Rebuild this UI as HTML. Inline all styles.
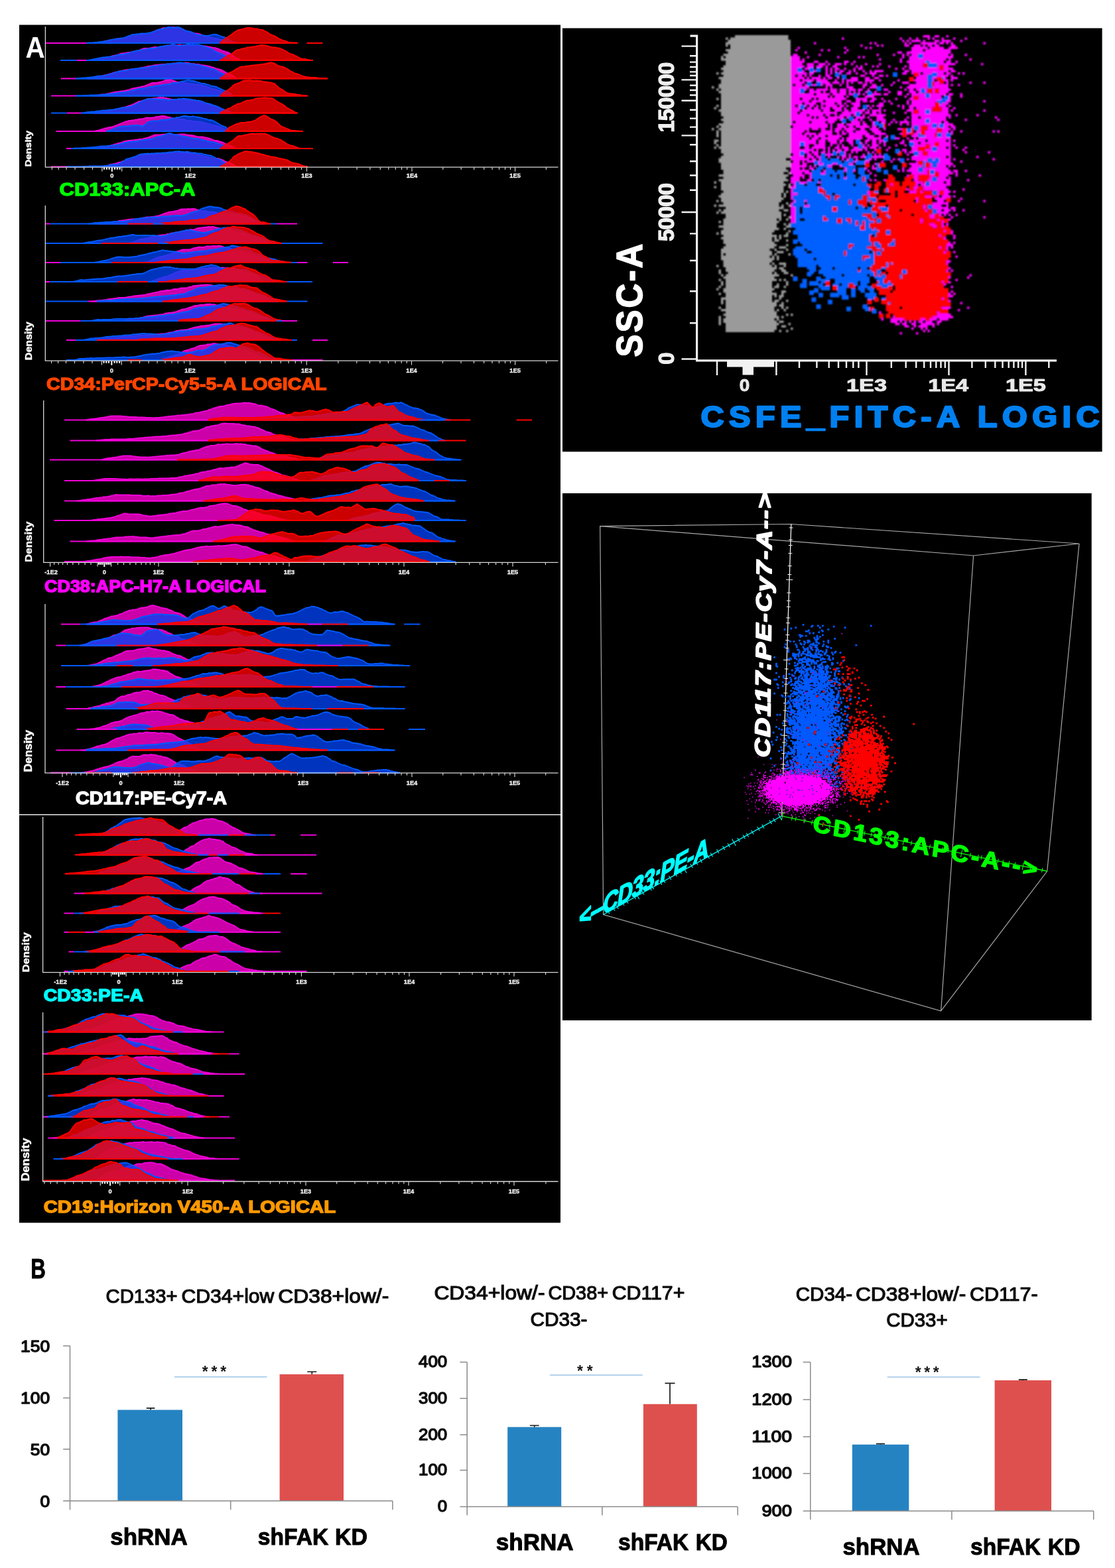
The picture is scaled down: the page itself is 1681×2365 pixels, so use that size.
<!DOCTYPE html>
<html lang="en">
<head>
<meta charset="utf-8">
<title>Figure: flow cytometry histograms and bar charts</title>
<style>
html,body{margin:0;padding:0;background:#fff;}
body{width:1681px;height:2365px;}
svg{display:block;}
text{font-family:"Liberation Sans","DejaVu Sans",sans-serif;}
.b{font-weight:bold;}
.bi{font-weight:bold;font-style:italic;}
</style>
</head>
<body>
<svg width="1681" height="2365" viewBox="0 0 1681 2365">
<defs><filter id="bl0" x="-2%" y="-2%" width="104%" height="104%"><feGaussianBlur stdDeviation="0.5"/></filter>
<filter id="bl1" x="-5%" y="-5%" width="110%" height="110%"><feGaussianBlur stdDeviation="0.9"/></filter>
<filter id="bl2" x="-5%" y="-5%" width="110%" height="110%"><feGaussianBlur stdDeviation="0.55"/></filter></defs>
<rect x="29" y="37.5" width="816" height="1806.8" fill="#000"/>
<rect x="848" y="42.5" width="813.6" height="638.8" fill="#000"/>
<rect x="848" y="744" width="797.7" height="795" fill="#000"/>
<line x1="29" y1="1228.8" x2="845" y2="1228.8" stroke="#e8e8e8" stroke-width="1.6"/>
<g id="histograms" filter="url(#bl0)">
<g id="hist1" transform="scale(.5)" stroke-width="3.7" stroke-linejoin="round">
<path d="M283 130l5-1h5l5-1l5-1l5-1l5-1l5-1l5-1l5-1l5-1l5-1h5l5-2l5-1h5h5l5-1h5l5-1l5-1l5-1l5-2l5-1l5-1l5-2l5-1l5-2l5-1h5l5-1h5h5l5-1l5-2l5-2l5-1l5-3l5-2l5-1l5-2l5-2l5-2l5 1l5-1l5-1h5h5l5-1l5 1h5l5 1l5 2l5 2l5 1l5 3l5 2l5 2l5 1l5 1l5 1l5 2h5l5 1l5 1l5 2l5 2l5 1l5 2l5 2l5 1l5 1l5 1l5 1l5 1l5 1l5 1l5 1l5 1l5 2l5 1l5 1l5 2l5 1l5 1l5 1z" fill="#ff00d2" fill-opacity="0.8" stroke="#f000d8"/>
<path d="M261 130l5-1h5h5h5l5-1h5l5-1h5l5-1h5l5-2h5l5-2l5-1l5-1l5-1l5-1l5-1h5l5-1l5-1h5l5-2l5-2l5-2l5-1l5-3l5-1h5l5-1h5l5-1l5-1h5h5h5l5-1l5-1l5-1l5-2l5-2l5-2l5-2l5-1l5-1h5l5-3h5l5-3h5l5 1h5l5 1l5-1l5-1l5 1l5 2l5 3l5 3l5 2l5 1l5 1l5 1l5 2l5 3l5 2l5 2h5l5 1h5l5 2h5h5l5-1l5-1l5-2h5h5l5 1l5 2l5 2l5 2l5 1l5 2l5 3l5 3l5 3l5 3l5 1l5 1l5 2z" fill="#0044f4" fill-opacity="0.78" stroke="#0058ff"/>
<path d="M662 130l5-3l5-5l5-4l5-4l5-2l5-4l5-3l5-4l5-4l5-3l5-3l5-1l5-1l5-1l5-2l5-1l5-1h5l5 1h5l5 2h5h5l5 2l5 1h5l5 3l5 2l5 3l5 4l5 2l5 3l5 1l5 3l5 3l5 3l5 2l5 2l5 2l5 1l5 2l5 2h5l5 1h5h5l5 1z" fill="#ff0008" fill-opacity="0.8" stroke="#ff0000"/>
<path d="M136 130H261" stroke="#f000d8" stroke-width="4.2" fill="none"/>
<path d="M261 130H662" stroke="#0058ff" stroke-width="4.2" fill="none"/>
<path d="M662 130H895M925 130H973" stroke="#ff0000" stroke-width="4.2" fill="none"/>
<path d="M283 182l5-1h5l5-1l5-1l5-1l5-1l5-2l5-1l5-1l5-2l5-2l5-1l5-1l5-1l5-2l5-2l5-1h5l5-1l5-1l5-1h5l5-1l5-2h5l5-1l5-2l5-2l5-2l5-2h5h5h5l5-1l5-1l5-1l5-1l5 1l5-1h5l5-1l5-2h5l5-2l5 1l5-2l5 1l5-1l5-1l5 2l5-1l5-1l5 2l5-1h5l5 1h5h5h5h5h5l5-1l5-1l5 2l5 1l5 1h5l5 1l5 1l5 1l5 1l5 1h5l5 2l5 1l5 2l5 3l5 2l5 1l5 2l5 1l5 3l5 3l5 5l5 3l5 4l5 1l5 3l5 2z" fill="#ff00d2" fill-opacity="0.8" stroke="#f000d8"/>
<path d="M261 182h5l5-1l5-1l5-1l5-1l5-1l5-1l5-1l5-1l5-1h5l5-1h5l5-1h5l5-1l5-2l5-1l5-1l5-1l5-1h5l5-1l5-1l5-1l5-2l5-2l5-1l5-1l5-2l5-1h5l5-1l5-1h5l5-2l5-1h5l5-1h5h5l5-2l5-1l5-2l5-1h5l5-1l5-1l5-1h5l5-2l5-2l5 2l5 2l5 1l5 1l5-1l5-1h5l5-2l5-1h5l5 1l5-1l5 1h5h5h5l5 2l5 1l5 3h5l5 3l5 1l5 2l5 2l5 4l5 3l5 3l5 1l5 2l5 2l5 3l5 4l5 2l5 3l5 2l5 2l5 2z" fill="#0044f4" fill-opacity="0.78" stroke="#0058ff"/>
<path d="M662 182l5-1l5-3l5-4l5-3l5-3l5-1l5-3l5-4l5-4l5-4l5-2h5l5-2l5-1l5-1l5-2l5-1h5l5-1l5-1h5l5-2h5l5-2l5-1h5l5 1h5l5 2l5 1l5 2l5 1h5h5l5 2h5l5 2l5 2l5 3l5 2l5 4l5 3l5 2l5 1l5 2l5 3l5 2l5 3l5 3l5 1h5l5 1l5 1l5 1l5 1h5z" fill="#ff0008" fill-opacity="0.8" stroke="#ff0000"/>
<path d="M231 182H261" stroke="#f000d8" stroke-width="4.2" fill="none"/>
<path d="M182 182H231M261 182H662" stroke="#0058ff" stroke-width="4.2" fill="none"/>
<path d="M662 182H944" stroke="#ff0000" stroke-width="4.2" fill="none"/>
<path d="M265 237l5-1l5-1h5l5-1h5l5-2l5-1l5-1l5-1l5-2l5-1l5-1l5-2l5-1l5-2l5-1l5-1l5-2l5-1l5-1l5-1l5-1l5-1l5-1h5l5-1l5-1h5h5l5-1l5-1l5-2h5l5-1l5-1l5-2h5l5-1l5-1l5-1l5-1h5l5-1h5l5-1h5h5l5-1h5h5l5-1l5-1h5h5h5h5l5-1h5l5-1l5 1h5l5 2l5 1l5-1l5 2h5h5l5 2l5 1h5l5 1l5 1l5 1l5 1l5 2l5 1l5 2l5 2l5 1l5 1l5 2l5 3l5 3l5 3l5 3l5 1l5 2l5 4l5 3l5 3z" fill="#ff00d2" fill-opacity="0.8" stroke="#f000d8"/>
<path d="M228 237h5l5-1h5l5-1h5h5l5-1h5l5-1h5l5-1l5-1l5-1l5-1h5h5h5l5-2l5-1l5-1l5-2l5-1l5-2l5-2l5-1l5-1l5-1l5-1h5h5l5-2l5-2h5l5-2h5l5-1h5l5-1l5-1h5h5l5-1h5l5-2h5l5-2l5-1h5h5l5-2h5l5-1l5-1l5-1l5-1h5h5l5-1l5-1l5 1l5-2l5-1h5h5l5 1l5 1l5 1h5h5l5 1h5l5 2h5l5 1l5 1l5 2l5 1l5 1l5 2l5 1l5 2l5 2h5l5 2l5 3l5 3l5 3l5 2l5 2l5 3l5 4l5 4l5 2V237z" fill="#0044f4" fill-opacity="0.78" stroke="#0058ff"/>
<path d="M662 237l5-3l5-2l5-4l5-4l5-2l5-3l5-1l5-3l5-3l5-4l5-2l5-3l5-2h5h5l5-2l5 1l5-2h5l5-1h5l5-1h5l5-1l5-1h5l5-1l5-1l5-2h5l5-2l5 2l5 1l5 3l5 3l5 2l5 2h5l5 2l5 3l5 2l5 4l5 3l5 2l5 3l5 2l5 1l5 2l5 2l5 2l5 2l5 1l5 1h5l5 1h5h5h5l5 1l5 1h5h5h5l5 1h5z" fill="#ff0008" fill-opacity="0.8" stroke="#ff0000"/>
<path d="M184 237H228" stroke="#f000d8" stroke-width="4.2" fill="none"/>
<path d="M228 237H662" stroke="#0058ff" stroke-width="4.2" fill="none"/>
<path d="M662 237H987" stroke="#ff0000" stroke-width="4.2" fill="none"/>
<path d="M281 289h5l5-1l5-1l5-1l5-1h5h5l5-2h5l5-2l5-1l5-1l5-1l5-1h5l5-1l5-1h5l5-1l5-2h5l5-2l5-2l5-1l5-1l5-1l5-1l5-1l5-2h5l5-2l5-2l5-2l5-2l5-2l5-1h5h5l5-1l5-1l5-1l5-2l5-2l5-1h5l5-1h5l5 2l5 1l5 3l5 1h5h5l5 2h5l5 1l5 1h5l5 1l5 1h5l5 2l5-1l5 1l5 1l5 1l5 1l5 1l5 2l5 2l5 2l5 2l5 1l5 1l5 2l5 1l5 1l5 3l5 3l5 3l5 3l5 2l5 1z" fill="#ff00d2" fill-opacity="0.8" stroke="#f000d8"/>
<path d="M228 289h5h5h5h5l5-1h5h5h5l5-1h5h5h5h5h5l5-1h5l5-1h5l5-1h5l5-1h5l5-1l5-1h5l5-1l5-1h5h5l5-1l5-1l5-1l5-2l5-2h5l5-1l5-1l5-2l5-1h5h5l5-2h5l5-2l5-1h5l5-1l5-2h5h5l5-1l5-1l5-1l5-1h5l5-1h5l5-3l5-1h5h5l5-1l5-2l5-2h5l5-1l5-1l5-2l5 2l5 1h5l5 1l5 2l5 2l5 1l5 2h5h5l5 3h5l5 2l5 3h5l5 1l5 1l5 3l5 2l5 2l5 3l5 2l5 1l5 3l5 3l5 4l5 4z" fill="#0044f4" fill-opacity="0.78" stroke="#0058ff"/>
<path d="M662 289l5-2l5-5l5-4l5-4l5-2l5-4l5-4l5-5l5-4l5-2l5-2l5-1l5-3l5-3l5-1h5h5l5-1l5 1l5 1h5l5-1l5 1h5h5l5 2l5 1h5l5 1l5 1h5l5 2l5 1l5 5l5 4l5 5l5 2l5 3l5 4l5 3l5 3l5 1l5 1h5l5 1h5l5 2h5l5 1l5 1h5l5 1h5z" fill="#ff0008" fill-opacity="0.8" stroke="#ff0000"/>
<path d="M154 289H228" stroke="#f000d8" stroke-width="4.2" fill="none"/>
<path d="M228 289H662" stroke="#0058ff" stroke-width="4.2" fill="none"/>
<path d="M662 289H927" stroke="#ff0000" stroke-width="4.2" fill="none"/>
<path d="M283 341l5-1h5l5-1h5l5-1l5-1l5-1h5h5l5-1l5-2l5-1l5-2l5-1l5-1l5-2l5-1l5-1l5-1l5-2l5-2l5-1l5-2l5-2l5-3l5-2l5-3h5l5-2l5-1l5-2l5-2l5-1h5h5l5-2l5 1l5-1l5-1l5-1l5 1l5-1l5 2h5l5 2l5 1l5 1h5h5l5 1h5h5l5 1l5-1h5l5 1l5 1h5h5h5h5l5 2l5 2l5 1l5 2l5 2l5 1l5 1l5 1l5 1l5 1l5 2l5 2l5 2l5 2l5 3l5 3l5 2l5 1l5 1l5 2l5 3V341z" fill="#ff00d2" fill-opacity="0.8" stroke="#f000d8"/>
<path d="M245 341h5l5-1l5-1l5-1h5l5-1h5h5l5-1l5-1h5l5-1l5-1h5h5l5-1h5l5-1h5l5-1l5-1l5-1l5-1l5-1l5-1l5-1h5l5-1l5-1l5-1l5-2l5-2l5-3l5-2l5-3l5-2l5-3l5-2l5-2l5-1l5-1l5 1h5h5h5h5l5 1h5h5l5 1l5-1l5 2h5l5-1h5l5-1l5 1l5-2l5-1l5 1l5-2l5 1h5l5 1h5l5 1l5 1l5 1h5l5 2l5-1l5 2l5 1l5 2l5 3l5 1l5 1l5 1l5 2l5 2l5 1l5 2l5 2l5 3l5 2l5 2l5 2l5 1l5 2l5 2l5 3l5 1z" fill="#0044f4" fill-opacity="0.78" stroke="#0058ff"/>
<path d="M662 341l5-2l5-3l5-3l5-2l5-3l5-1l5-2l5-4l5-3l5-2l5-3h5l5-2l5-3l5-2l5-2l5-1h5l5-1l5-1l5-2l5-2h5l5-1h5h5l5-1h5l5 1h5h5l5 1l5 3l5 4l5 3l5 3l5 2l5 3l5 3l5 5l5 3l5 3l5 2l5 3l5 3l5 3l5 1z" fill="#ff0008" fill-opacity="0.8" stroke="#ff0000"/>
<path d="M201 341H245" stroke="#f000d8" stroke-width="4.2" fill="none"/>
<path d="M154 341H201M245 341H662" stroke="#0058ff" stroke-width="4.2" fill="none"/>
<path d="M662 341H895" stroke="#ff0000" stroke-width="4.2" fill="none"/>
<path d="M283 396l5-1l5-1l5-1l5-2l5-1l5-2l5-1l5-1l5-2h5l5-1l5-2l5-2l5-2l5-2l5-2l5-2l5-2l5-2l5-1l5-2h5l5-1h5l5-2h5l5-2h5h5l5-1l5-2l5-1h5l5 1l5-1h5l5-2l5-1h5l5-1l5-1h5l5 1l5 1l5 2h5l5 2l5 1l5 2l5-1l5 1l5 1h5h5l5 1l5 2l5 1h5l5 1l5 1h5l5 1h5l5 1h5l5 2l5 1l5 1l5 2l5 1l5 2l5 1l5 1l5 1l5 2l5 1l5 2l5 2l5 3l5 2l5 2l5 2z" fill="#ff00d2" fill-opacity="0.8" stroke="#f000d8"/>
<path d="M320 396l5-1l5-1l5-2l5-2l5-2l5-2l5-2l5-1l5-1l5-1h5h5h5l5-1l5-1h5l5-1h5l5-1l5 2l5 1l5 1l5-4l5-3l5-5l5-2l5-1l5-1h5h5h5l5-1l5-2h5l5-1l5 1l5-1l5-1l5-2l5-1h5l5-2l5-1h5l5-2l5-1l5-1h5l5 1l5 1h5l5-1h5l5 2h5l5 1l5 1l5 1l5 2h5l5 2l5 2h5l5 1l5 2l5 3l5 3l5 3l5 3l5 3l5 1l5 2l5 5l5 5l5 3z" fill="#0044f4" fill-opacity="0.78" stroke="#0058ff"/>
<path d="M678 396l5-3l5-6l5-4l5-2l5-2l5-3l5-2l5-1l5-2l5-1h5h5l5-1l5-1h5l5-1l5-2l5-2l5-2l5-4l5-3l5-3l5-2l5-1l5 2l5 3l5 4l5 2l5 2l5 3l5 3l5 5l5 5l5 4l5 2l5 2l5 2l5 2l5 2l5 3h5h5l5 1h5l5 1h5h5z" fill="#ff0008" fill-opacity="0.8" stroke="#ff0000"/>
<path d="M169 396H320" stroke="#f000d8" stroke-width="4.2" fill="none"/>
<path d="M320 396H678" stroke="#0058ff" stroke-width="4.2" fill="none"/>
<path d="M678 396H911" stroke="#ff0000" stroke-width="4.2" fill="none"/>
<path d="M283 448l5-1h5l5-1l5-1l5-1h5l5-1l5-1l5-1l5-2l5-1l5-2l5-1l5-2l5-1l5-1l5-2l5-2l5-1l5-1l5-1h5l5-1h5l5-1h5l5-2h5h5l5-2l5-1l5-1l5-2l5-2l5-2l5-2l5-1h5h5h5l5-1h5l5-1h5l5-1l5 1l5 1h5h5h5h5l5-1h5h5h5l5 2h5l5 1h5l5 1l5 1l5 2l5 1h5h5h5l5 2h5l5 2l5 1l5 2l5 2l5 2h5l5 1l5 2l5 1l5 2l5 3l5 2l5 2l5 2l5 2l5 3l5 3l5 1z" fill="#ff00d2" fill-opacity="0.8" stroke="#f000d8"/>
<path d="M215 448h5l5-1h5h5h5h5l5-1h5h5l5-1h5h5l5-1h5l5-1h5l5-1l5-1h5h5h5l5-1h5l5-1h5l5-1l5-1h5l5-2l5-1l5-2l5-1l5-1l5-1l5-1h5l5-1h5l5-1h5l5-1l5-2h5l5-1h5l5-1l5-1h5l5-1l5-3l5-1l5-2l5-1l5-1l5-2l5-1l5-2l5-3l5-1h5l5 2l5 2l5 1h5l5 1l5 1l5 2l5 1h5l5 1l5 2l5 1l5 1l5 1h5h5l5 1l5 2l5 1l5 1l5 1l5 2l5 1l5 1h5l5 1l5 2l5 1l5 2l5 2l5 2l5 2l5 1l5 2l5 3l5 2z" fill="#0044f4" fill-opacity="0.78" stroke="#0058ff"/>
<path d="M662 448l5-2l5-3l5-4l5-4l5-2l5-3l5-3l5-3l5-4l5-5l5-4l5-1h5l5-1l5-1l5-1l5-1l5-2h5l5-1l5 1h5l5-1l5 1l5-2l5 2l5-1l5 1l5 2l5 2l5 3l5 2l5 3l5 1l5 1l5 2l5 2l5 4l5 2l5 4l5 3l5 2l5 2l5 1l5 1l5 3l5 1l5 2l5 1z" fill="#ff0008" fill-opacity="0.8" stroke="#ff0000"/>
<path d="M200 448H215" stroke="#f000d8" stroke-width="4.2" fill="none"/>
<path d="M215 448H662" stroke="#0058ff" stroke-width="4.2" fill="none"/>
<path d="M662 448H944" stroke="#ff0000" stroke-width="4.2" fill="none"/>
<path d="M310 503l5-1l5-1l5-2l5-2l5-1l5-1l5-1l5-1l5-2l5-1l5-1l5-3h5l5-2l5-1h5l5-2l5-3l5-2l5-2l5-3l5-2l5-2l5 1l5-1h5h5l5-1h5h5h5h5l5-1l5-1h5l5-1h5h5h5l5-1h5l5-1h5l5 1h5l5-2l5 1h5h5l5-1l5 2h5l5 1h5l5 1l5 2l5 1l5 1l5 1l5 1l5 1l5 1l5 1l5 2h5l5 2l5 1h5h5l5 1l5 1l5 2l5 3l5 2l5 2l5 2l5 1l5 2l5 4l5 3l5 2z" fill="#ff00d2" fill-opacity="0.8" stroke="#f000d8"/>
<path d="M201 503h5h5h5h5h5h5h5h5h5l5-1h5h5h5l5-1h5h5h5h5h5h5h5h5l5-1h5l5-1l5-1l5-1l5-1h5h5l5-1l5-2l5-3l5-3l5-3l5-4l5-1l5-2l5-1l5-2l5-1l5-2l5-3l5-2l5-1h5l5-1h5l5-1l5 1l5-1h5h5l5-1h5h5h5l5-1h5h5l5-1l5-1h5h5l5-2h5h5l5-1l5 2h5l5 1l5-1h5l5 1l5 2h5h5h5l5 2h5h5l5 1l5 2h5l5 2l5 1h5l5 3l5 2l5 3l5 2l5 2l5 2l5 4l5 3l5 4l5 3l5 2l5 3l5 1z" fill="#0044f4" fill-opacity="0.78" stroke="#0058ff"/>
<path d="M662 503l5-2l5-2l5-4l5-2l5-3l5-3l5-5l5-6l5-5l5-2l5-4l5-2l5-2l5-2l5-2l5-1l5 1l5 1h5l5 1l5 1l5 1l5 1l5 1l5 2l5 1l5 1l5 2l5 1l5 1l5 2l5 1h5l5 1l5 1l5 2h5l5 2h5l5 2l5 1l5 3l5 3l5 2l5 1l5 1l5 1l5 1l5 3l5 1l5 2l5 1l5 1z" fill="#ff0008" fill-opacity="0.8" stroke="#ff0000"/>
<path d="M154 503H201" stroke="#f000d8" stroke-width="4.2" fill="none"/>
<path d="M201 503H662" stroke="#0058ff" stroke-width="4.2" fill="none"/>
<path d="M662 503H927" stroke="#ff0000" stroke-width="4.2" fill="none"/>
</g>
<g id="axis1">
<path d="M68.4 40V252.2H841.5" fill="none" stroke="#d8d8d8" stroke-width="1.3"/>
<path d="M198.1 252.2v3.7M139.5 252.2v3.7M211 252.2v3.7M126.6 252.2v3.7M224.5 252.2v3.7M113.1 252.2v3.7M237.5 252.2v3.7M100.1 252.2v3.7M249.4 252.2v3.7M88.2 252.2v3.7M259.3 252.2v3.7M78.3 252.2v3.7M268.6 252.2v3.7M278 252.2v3.7M339.7 252.2v3.7M370.6 252.2v3.7M392.6 252.2v3.7M409.6 252.2v3.7M423.5 252.2v3.7M435.3 252.2v3.7M445.5 252.2v3.7M454.5 252.2v3.7M510.2 252.2v3.7M538.1 252.2v3.7M557.9 252.2v3.7M573.3 252.2v3.7M585.8 252.2v3.7M596.4 252.2v3.7M605.6 252.2v3.7M613.7 252.2v3.7M667.8 252.2v3.7M695.2 252.2v3.7M714.7 252.2v3.7M729.8 252.2v3.7M742.1 252.2v3.7M752.5 252.2v3.7M761.5 252.2v3.7M769.5 252.2v3.7M823.4 252.2v3.7M286.8 252.2v6.2M183.7 252.2v6.2M153.9 252.2v6.2M462.5 252.2v6.2M621 252.2v6.2M776.6 252.2v6.2" fill="none" stroke="#d8d8d8" stroke-width="1.15"/>
<path d="M157 252.5v3.2M160.8 252.5v3.2M164.6 252.5v3.2M173 252.5v3.2M176.8 252.5v3.2M180.6 252.5v3.2M168.8 252.5v6.3" fill="none" stroke="#f4f4f4" stroke-width="2.1"/>
<text x="168.8" y="267.6" font-size="9.3" fill="#ececec" class="b" text-anchor="middle" stroke="#ececec" stroke-width="0.35">0</text>
<text x="286.8" y="267.6" font-size="9.3" fill="#ececec" class="b" text-anchor="middle" stroke="#ececec" stroke-width="0.35">1E2</text>
<text x="462.5" y="267.6" font-size="9.3" fill="#ececec" class="b" text-anchor="middle" stroke="#ececec" stroke-width="0.35">1E3</text>
<text x="621" y="267.6" font-size="9.3" fill="#ececec" class="b" text-anchor="middle" stroke="#ececec" stroke-width="0.35">1E4</text>
<text x="776.6" y="267.6" font-size="9.3" fill="#ececec" class="b" text-anchor="middle" stroke="#ececec" stroke-width="0.35">1E5</text>
<text x="0" y="0" font-size="13.4" fill="#ffffff" class="b" textLength="54.6" lengthAdjust="spacingAndGlyphs" transform="translate(47.4 251.6) rotate(-90)" stroke="#fff" stroke-width="0.45">Density</text>
<text x="89.5" y="294.5" font-size="27.0" fill="#00ff00" class="b" textLength="205" lengthAdjust="spacingAndGlyphs" stroke="#00ff00" stroke-width="1.3" stroke-linejoin="round">CD133:APC-A</text>
</g>
<g id="hist2" transform="scale(.5)" stroke-width="3.7" stroke-linejoin="round">
<path d="M298 675l5-1h5l5-2h5l5-1h5h5l5-1l5-1l5-1h5l5-2h5l5-1h5l5-1l5-1l5-1h5l5-1h5h5l5-1h5l5-1l5-1l5-1l5-1l5-1h5h5l5-1h5l5-1l5-1l5-1l5-2l5-2l5-2l5-2l5-1l5-2l5-1h5l5-1l5-1l5-1l5-2l5-2l5-1h5h5h5l5-1l5 1l5-1h5h5l5 2l5 2l5 2l5 1h5l5-1l5 1l5 2h5h5l5 1h5l5 2l5 1h5h5h5l5 1h5l5 2l5-1l5 1l5 1l5 1l5 1h5l5 1l5 1h5h5l5 2l5 1l5 3l5 3l5 3l5 2l5 2l5 3l5 2l5 1l5 1l5 1z" fill="#ff00d2" fill-opacity="0.8" stroke="#f000d8"/>
<path d="M267 675h5l5-1l5-1l5-1h5h5l5-1h5h5l5-1h5h5h5l5-1h5l5-1h5h5h5h5h5l5-1h5l5-1l5-1l5-1l5-2l5-1l5-1h5l5-1l5-1h5l5-1h5l5-1h5h5l5-1h5h5h5h5l5-2h5h5h5h5l5-1l5-1h5h5l5-1h5l5 1h5l5-1l5-1l5-2l5-1l5-3l5-2l5-1l5-2h5l5-2l5-3l5-3l5-2l5-1l5-2l5-1l5-1h5l5 1l5 1l5 1l5-1l5 2l5 1l5 3l5 2l5 1l5 2l5 2h5l5 1l5 3l5 1l5 1l5 1h5l5 2l5 1l5 1l5 2l5 3l5 2l5 3l5 3l5 3l5 3l5 2l5 1l5 2l5 2z" fill="#0044f4" fill-opacity="0.78" stroke="#0058ff"/>
<path d="M473 675h5l5-1l5-1h5l5-1h5h5h5l5-1l5-1l5-1h5h5l5-1h5h5h5l5-1l5-1l5-1l5-1h5h5h5l5-1l5-1h5h5l5-1l5-2l5-3l5-3l5-2l5-1l5-1l5-2l5-2l5-3l5-1l5-3h5l5-3l5-2l5-3l5-3l5-2l5-2l5-1l5 1l5 1l5 2l5 3l5 1l5 4l5 3l5 4l5 2l5 4l5 4l5 6l5 7l5 4l5 2h5l5 1l5 1l5 2l5 1z" fill="#ff0008" fill-opacity="0.8" stroke="#ff0000"/>
<path d="M138 675H151M834 675H896" stroke="#f000d8" stroke-width="4.2" fill="none"/>
<path d="M151 675H385M462 675H493M816 675H834" stroke="#0058ff" stroke-width="4.2" fill="none"/>
<path d="M385 675H462M493 675H816" stroke="#ff0000" stroke-width="4.2" fill="none"/>
<path d="M389 734l5-2l5-1l5-2l5-2l5-2l5-2l5-1l5-1h5l5-2h5l5-2l5-1l5-1l5-2h5l5-1l5-2h5l5-1h5l5-1l5-2h5l5-2l5-1h5l5-2h5l5-1l5-2h5l5-1l5-2h5l5-1l5-2l5 1h5l5-2l5-2l5-1l5-1h5l5-1h5l5-1l5-1l5 1l5-1h5l5 2l5 1l5 1l5 1l5 1l5 1h5h5l5 1l5 1l5 1l5 3l5 2h5l5 1l5 2l5 1h5l5 1l5 2l5 1l5 2l5 1l5 3l5 1l5 3l5 2l5 2l5 2l5 1l5 1l5 1l5 2l5 2l5 1l5 1l5 2z" fill="#ff00d2" fill-opacity="0.8" stroke="#f000d8"/>
<path d="M249 734l5-1l5-1l5-1l5-1h5l5-1l5-1l5-1l5-1l5-1h5l5-1l5-1l5-2h5l5-2l5-1h5l5-1l5-1l5-1l5-1h5l5-1l5-1h5l5-1l5-1l5-1l5-1h5l5 2h5h5h5h5h5h5h5h5l5 1l5-1h5l5 1h5l5 1l5 1h5l5-2h5l5-2l5-2l5-2l5-1l5-1l5-2h5l5-1l5-1l5-2h5l5-2l5-1h5h5l5 1l5 2l5 1l5 1l5 1l5 1l5 1h5h5l5-2l5-1l5-1l5-1l5-1l5-3l5-1l5-2l5-1h5l5-2h5h5l5 2h5l5 1l5 1h5l5 1l5 1l5 1l5 1l5 3l5 2l5 2l5 3l5 1l5 3l5 1l5 1l5 2l5 1l5 2l5 1l5 1l5 3l5 2l5 2l5 2l5 2h5l5 3l5 2z" fill="#0044f4" fill-opacity="0.78" stroke="#0058ff"/>
<path d="M489 734l5-1l5-1l5-1h5h5l5-1l5-1l5-1h5l5-1l5-1h5l5-1l5-1l5 1l5-1h5l5-1h5l5-2h5l5-1l5-1l5-1l5-1l5-1l5-2l5-3l5-3l5-2l5-2l5-2h5l5-3l5-2l5-3l5-3l5-1l5-3l5-1l5 1l5-3l5-1l5 1l5 1l5 1l5-1l5 1h5l5 1l5 2l5 1l5 3l5 2l5 3l5 3l5 3l5 2l5 2l5 2l5 3l5 4l5 4l5 3l5 3l5 1h5l5 1l5 2l5 1l5 1l5 1z" fill="#ff0008" fill-opacity="0.8" stroke="#ff0000"/>
<path d="M138 734H305M477 734H508M850 734H973" stroke="#0058ff" stroke-width="4.2" fill="none"/>
<path d="M305 734H477M508 734H850" stroke="#ff0000" stroke-width="4.2" fill="none"/>
<path d="M437 792v-1h5l5-2l5-2l5-2l5-3l5-1l5-3l5-2l5-1l5-1l5-1l5-1l5-2l5-1l5-2l5-2l5-2l5-2l5-2l5-1l5-2l5-2l5-1h5h5h5h5l5-2l5-2l5-1l5-1l5-1l5-1l5 1h5l5-1l5-2h5h5h5l5-1h5l5 1l5-2l5 1h5l5 2l5 2l5 2l5 1h5l5 1l5 2l5 2l5 1l5 2l5 1h5l5 2l5 1l5 1l5 1l5 1l5 2l5 2l5 2l5 2l5 1l5 3l5 1l5 1l5 1l5 2l5 3l5 3l5 3l5 2z" fill="#ff00d2" fill-opacity="0.8" stroke="#f000d8"/>
<path d="M286 792v-1h5l5-1l5-1l5-1l5-1l5-1l5-1l5-1l5-2l5-2l5-1l5-2l5-1l5-1h5h5l5 1h5h5h5h5l5-1h5l5-1h5l5-2l5-1l5-1l5-1l5-1l5-1l5-2l5-1l5-1l5-2h5l5-1l5-2l5-1l5-1l5-2l5 2h5l5 1l5 1h5l5 1h5h5l5 2l5 1l5 1l5 1h5l5-1h5l5-1h5l5-1l5-1l5-1h5l5-1h5l5-1h5h5l5-2l5-1h5l5-1h5l5-1l5-1l5-2h5l5-1l5-1l5-1l5-1h5l5-3l5-1l5 1l5 1h5l5 2h5l5 1l5 2l5 2l5 1l5 2l5 4l5 2l5 3l5 2l5 2l5 1l5 2l5 2l5 2l5 3l5 2l5 1l5 1l5 1l5 1l5 1l5 2l5 2l5 1h5l5 2l5 2z" fill="#0044f4" fill-opacity="0.78" stroke="#0058ff"/>
<path d="M471 792v-1h5l5-1l5-1h5l5-1h5l5-1l5-1h5l5-1h5l5-1h5l5-1h5h5l5-1h5l5-1l5-1l5-1l5-1l5-2h5l5-1l5-1l5-1h5h5l5-1l5-1l5-1l5-2l5-1l5-2h5l5-1l5-1l5-1h5l5-1l5-2l5-1l5-1l5-2l5-1l5-2l5-2l5-2l5-1l5-1h5l5-1h5l5 1l5 2l5 1l5 2h5l5 2l5 2l5 4l5 4l5 6l5 4l5 1l5 3l5 3l5 3l5 2l5 1h5l5 1h5l5 1l5 1h5l5 1l5 1h5h5V792z" fill="#ff0008" fill-opacity="0.8" stroke="#ff0000"/>
<path d="M138 792H182M896 792H927M1004 792H1050" stroke="#f000d8" stroke-width="4.2" fill="none"/>
<path d="M182 792H336M877 792H896" stroke="#0058ff" stroke-width="4.2" fill="none"/>
<path d="M336 792H877" stroke="#ff0000" stroke-width="4.2" fill="none"/>
<path d="M450 850l5-1l5-2l5-1l5-2l5-2l5-2l5-1l5-2l5-1l5-1l5-2l5-2l5-2l5-2l5-3l5-2l5-2l5-1l5-2l5-2h5l5 1h5l5-1h5l5-1h5h5h5l5-2l5-1h5l5-1l5-1l5 1l5-2h5l5-1l5 1h5h5h5h5l5-1l5 1l5 1l5-1l5 1h5l5 1l5-1l5 2l5 2l5 1l5 1l5 2l5 3l5 1l5 2l5 2l5 1l5 1l5 1l5 2l5 3l5 5l5 4l5 4l5 3V850z" fill="#ff00d2" fill-opacity="0.8" stroke="#f000d8"/>
<path d="M220 850l5-1l5-1l5-2l5-1l5-1l5 1h5l5-1h5l5-1h5l5-1h5h5l5-1h5h5h5l5-1l5-1l5-1h5l5-1l5-1l5-1l5-1l5-1h5h5h5l5-1l5-1h5l5-1l5-1l5-1h5l5-1l5-1h5h5l5-1l5-1l5-3l5-2l5-3l5-2l5-1l5-1l5-1l5-1l5-2h5l5-2h5l5-1l5 1h5h5l5 2h5l5 2l5-1l5 2h5h5h5h5l5 1l5-1l5 1l5-1l5 1l5-1l5-2l5-1l5-2l5-1l5-1l5-2h5l5-1l5-2h5l5 2h5l5 2l5 2l5 3l5 2h5h5l5 1h5l5-1l5 2l5 1l5-1l5 1h5l5 1l5-1l5 1h5l5 1l5 2l5 3l5 3l5 1l5 2l5 2l5 2l5 2h5l5 2l5 2l5 3l5 2l5 2l5 1l5 2l5 3l5 1z" fill="#0044f4" fill-opacity="0.78" stroke="#0058ff"/>
<path d="M495 850h5l5-1l5-2h5h5l5-1h5l5-1l5-1l5-1h5l5-1l5-1l5-1h5h5l5-1h5h5l5-1l5-1l5-2l5-1l5-1l5-1l5-1l5-1l5-1h5l5-1l5-2l5-2l5-3l5-3l5-2l5-3l5-2l5-1l5-1h5l5-3l5-2l5-1l5-2h5l5-2l5 3l5 2l5 3l5 1l5 1l5 2l5 1l5 2l5 1l5 4l5 3l5 3l5 2l5 2l5 1l5 3l5 3l5 4l5 3l5 2h5l5 1h5l5 1l5 1l5 1l5 1h5z" fill="#ff0008" fill-opacity="0.8" stroke="#ff0000"/>
<path d="M138 850H151" stroke="#f000d8" stroke-width="4.2" fill="none"/>
<path d="M151 850H354M446 850H477M865 850H942" stroke="#0058ff" stroke-width="4.2" fill="none"/>
<path d="M354 850H446M477 850H865" stroke="#ff0000" stroke-width="4.2" fill="none"/>
<path d="M276 909h5l5-1l5-1h5l5-1h5l5-1h5l5-1l5-1l5-1h5l5-1l5-1h5l5-2h5h5h5h5l5-1l5-1l5-1h5l5-2h5l5-1h5l5-1h5l5-1h5l5-2l5-1l5-1l5-1l5-1l5-1l5-1l5-1l5-2l5-1h5l5-1l5-1l5-1l5 1l5-1l5-2l5-1h5h5l5-2l5-1h5h5h5l5-1l5-3l5 1l5-3l5-1h5l5-1h5l5-1h5h5l5-1h5l5 1h5l5 1l5 2l5 1l5-1l5 2l5 1l5 1l5-1l5 1l5 1l5-1l5 2l5-1l5 1l5 1h5l5 1l5 1h5l5-1l5 2l5 2l5 2l5 1l5 2l5 2l5 3l5 2l5 1l5 3l5 1l5 2h5l5 2l5 3l5 2l5 3l5 2l5 2l5 1z" fill="#ff00d2" fill-opacity="0.8" stroke="#f000d8"/>
<path d="M289 909h5l5-1l5-1h5h5h5l5-1h5h5h5l5-1l5-1h5h5l5-1h5l5-1h5h5h5h5h5l5-1h5h5h5l5-1h5l5-1h5h5l5-1l5-1l5-1h5h5l5-1h5l5-1h5l5-1h5h5l5-1l5-1h5h5l5-1l5-1l5-1h5l5-1h5l5-2l5-2l5-3l5-1l5-2l5-2l5-3l5-2l5-2h5h5l5-1h5l5-1l5-1l5-2h5l5-1h5l5-1l5-2l5 1h5h5l5 1l5 1l5 3h5h5h5l5 1l5 1l5 1l5 2l5 2l5 1h5l5 1l5 1l5 2l5 2l5 2l5 2l5 2l5 2l5 1l5 1l5 1l5 2l5 3l5 2l5 2l5 3l5 1l5 1l5 2l5 3z" fill="#0044f4" fill-opacity="0.78" stroke="#0058ff"/>
<path d="M495 909l5-1h5l5-1l5-1l5-1h5l5-1h5l5-1l5-1l5-1h5l5-1h5l5-1l5-1l5-1l5-1l5-1l5-1l5-2l5-1l5-1l5-1l5-1l5-1l5-2l5-3l5-1l5-1l5-2h5l5-3l5-1l5-3l5-2l5-2l5-2l5-2l5 1h5l5-1l5-1h5l5-1l5-1l5 1h5h5h5l5 2l5 3l5 1l5 1h5l5 1l5 4l5 4l5 4l5 2l5 2l5 3l5 3l5 3l5 4l5 3l5 1l5 1l5 1l5 1l5 2h5l5 1l5 1z" fill="#ff0008" fill-opacity="0.8" stroke="#ff0000"/>
<path d="M265 909H292" stroke="#f000d8" stroke-width="4.2" fill="none"/>
<path d="M138 909H265M292 909H489M865 909H927" stroke="#0058ff" stroke-width="4.2" fill="none"/>
<path d="M489 909H865" stroke="#ff0000" stroke-width="4.2" fill="none"/>
<path d="M374 968l5-1l5-1l5-2l5-1l5-1h5l5-1l5-1h5l5-2h5l5-2l5-1l5-1l5-1h5l5-1h5l5-1h5l5-1l5-1h5l5-2l5-2h5l5-1h5l5-1l5-1l5-1l5-2l5-2l5-2l5-2h5l5-1l5-2l5-2l5-1l5-2l5-2l5-1h5l5-1l5-1l5-1l5 1l5-2h5h5l5-1l5 2l5-1l5 1l5 2h5l5 2l5 1l5 1l5 1h5h5l5 1l5 1l5 2l5 2l5 1l5 1l5 2l5 1h5l5 1l5 1l5 2l5 1l5 3l5 2l5 3l5 1l5 2l5 1l5 2l5 2l5 1l5 2l5 3l5 3V968z" fill="#ff00d2" fill-opacity="0.8" stroke="#f000d8"/>
<path d="M274 968l5-1l5-1l5-1l5-1h5l5 1l5-1h5h5h5h5h5l5-1h5l5-1h5h5h5h5h5h5h5l5-1h5h5h5l5-1h5h5l5-1l5-1h5l5-1l5-1h5h5h5l5-1l5-1h5l5-1l5-1l5 1l5-1l5-1l5-1l5-1h5h5l5-1l5-1l5-1l5-1l5-1l5-2h5l5-1l5-1l5-1l5-2l5-2l5-3l5-2h5l5-3l5 1h5l5-1l5-1h5h5l5-1l5-2l5 1l5-1l5-1l5-2l5-1l5-2l5-1l5 1l5 1l5 1l5 1l5 1l5 2l5 1l5 1l5 2l5 1l5 2l5 1l5 3l5 2l5 1l5 2h5l5 2l5 1l5 3l5 2l5 3l5 3l5 1l5 2l5 1l5 1l5 3l5 2l5 2l5 2l5 1z" fill="#0044f4" fill-opacity="0.78" stroke="#0058ff"/>
<path d="M532 968l5-1l5-1l5-1l5-1h5h5l5-1h5h5l5-1h5h5h5l5-1l5-2l5-2l5-3l5-2l5-2l5-1l5-3l5-3l5-4l5-3l5-3l5-1l5-1l5-2l5-1l5-2l5-2l5-4h5l5-3l5-1h5l5 1l5-1h5h5l5-1l5 2l5 1l5 3l5 4l5 2l5 3h5l5 2l5 3l5 3l5 4l5 4l5 2l5 2l5 3l5 3l5 3l5 3l5 1l5 2h5l5 1l5 2z" fill="#ff0008" fill-opacity="0.8" stroke="#ff0000"/>
<path d="M138 968H243M850 968H896" stroke="#f000d8" stroke-width="4.2" fill="none"/>
<path d="M243 968H539M834 968H850" stroke="#0058ff" stroke-width="4.2" fill="none"/>
<path d="M539 968H834" stroke="#ff0000" stroke-width="4.2" fill="none"/>
<path d="M286 1026l5-1l5-1l5-1h5h5l5-1l5-1h5l5-1h5l5-1h5h5l5-1l5-1l5-1h5l5-1h5h5l5-1h5h5h5l5-1l5-1h5h5h5h5l5-1h5l5-1h5h5l5-1l5-1h5h5l5-1h5h5l5-1l5-2l5-1h5l5-1l5-2l5-2h5l5-1l5-1h5l5-1h5l5-1l5-2l5-1l5-2l5-1l5-1l5-1l5-1l5-2h5h5l5-1h5l5-1l5-2h5l5-2h5h5h5h5l5 1h5h5l5 2l5 1l5 2l5 1l5-1l5 1l5 1h5l5 2l5 1l5 2l5 3l5 1l5 1l5 2h5l5 1l5 2l5 1l5 2l5 3l5 3l5 2l5 4l5 2l5 2l5 1l5 2l5 3V1026z" fill="#ff00d2" fill-opacity="0.8" stroke="#f000d8"/>
<path d="M251 1026l5-1l5-1l5-1l5-2h5h5l5-1h5h5l5-1h5l5-1l5-1l5-1h5l5-1h5l5-1h5h5l5-1h5h5l5-1l5-1h5h5h5l5-1l5-2l5 1l5-1h5l5-1h5l5-1h5l5 1h5h5h5l5 1h5h5l5 1l5 1l5-1h5l5-1l5-1l5-1l5-1h5l5-2l5-1l5-1h5l5-2l5-1l5 1l5-1h5l5-1h5l5-1l5-1l5-1l5-1h5h5h5l5-1h5l5-2h5l5-1l5-3l5-1h5l5-1l5-2l5-1l5-1l5-1l5-2l5 1l5-2l5-1h5l5 2l5 2l5 2h5l5 2l5 1l5 1l5 2h5l5 2l5 2l5 2l5 2l5 3l5 2l5 3l5 2h5l5 1l5 2l5 2l5 3l5 2l5 2l5 2l5 2l5 1l5 2l5 2z" fill="#0044f4" fill-opacity="0.78" stroke="#0058ff"/>
<path d="M409 1026h5l5-1l5-2h5h5h5h5h5l5-1h5l5-1h5h5h5h5h5h5h5l5-1l5 1h5l5-1h5h5l5-1h5l5-1h5h5l5-1l5-1h5l5-1h5h5l5-1h5h5l5-1l5-1l5-2l5-2l5-1l5-2l5-1l5-2l5-1l5-1l5-2l5-2l5-4l5-2l5-2l5-2l5-2l5-1l5-1h5l5-1h5l5-3l5-1l5-1l5-1l5 1h5l5 2l5 2l5 1l5 1l5 2l5 1h5l5 4l5 4l5 3l5 3l5 4l5 2l5 2l5 2l5 4l5 3l5 2l5 2l5 1h5l5 1l5 1h5l5 1l5 1l5 1h5z" fill="#ff0008" fill-opacity="0.8" stroke="#ff0000"/>
<path d="M200 1026H228M942 1026H988" stroke="#f000d8" stroke-width="4.2" fill="none"/>
<path d="M228 1026H292M880 1026H896" stroke="#0058ff" stroke-width="4.2" fill="none"/>
<path d="M292 1026H880" stroke="#ff0000" stroke-width="4.2" fill="none"/>
<path d="M481 1086h5l5-2l5-2l5-2l5-2l5-1l5-2l5-1l5-2l5-1l5-2l5-3l5-2l5-3l5-3l5-1l5-1l5-2l5-2l5-1l5-1l5-3l5-2l5-2l5-1h5l5-1h5l5-3l5 1l5-1l5-1l5-1l5 1l5 1l5 1h5l5 1h5l5 1l5 1l5 2l5 1h5l5 3l5 2l5 2l5 1l5 2h5h5l5 2l5 2l5 1l5 3l5 2l5 2l5 3l5 2l5 2l5 2l5 2l5 1l5 1l5 2l5 3l5 1z" fill="#ff00d2" fill-opacity="0.8" stroke="#f000d8"/>
<path d="M220 1086h5l5-1l5-2l5-1h5h5h5l5-1h5h5l5-1l5 1h5l5-1h5h5h5h5h5l5-1h5h5h5h5h5l5-1h5h5h5l5-1h5l5 1h5h5l5-1h5h5l5-1l5-1l5-1l5-1l5-1l5-1l5-1l5-1h5l5-1l5-1l5 1l5-1l5-1h5l5-2l5-1l5-1l5-1l5-1h5l5-1h5l5 1l5 1h5h5l5 2h5l5 1l5 1h5l5-2h5l5-1l5-1l5-2l5-1l5-1h5h5l5-1l5-2l5-2l5-4l5-3l5-2l5-2l5-2l5 1l5-2l5 1l5-2h5l5-2l5-1h5h5l5 1l5 2l5 1l5 2l5 1l5 2l5 2l5 1l5 1l5 2l5 2l5 1l5 3l5 3l5 2l5 2l5 1l5 1l5 2l5 3l5 2l5 3l5 3l5 2l5 2l5 1l5 3l5 1z" fill="#0044f4" fill-opacity="0.78" stroke="#0058ff"/>
<path d="M476 1086h5l5-1l5-1h5h5l5-1h5l5-1l5-1l5-1h5l5-1h5l5-1l5-1l5-2l5-2l5-3h5h5l5 2l5 2l5 1l5 1l5 1l5-1l5-1l5-1l5-1l5-1l5-1l5-2l5-3l5-4l5-3l5-3l5-3l5-2l5 1l5-2h5l5-1h5h5l5-1l5 2l5 1l5-3l5-2l5-4l5-4l5-1l5-1l5-1l5 1l5 2h5l5 1l5 1l5 3l5 3l5 5l5 4l5 4l5 4l5 3l5 3l5 3l5 4l5 3l5 2h5h5l5 1l5 1l5 1h5l5 1h5l5 1h5z" fill="#ff0008" fill-opacity="0.8" stroke="#ff0000"/>
<path d="M880 1086H973" stroke="#f000d8" stroke-width="4.2" fill="none"/>
<path d="M200 1086H385M428 1086H493" stroke="#0058ff" stroke-width="4.2" fill="none"/>
<path d="M385 1086H428M493 1086H880" stroke="#ff0000" stroke-width="4.2" fill="none"/>
</g>
<g id="axis2">
<path d="M68.3 310V544.2H841.5" fill="none" stroke="#d8d8d8" stroke-width="1.3"/>
<path d="M197.6 544.2v3.7M139 544.2v3.7M210.6 544.2v3.7M126 544.2v3.7M224.1 544.2v3.7M112.5 544.2v3.7M237.1 544.2v3.7M99.5 544.2v3.7M249 544.2v3.7M87.6 544.2v3.7M259 544.2v3.7M77.6 544.2v3.7M268.3 544.2v3.7M277.6 544.2v3.7M339.4 544.2v3.7M370.4 544.2v3.7M392.3 544.2v3.7M409.4 544.2v3.7M423.3 544.2v3.7M435.1 544.2v3.7M445.3 544.2v3.7M454.3 544.2v3.7M509.9 544.2v3.7M537.8 544.2v3.7M557.5 544.2v3.7M572.9 544.2v3.7M585.4 544.2v3.7M596 544.2v3.7M605.2 544.2v3.7M613.3 544.2v3.7M667.5 544.2v3.7M695 544.2v3.7M714.5 544.2v3.7M729.6 544.2v3.7M742 544.2v3.7M752.4 544.2v3.7M761.5 544.2v3.7M769.5 544.2v3.7M823.6 544.2v3.7M286.5 544.2v6.2M183.2 544.2v6.2M153.4 544.2v6.2M462.3 544.2v6.2M620.5 544.2v6.2M776.6 544.2v6.2" fill="none" stroke="#d8d8d8" stroke-width="1.15"/>
<path d="M156.5 544.5v3.2M160.3 544.5v3.2M164 544.5v3.2M172.6 544.5v3.2M176.3 544.5v3.2M180.1 544.5v3.2M168.3 544.5v6.3" fill="none" stroke="#f4f4f4" stroke-width="2.1"/>
<text x="168.3" y="561.5" font-size="9.3" fill="#ececec" class="b" text-anchor="middle" stroke="#ececec" stroke-width="0.35">0</text>
<text x="286.5" y="561.5" font-size="9.3" fill="#ececec" class="b" text-anchor="middle" stroke="#ececec" stroke-width="0.35">1E2</text>
<text x="462.3" y="561.5" font-size="9.3" fill="#ececec" class="b" text-anchor="middle" stroke="#ececec" stroke-width="0.35">1E3</text>
<text x="620.5" y="561.5" font-size="9.3" fill="#ececec" class="b" text-anchor="middle" stroke="#ececec" stroke-width="0.35">1E4</text>
<text x="776.6" y="561.5" font-size="9.3" fill="#ececec" class="b" text-anchor="middle" stroke="#ececec" stroke-width="0.35">1E5</text>
<text x="0" y="0" font-size="14.2" fill="#ffffff" class="b" textLength="58" lengthAdjust="spacingAndGlyphs" transform="translate(47.7 543.2) rotate(-90)" stroke="#fff" stroke-width="0.45">Density</text>
<text x="70" y="587.8" font-size="25.8" fill="#ff4400" class="b" textLength="422.6" lengthAdjust="spacingAndGlyphs" stroke="#ff4400" stroke-width="1.3" stroke-linejoin="round">CD34:PerCP-Cy5-5-A LOGICAL</text>
</g>
<g id="hist3" transform="scale(.5)" stroke-width="3.7" stroke-linejoin="round">
<path d="M260 1267l5-1l5-1l5-1h5l5-1h5l5-1l5-1l5-1h5l5-1l5-1l5-1l5-1l5-1h5h5h5h5h5h5l5 1h5l5 1h5l5 1h5h5h5h5l5 1h5h5h5h5l5 1h5h5h5l5 1h5l5-1h5h5l5-1h5l5-1l5-1h5l5-1h5l5-1h5l5-1l5-1h5h5l5-1h5l5-1h5l5-1l5-1h5l5-2l5-2h5h5l5-2l5-1l5-1l5-1l5-1l5-3l5-1l5-2l5-2l5-1l5-2l5-1l5-1h5l5-1l5-2l5-1l5-1l5-1l5-2h5l5-1h5h5h5l5-1l5-1h5l5 1l5-1l5 1l5 1l5 1l5 1l5 2l5 2h5h5l5 2l5 1l5 1l5 2l5 3l5 2l5 1l5 2l5 3l5 2l5 3l5 1l5 1l5 3l5 2h5l5 2l5 2l5 2l5 2l5 3l5 2l5 1l5 1z" fill="#ff00d2" fill-opacity="0.8" stroke="#f000d8"/>
<path d="M792 1267l5-1l5-1l5-1h5h5l5-1h5h5h5l5-1h5h5h5l5-1h5l5-1h5l5-1h5l5-1h5h5l5-1h5h5h5h5l5-1h5h5l5-1l5-1l5-1l5-1h5l5-1l5-1h5l5-1l5-1l5-1h5h5l5-1l5-1h5l5-2l5-1l5-3l5-2l5-3l5-4l5-2l5-2l5-2l5-2l5-2l5 1h5h5l5 2l5 2h5h5l5 2l5 1h5h5h5l5-1l5-2l5-1l5-2l5-3l5-1l5-1h5h5l5-1l5-2l5 1l5 1l5-2l5 1l5 2l5 3l5 2l5 3l5 2l5 2l5 2h5l5 1l5 1l5 2l5 2l5 3l5 4l5 3l5 1l5 2l5 1l5 1l5 1l5 2l5 2l5 2l5 3l5 1l5 1l5 1l5 1h5V1267z" fill="#0044f4" fill-opacity="0.78" stroke="#0058ff"/>
<path d="M627 1267l5-2l5-1l5-1h5l5-1l5-1h5l5-1h5l5-1l5 1h5l5-1l5 1l5-1l5 1h5h5h5h5h5h5h5h5h5h5h5h5h5l5-1h5h5h5h5l5-1h5l5-1l5-1h5h5l5-1l5-1h5h5l5-1h5l5-1l5-1l5-1h5l5-2l5-4h5l5 1h5h5l5-1l5-1l5-2l5-1l5-2l5 1h5l5 1l5 2h5l5-2l5-1l5-2l5-1l5-2l5 2l5 1l5 3l5 3l5 1l5-1h5h5h5l5-1h5h5h5l5-2l5-3l5-3l5-3l5-2l5-2l5-2l5-2l5-3l5-2l5-3l5-1l5 5l5 5l5 5l5-2l5-6l5-3l5-2l5 1l5 3l5 3l5 2l5 2h5l5-1l5-2h5l5 7l5 5l5 6l5 2l5 2l5 3l5 3l5 2l5 2l5 1l5 1l5 1l5 2l5 2l5 1h5l5 1l5 1l5 1z" fill="#ff0008" fill-opacity="0.8" stroke="#ff0000"/>
<path d="M194 1267H627" stroke="#f000d8" stroke-width="4.2" fill="none"/>
<path d="M1264 1267H1341" stroke="#0058ff" stroke-width="4.2" fill="none"/>
<path d="M627 1267H1264M1341 1267H1419M1557 1267H1604" stroke="#ff0000" stroke-width="4.2" fill="none"/>
<path d="M290 1329l5-1h5l5-1h5l5-1h5h5h5l5-1h5h5h5h5h5h5h5h5h5l5-1h5h5h5l5-1h5l5-1h5l5-1h5l5-1h5l5-1h5h5l5-1h5l5-1h5h5h5l5-1h5h5l5-1l5-1h5l5-1h5h5l5-1l5-1h5l5-1l5-2l5-1l5-1l5-2l5-1l5-2l5-1h5l5-1h5l5-3l5-2l5-1l5-4l5-1h5l5-3h5l5-1l5-1h5l5-2l5-2l5-1l5-1h5l5 1h5h5h5h5l5 1h5h5l5 1l5 2l5 1h5l5 2h5l5 1l5 1h5l5 1l5 2l5 1l5 3l5 2l5 2l5 3l5 2l5 1l5 1l5 3l5 2l5 2l5 1h5l5 2l5 1l5 2l5 2l5 2h5l5 2l5 2h5l5 1l5 1h5l5 1z" fill="#ff00d2" fill-opacity="0.8" stroke="#f000d8"/>
<path d="M884 1329l5-1l5-1l5-1l5-1l5-1l5 1l5-1h5h5l5-1l5-1h5h5l5-1h5l5-1h5h5l5-1l5-1h5h5l5-1h5h5l5-1h5h5l5-1h5l5-1l5-1l5-1h5l5-1h5l5-1l5-1h5l5-1l5-2l5-2l5-3l5-2l5-2l5-2l5-2l5 1l5-1l5-1l5-1l5-2l5-1l5-3h5l5-1l5-1l5-1l5-1l5-1l5-1l5-1l5-1l5 1l5 2l5 3l5 1h5h5l5 1h5h5l5 1l5 2l5 2l5 3l5 2l5 2l5 1l5 3l5 2l5 2l5 1l5 3l5 3l5 4l5 4l5 2l5 2l5 2l5 2l5 1z" fill="#0044f4" fill-opacity="0.78" stroke="#0058ff"/>
<path d="M627 1329l5-2h5h5l5-1h5l5-1h5l5-1l5 1l5-1l5-1h5h5l5-1h5h5h5h5h5h5l5-1h5h5l5-1h5l5-1h5l5-1h5h5h5h5l5-1l5 1h5l5-1h5l5-1l5-1l5-1l5-1h5l5-1h5l5 1l5 1l5 1l5 1h5l5 1l5 3l5 1l5 1l5 1l5 2h5h5h5l5-1h5h5l5-1h5h5h5h5h5l5-1h5l5-1h5h5l5-1h5h5h5l5-1h5h5h5l5-1h5h5h5l5-1h5h5h5l5-1h5l5-1l5-1l5-1l5-1l5-1l5-3l5-6l5-6l5-4l5-2l5-3l5-1l5-2l5-2h5l5-1l5-2h5l5 5l5 5l5 5l5 3l5 2l5 4l5 4l5 3l5 2l5 2l5 1l5 1l5 2l5 1l5 2l5 1h5l5 1l5 1l5 1l5 1l5 1l5 1l5 1h5z" fill="#ff0008" fill-opacity="0.8" stroke="#ff0000"/>
<path d="M211 1329H627" stroke="#f000d8" stroke-width="4.2" fill="none"/>
<path d="M1294 1329H1323" stroke="#0058ff" stroke-width="4.2" fill="none"/>
<path d="M627 1329H1294M1323 1329H1405" stroke="#ff0000" stroke-width="4.2" fill="none"/>
<path d="M307 1387l5-2l5-1l5-1l5-1h5l5-1l5-1h5l5-1l5-1l5-1l5-1l5-1h5h5h5h5h5l5 2h5l5 1h5l5 1h5h5h5h5l5 1l5-1h5l5-1h5l5-1h5l5-1h5l5-1h5l5-1h5h5l5-1h5h5l5-1h5l5-2l5-2l5-1l5-1l5-1l5-2l5-1l5-1l5-1l5-1l5-1h5l5-2l5-3l5-2l5-2l5-2h5l5-2l5-1h5h5l5-2l5-2l5 1h5l5-1h5l5-1h5l5 1h5h5l5-1l5-1l5 1h5h5l5 1h5l5 1l5 2h5l5 1l5 1h5h5l5 2l5 2l5 4l5 2l5 2l5 2l5 2l5 2l5 2l5 1l5 2l5 3l5 1h5l5 1l5 2l5 1l5 1l5 1l5 2h5l5 2h5l5 1l5 2l5 1l5 1z" fill="#ff00d2" fill-opacity="0.8" stroke="#f000d8"/>
<path d="M945 1387l5-1l5-1l5-2l5-2l5-2l5-1l5-1h5l5-1l5-1l5-1h5l5-1h5l5-1l5-1l5-2l5-1l5-1h5h5l5-1h5l5-1l5-2l5-2l5-1l5-1l5-2h5l5-1l5-2l5-1l5-1l5-1l5-1l5-1l5 1h5l5-1l5-1l5-2l5 1h5l5-1l5-2h5h5l5-1l5 1l5-2h5h5l5-2h5h5l5-1h5l5-2l5-2h5h5l5 2l5 1l5 1l5 2h5l5 3l5 2l5 3l5 6l5 4l5 2l5 3l5 4l5 5l5 2l5 3l5 2l5 2l5 1h5l5 1l5 1h5l5 1l5 1h5h5z" fill="#0044f4" fill-opacity="0.78" stroke="#0058ff"/>
<path d="M534 1387h5h5h5h5h5h5l5-1h5l5 1l5-1h5h5h5h5h5h5l5-1h5h5h5h5l5-1l5-1l5-1l5-1l5-1l5-1l5-1l5-2l5-1h5h5h5h5h5h5h5h5l5 1l5-1h5h5h5h5l5-1h5h5h5h5h5l5-1h5h5h5h5l5-1h5h5h5h5l5 1l5-1h5h5h5h5h5h5h5l5 2h5l5 1l5 1l5 1l5 1l5 1l5 1h5h5h5l5 1h5l5 1h5h5h5l5-1l5-4l5-3l5-3l5-1h5l5-1h5l5-2l5-1h5h5l5-1l5-2l5-2l5-2l5-2l5-2l5-1l5-1l5-1l5-2l5-2l5-1l5-2h5h5h5h5l5 1l5-1l5 1l5 2l5 3l5-1l5-4l5-5l5-4h5l5 3h5l5 2h5h5l5 3l5 2l5 4l5 3l5 3l5 4l5 3l5 2l5 2l5 1l5 2l5 2l5 1l5 1l5 1l5 1l5 3l5 2l5 1l5 2h5l5 1h5l5 1h5z" fill="#ff0008" fill-opacity="0.8" stroke="#ff0000"/>
<path d="M150 1387H534" stroke="#f000d8" stroke-width="4.2" fill="none"/>
<path d="M1311 1387H1387" stroke="#0058ff" stroke-width="4.2" fill="none"/>
<path d="M534 1387H1311" stroke="#ff0000" stroke-width="4.2" fill="none"/>
<path d="M280 1450l5-1l5-1l5-1h5l5-1l5-1l5-1h5h5h5h5h5h5h5l5 1h5h5l5 1l5-1l5 1h5l5-1h5h5l5 1l5-1h5h5h5l5 1l5-1h5h5h5l5-1h5h5h5h5l5-1h5h5h5h5h5h5l5-1h5h5h5l5-1l5-2h5l5-1l5-2l5-1h5l5-1l5-1l5-1l5-1l5-2h5l5-2l5-2l5-1h5l5-1l5-2h5l5-1l5-2l5-1l5-1l5-2l5-1l5-1l5 1h5l5-2h5h5l5-1l5-1l5 1l5-2l5-1l5-3l5-2l5-2l5-2l5-2l5 2l5 1l5 2h5l5 1h5h5h5l5 3l5 1l5 3l5 2l5 2l5 2l5 3l5 3l5 2l5 2l5 1l5 2l5 2l5 3l5 1l5 1l5 1l5 2l5 1l5 2l5 2l5 2l5 1l5 2l5 1l5 1z" fill="#ff00d2" fill-opacity="0.8" stroke="#f000d8"/>
<path d="M934 1450l5-1l5-2l5-1l5-2l5-2l5-2l5-2l5-2l5-1l5-1h5l5-1h5l5-1l5-1l5-1l5-1h5l5-2l5-1h5l5-1l5-1h5h5l5-2h5l5-1l5-4l5-2l5-3l5-2l5-3l5-1l5-1l5-2l5-2l5-2l5-2l5-1l5-1l5 1h5l5 2l5-1l5 3h5h5h5l5 1h5l5 1l5-1h5l5 1h5h5h5l5 1l5 2l5 2l5 2l5 2l5 2l5 1l5 1l5 2l5 3l5 2l5 2l5 1l5 2l5 2l5 2l5 2l5 2l5 1l5 1l5 1l5 2l5 2l5 3l5 2h5l5 1h5h5h5l5 1h5h5h5l5 1h5z" fill="#0044f4" fill-opacity="0.78" stroke="#0058ff"/>
<path d="M598 1450l5-1l5-1l5-2l5-1l5-2l5-1l5-1l5-1l5-1h5h5h5h5h5l5-1h5h5l5-1l5 1h5h5h5h5l5-1l5-1h5l5-1h5l5-1h5l5-1h5l5-1l5-2l5-2l5-2l5-2l5-1l5 1l5-1l5 1h5h5l5 1l5 1l5 2l5 2l5 1l5 1l5 2l5 1l5 1l5 1l5 1l5 1l5 1l5-2l5-2l5-3l5-4l5-3l5-1l5 1l5-1l5-1h5h5l5-1h5l5 2l5 1l5 1l5 2l5 1l5-1l5-3l5-2l5-4l5-3l5-1l5-2l5-2l5-1l5-2l5 2l5 1l5 1h5l5 2l5 2l5 2l5 3l5 3l5 1l5-1l5-2l5-3l5-1l5-1l5-1l5-1l5-2l5-4l5-3l5-4h5l5-1l5-1l5-1h5h5l5-2l5 3l5 1l5 1l5 3l5 1l5 2l5 2l5 5l5 3l5 5l5 3l5 1l5 3l5 3l5 3l5 2l5 3l5 1l5 2l5 3l5 1V1450z" fill="#ff0008" fill-opacity="0.8" stroke="#ff0000"/>
<path d="M194 1450H598" stroke="#f000d8" stroke-width="4.2" fill="none"/>
<path d="M1264 1450H1309M1355 1450H1405" stroke="#0058ff" stroke-width="4.2" fill="none"/>
<path d="M598 1450H1264M1309 1450H1355" stroke="#ff0000" stroke-width="4.2" fill="none"/>
<path d="M231 1511h5l5-1l5-1l5-1h5l5-1l5-1h5l5-1l5-1l5-1l5-1h5l5-1h5l5-2h5h5l5-1l5-1l5-2h5l5-2l5-1l5 1h5h5h5h5h5h5h5l5 1h5h5h5h5h5h5l5 2h5h5l5-1l5 1l5 1l5-1l5 1l5-1l5-1h5h5l5-1h5h5h5l5-1l5-1h5l5-1h5l5-2l5-1l5-1h5l5-2l5-2l5-1l5-1l5-2l5-1l5-2h5l5-1l5-1l5-2l5-2l5-1l5-3h5h5l5-2l5-1h5h5l5-2h5l5-1l5 1l5-1l5 1l5 1h5l5 1l5 1h5l5 1l5-1l5-1l5-1h5h5h5l5 1h5l5 3h5l5 2l5 2l5 1l5 1l5 2l5 3l5 2l5 2l5 1l5 3l5 2l5 1l5 2l5 1l5 2l5 2h5l5 2l5 1l5 2l5 1l5 1l5 1l5 1l5 1l5 2l5 2l5 1l5 1h5z" fill="#ff00d2" fill-opacity="0.8" stroke="#f000d8"/>
<path d="M916 1511l5-1l5-1l5-1l5-2l5-1l5-1h5l5-1l5-1h5l5-1l5-2h5l5-2l5-1l5-1h5h5l5-1l5-1h5h5l5-2l5-1l5-2h5l5-1l5-2l5-3h5l5-2l5-1l5-1l5-1l5-1l5-1l5-2l5-1l5-2l5-2h5h5l5-2l5-1h5h5l5-3h5h5h5l5-1l5-1l5 1l5 2l5 2h5l5 2l5 1h5l5-1h5h5h5l5 2l5 1h5l5 2l5 1l5 2l5 3l5 1l5 2l5 1l5 3l5 3l5 3l5 3l5 1l5 2l5 3l5 3l5 1l5 1l5 2l5 1l5 1h5h5l5 1l5 1h5z" fill="#0044f4" fill-opacity="0.78" stroke="#0058ff"/>
<path d="M613 1511h5l5-1l5-1l5-1h5l5-1l5-1l5-1l5-1h5h5l5-1l5-1l5-1l5-2h5l5-2h5l5-1l5 1l5 1l5 2l5 2l5 1l5 1h5h5h5l5 1h5h5l5 1h5h5h5h5l5 1h5h5h5h5h5h5h5h5h5h5l5-1h5l5 1h5h5h5h5l5-1l5-1l5-1l5-1l5-1l5 1h5l5 2h5l5 1l5 1h5h5h5h5l5-1l5-1l5-1h5l5-1l5-1h5l5-1l5-1h5l5-1h5l5-1l5-1l5-1l5-1l5-2l5-1h5l5-2l5-2l5-2l5-3l5-2l5-2l5-4l5-3l5-3l5-1l5-2l5-1l5-1l5-1l5-1l5-1h5l5 2l5 4l5 4l5 2l5 3l5 4l5 5l5 3l5 3l5 2l5 1l5 2l5 2l5 2l5 1l5 1l5 1l5 1h5l5 1l5 1h5h5l5 1l5 1l5 1l5 2h5z" fill="#ff0008" fill-opacity="0.8" stroke="#ff0000"/>
<path d="M194 1511H613" stroke="#f000d8" stroke-width="4.2" fill="none"/>
<path d="M1279 1511H1373" stroke="#0058ff" stroke-width="4.2" fill="none"/>
<path d="M613 1511H1279" stroke="#ff0000" stroke-width="4.2" fill="none"/>
<path d="M278 1570v-1l5-1h5l5-1l5-1h5l5-1h5l5-1l5-1h5l5-1l5-1l5-1l5-2l5-2l5-1l5-2l5-2l5-2h5l5 1l5 1h5h5h5h5h5h5l5 1l5 1l5 2h5l5 1l5 1l5 1l5-1l5-1h5l5-1l5-1h5l5-1h5l5-1h5l5-2l5-1h5l5-1h5l5-2l5-1l5-1l5-1l5-1h5h5l5-1l5-2l5-1l5-1l5-1l5-2l5-1l5-1l5-1l5 1l5-1l5-1l5-2l5-2h5l5-1h5l5-2l5-1l5-1l5-1l5-1h5h5l5 1l5 2l5 2l5 2h5l5 1l5 1l5 2l5 2l5 3l5 2l5 1l5 3l5 1h5l5 2h5l5 2l5 2l5 1l5 2l5 2l5 1l5 1h5l5 1l5 1l5 2l5 1l5 2l5 1l5 2l5 1l5 1l5 1l5 1h5l5 1h5z" fill="#ff00d2" fill-opacity="0.8" stroke="#f000d8"/>
<path d="M1043 1570h5l5-2l5-2l5-1l5-2l5-1l5-1h5l5-1l5-1l5-2l5-1l5-1l5-2l5-2l5-1l5-2h5l5-1l5-2l5-2l5-1l5-1h5h5l5-3l5-5l5-4l5-4l5-3l5-2l5 1l5 1l5 3l5 3l5 3l5 1l5 3l5 1l5 3l5 2l5 1l5 1h5l5 1h5l5 1h5l5 1l5 1l5 3l5 3l5 3l5 2l5 1l5 3l5 3l5 2h5h5h5h5l5 1h5l5 1h5h5h5l5 1h5h5h5z" fill="#0044f4" fill-opacity="0.78" stroke="#0058ff"/>
<path d="M657 1570h5h5h5h5l5-1h5h5h5l5-1h5h5l5-3l5-3l5-4l5-2l5-4l5-4l5-3l5-5l5-1h5l5-2l5-1l5 1h5h5l5 2l5 2h5h5l5-1l5-1h5h5l5 1l5-1l5 2l5 1l5 1l5 1l5-1l5-1l5-1h5l5-2h5l5 2l5 1l5 3l5 3l5 1l5-2l5-2l5-1l5-1l5 1l5 4l5 5l5 4l5 1l5-2l5-2l5-2l5-2l5-3l5-2l5-1l5-2l5-1l5-2l5-3l5-2l5-3l5-2h5l5 1l5 1h5l5-1l5 2l5-3l5-3l5-3l5-3l5 4l5 3l5 3l5 4l5 2h5l5-1h5l5-1h5l5 1l5 1l5 2h5l5 1l5 2l5 1l5 1l5 2l5 1l5 2l5 1h5l5 1h5l5 1l5 1h5h5l5 1l5 2l5 2l5 3l5 1l5 9z" fill="#ff0008" fill-opacity="0.8" stroke="#ff0000"/>
<path d="M163 1570H657" stroke="#f000d8" stroke-width="4.2" fill="none"/>
<path d="M1249 1570H1405" stroke="#0058ff" stroke-width="4.2" fill="none"/>
<path d="M657 1570H1249" stroke="#ff0000" stroke-width="4.2" fill="none"/>
<path d="M260 1633h5l5-1l5-1h5h5l5-1l5-1l5-1h5l5-1l5-1h5l5-1h5l5-1l5-1l5-1l5-1h5h5h5h5l5-1l5-1h5h5h5l5-1l5 1h5l5 1l5 1h5h5h5h5l5 1h5l5 1h5l5-1l5-1h5l5-1l5-1h5l5-1h5l5-1l5-1h5l5-1h5l5-1h5h5l5-1l5-2h5l5-2l5-2l5-2l5-2l5-1l5-1h5h5h5l5-2l5-2l5-1h5l5-2l5-1l5-1l5-2l5-1l5-1l5 1h5l5-2h5l5-1l5-1l5-1l5-1h5l5-2l5 2l5 1h5h5l5 1l5 1l5 2l5 1h5l5 2l5 3l5 2l5 3l5 1l5 2l5 1l5 2l5 1l5 1l5 2l5 2l5 1h5l5 1l5 1l5 2l5 1l5 2l5 1l5 2l5 1l5 1l5 1l5 2l5 2l5 2l5 1l5 1z" fill="#ff00d2" fill-opacity="0.8" stroke="#f000d8"/>
<path d="M972 1633h5l5-2l5-2l5-2l5-2l5-3l5-1l5-2l5-3l5-2h5l5-1l5-1h5l5-1h5l5-2h5l5-2l5-1l5-1l5-2l5-1l5-1l5-1l5-2l5-1h5l5-1l5-2l5-2l5 1l5-1l5-1h5l5-1l5-1l5-1l5-1h5l5-2l5 1l5-2l5-1l5-2h5l5-1l5-1l5-1l5 2l5 1l5 1h5l5 3h5h5l5 1h5l5 1l5 4l5 3l5 4l5 3l5 3l5 2l5 1l5 3l5 4l5 4l5 3l5 1l5 2l5 2l5 1l5 2l5 1l5 1l5 1l5 1h5z" fill="#0044f4" fill-opacity="0.78" stroke="#0058ff"/>
<path d="M642 1633h5l5-1l5-1l5-1l5-1l5-2l5-1l5-1l5-2l5-1l5-1l5-1l5-1h5h5h5l5-1h5h5h5h5l5 1l5-1h5l5 2l5 1l5 1l5 1h5l5-2l5-2l5-2l5-2l5-1l5-2l5-1l5-1l5-2l5-1l5-1l5-1l5-1l5 2l5 1l5 2l5 1l5-1l5 1l5 1l5 2l5 3l5 2h5h5h5l5-1l5 1l5-1l5-1h5l5-2l5-2l5-2l5-1l5-2h5l5-1l5-1h5l5-1h5h5l5-1h5l5 1l5 1l5 3l5 1l5 2h5l5-1l5-2l5-3l5-3l5-3l5-2l5-3l5-2l5-2l5-3l5-1l5-4l5-1l5 1l5 2l5 2l5 2h5l5 2l5-1l5 1l5 2h5h5l5-2l5-1l5-2l5-1l5-1l5 1l5 1h5l5 2l5 2l5 1l5 1l5 2l5 5l5 6l5 5l5 4l5 1l5 2l5 2l5 3l5 2l5 2l5 1l5 1h5l5 1h5l5 1l5 1h5l5 1h5z" fill="#ff0008" fill-opacity="0.8" stroke="#ff0000"/>
<path d="M211 1633H642" stroke="#f000d8" stroke-width="4.2" fill="none"/>
<path d="M1326 1633H1373" stroke="#0058ff" stroke-width="4.2" fill="none"/>
<path d="M642 1633H1326" stroke="#ff0000" stroke-width="4.2" fill="none"/>
<path d="M250 1694h5l5-1l5-1h5l5-1l5-1l5-1l5-1l5-1h5l5-1l5-2l5-1l5-1l5-1h5l5-1h5h5h5h5h5l5-1l5 1h5h5h5h5l5 1h5h5h5h5h5l5 1h5h5l5 1h5l5 1l5-1l5-1h5l5-1l5-1l5-2l5-1l5-1l5-1l5-1h5l5-1l5-1l5-1l5-1l5-2l5-1l5-2l5-1l5-2l5-1l5-1l5-1l5-1h5l5-2l5-1l5-2l5-1l5-1l5-1l5-1h5l5-1h5l5 1l5-1h5h5l5-1h5l5-1l5 1h5l5-1h5l5-1h5l5-1l5-1h5l5-1l5 1l5 2l5 1l5 2l5 1h5l5 1l5 2l5 3l5 2l5 2l5 2l5 2l5 1l5 2h5l5 2l5 3l5 1l5 2h5l5 2l5 1l5 1l5 2l5 2l5 2l5 1l5 1l5 1l5 2l5 2l5 2l5 1z" fill="#ff00d2" fill-opacity="0.8" stroke="#f000d8"/>
<path d="M923 1694l5-1l5-2l5-1l5-2l5-3l5-2l5-2l5-2l5-1l5-2l5-1l5-1l5-2l5-1l5-1l5-2l5-2l5-2l5-2l5-2l5-2l5-2h5l5-1l5-1l5-1l5-1h5l5-1l5-2l5-2l5-1l5-1h5h5l5-1l5 1h5h5l5 1l5 1h5l5 1l5 1h5l5 1l5 1h5l5 2h5l5 1l5 1h5l5 2h5l5 2h5l5 1l5-1l5 1l5 1l5 1l5 2l5 1h5l5 1h5l5-1h5l5-1h5l5 1l5-1l5 2l5 3l5 3l5 3l5 2l5 1l5 3l5 2l5 3l5 2h5l5 2l5 1h5l5 2l5 1h5z" fill="#0044f4" fill-opacity="0.78" stroke="#0058ff"/>
<path d="M583 1694h5l5-1h5l5-1h5l5-1h5l5-1h5l5-1l5-1h5h5l5-1h5l5-1h5h5l5-1h5l5-1h5l5 1h5l5 1l5 1l5 1l5 1h5h5l5-1l5-1l5-1l5-1h5l5-1l5-1l5-2l5-1l5-1l5-1l5-1l5-1l5-1h5l5-1l5-2l5-3l5-2l5 1l5 1l5 3l5 2l5 3l5 3l5 1l5 3l5 2l5 2l5-2l5-4h5h5l5-2l5-1l5-1h5l5-1h5h5h5l5 1l5 1h5h5h5h5l5-2l5-2l5-3l5-2l5-3l5-1l5-2l5-2l5-1l5-2l5-3l5-3l5-2l5-2l5-1l5-1l5 1h5l5-1l5-1l5 1l5 1l5 2l5 1l5 1l5 2l5 1h5l5-1l5-1l5-2l5-1l5-1l5 1l5-3l5-2l5-3h5l5-1l5 2l5 3l5 1l5 3l5 1l5 2l5 3l5 4l5 2l5 2l5 2l5 3l5 2l5 2l5 3l5 2l5 2l5 1l5 2l5 3l5 2l5 1l5 1l5 1l5 2l5 1h5z" fill="#ff0008" fill-opacity="0.8" stroke="#ff0000"/>
<path d="M194 1694H583" stroke="#f000d8" stroke-width="4.2" fill="none"/>
<path d="M1296 1694H1373" stroke="#0058ff" stroke-width="4.2" fill="none"/>
<path d="M583 1694H1296" stroke="#ff0000" stroke-width="4.2" fill="none"/>
</g>
<g id="axis3">
<path d="M65.7 604V848.3H841.5" fill="none" stroke="#d8d8d8" stroke-width="1.3"/>
<path d="M177.6 848.3v3.7M137 848.3v3.7M186.5 848.3v3.7M128.1 848.3v3.7M195.9 848.3v3.7M118.7 848.3v3.7M204.8 848.3v3.7M109.8 848.3v3.7M213.1 848.3v3.7M101.5 848.3v3.7M220 848.3v3.7M94.6 848.3v3.7M226.4 848.3v3.7M88.2 848.3v3.7M232.9 848.3v3.7M81.7 848.3v3.7M298.3 848.3v3.7M333 848.3v3.7M357.6 848.3v3.7M376.7 848.3v3.7M392.3 848.3v3.7M405.5 848.3v3.7M416.9 848.3v3.7M427 848.3v3.7M488.1 848.3v3.7M518.5 848.3v3.7M540.2 848.3v3.7M556.9 848.3v3.7M570.6 848.3v3.7M582.2 848.3v3.7M592.2 848.3v3.7M601.1 848.3v3.7M658.4 848.3v3.7M687.2 848.3v3.7M707.7 848.3v3.7M723.6 848.3v3.7M736.6 848.3v3.7M747.6 848.3v3.7M757.1 848.3v3.7M765.5 848.3v3.7M822.4 848.3v3.7M239 848.3v6.2M75.6 848.3v6.2M167.6 848.3v6.2M147 848.3v6.2M436 848.3v6.2M609 848.3v6.2M773 848.3v6.2" fill="none" stroke="#d8d8d8" stroke-width="1.15"/>
<path d="M149.1 848.6v3.2M151.7 848.6v3.2M154.4 848.6v3.2M160.2 848.6v3.2M162.9 848.6v3.2M165.5 848.6v3.2M157.3 848.6v6.3" fill="none" stroke="#f4f4f4" stroke-width="2.1"/>
<text x="157.3" y="865.9" font-size="9.3" fill="#ececec" class="b" text-anchor="middle" stroke="#ececec" stroke-width="0.35">0</text>
<text x="239" y="865.9" font-size="9.3" fill="#ececec" class="b" text-anchor="middle" stroke="#ececec" stroke-width="0.35">1E2</text>
<text x="436" y="865.9" font-size="9.3" fill="#ececec" class="b" text-anchor="middle" stroke="#ececec" stroke-width="0.35">1E3</text>
<text x="609" y="865.9" font-size="9.3" fill="#ececec" class="b" text-anchor="middle" stroke="#ececec" stroke-width="0.35">1E4</text>
<text x="773" y="865.9" font-size="9.3" fill="#ececec" class="b" text-anchor="middle" stroke="#ececec" stroke-width="0.35">1E5</text>
<text x="77" y="865.9" font-size="9.3" fill="#ececec" class="b" text-anchor="middle" stroke="#ececec" stroke-width="0.35">-1E2</text>
<text x="0" y="0" font-size="15.1" fill="#ffffff" class="b" textLength="61.4" lengthAdjust="spacingAndGlyphs" transform="translate(48 848) rotate(-90)" stroke="#fff" stroke-width="0.45">Density</text>
<text x="67" y="892.8" font-size="26.6" fill="#ff00ff" class="b" textLength="334" lengthAdjust="spacingAndGlyphs" stroke="#ff00ff" stroke-width="1.6" stroke-linejoin="round">CD38:APC-H7-A LOGICAL</text>
</g>
<g id="hist4" transform="scale(.5)" stroke-width="3.7" stroke-linejoin="round">
<path d="M260 1883l5-1l5-2l5-1l5-1l5-1h5l5-2l5-2l5-2l5-2l5-3l5-1l5-2l5-1l5-3h5l5-1l5-1l5-1l5-3l5-1l5-2l5-3l5-2l5-2l5-2h5l5-2l5 1l5-1l5-2l5-2l5-1l5-1h5l5-1l5-1l5-3l5-1l5-1l5 1l5 1l5 2l5 1l5 2l5 1l5 1l5 1l5 1l5 3l5 1l5 2l5 4l5 1l5 1l5 1l5 2l5 3l5 3l5 4l5 3l5 2l5 1l5 1l5 2l5 2l5 2l5 2l5 2l5 1h5l5 1l5 1l5 1z" fill="#ff00d2" fill-opacity="0.8" stroke="#f000d8"/>
<path d="M265 1883l5-1l5-1h5l5-1l5-1h5l5-1l5-1l5-1l5-1l5-1l5-1l5-1l5-1l5-1h5l5 1h5h5l5 1h5l5 1h5l5-1h5h5l5-1l5-2l5-1l5-2l5-1l5-3l5-2h5l5-2h5l5-2h5l5-2l5-1h5h5h5h5h5l5 1h5h5l5 1h5h5h5l5 1l5 1l5 1l5 3l5 2l5 2l5 1l5-1l5-3l5-4l5-5l5-3l5-2l5-3l5-2l5-1l5-1l5-1l5-4l5-2l5-3l5-2l5-1h5l5 3l5 3l5 2l5-2l5-3l5-3l5 1l5 2l5 3l5 2l5 3l5 2l5 2l5-1l5 1l5 2l5 1h5h5l5 2l5-1l5 1l5-2l5-2l5-3l5-3l5-5l5-2h5l5 2l5 2l5 2l5 2l5 2l5 1l5 7l5 8l5 1l5-1h5l5-1l5-1h5l5-2h5l5-1h5l5-2l5-1l5-2l5-2l5-3l5-2l5-3l5-2l5-2h5l5-2l5-2l5 1h5l5 2l5 1l5 3l5 1l5 3l5 2l5 3l5 2l5 2h5l5-2l5-1l5 1l5-1l5-1l5-1h5l5 2l5 2l5 1l5 3l5 2l5 3l5 2l5 2l5 2l5 3l5 4l5 4l5 2l5-1h5l5 1h5h5h5h5l5 1h5h5l5 1l5 1h5l5 1l5 1l5 1l5 1h5z" fill="#0044f4" fill-opacity="0.78" stroke="#0058ff"/>
<path d="M475 1883l5-1h5h5l5-1h5l5-1h5h5l5-1l5-1h5l5-1h5h5h5l5-1h5h5l5-2l5-1l5-2l5-3l5-3l5-2l5-2l5-1l5-1l5-2l5-1l5-2l5-1l5-2l5-2l5-2l5-2l5-2l5-1h5l5-2l5-3l5-2l5-2l5-1l5-2l5-2l5-2l5 2l5 2l5 5l5 3l5 5l5 4l5 1l5 2l5 4l5 5l5 4l5 4l5 4l5-1l5 1h5l5 1h5h5l5 1h5l5 1l5 1l5 1l5 1l5 1l5 2h5l5-1h5h5h5l5 1h5h5h5l5 1h5l5 1h5h5h5l5 1h5z" fill="#ff0008" fill-opacity="0.8" stroke="#ff0000"/>
<path d="M184 1883H243M927 1883H971" stroke="#f000d8" stroke-width="4.2" fill="none"/>
<path d="M243 1883H475M1050 1883H1188M1218 1883H1267" stroke="#0058ff" stroke-width="4.2" fill="none"/>
<path d="M475 1883H927M971 1883H1050" stroke="#ff0000" stroke-width="4.2" fill="none"/>
<path d="M241 1947l5-1l5-1l5-1l5-1h5l5-2l5-1l5-2l5-2l5-2l5-2l5-1l5-1l5-2l5-1l5-1l5-1l5-3l5-2l5-3l5-1l5-1l5-2l5-2l5-3l5-3l5-4l5-1l5-1l5-1l5-2l5-1l5 1l5-2h5l5-1h5h5h5h5h5l5 1l5 2l5 1l5 1h5l5 2l5-1l5 1l5 1l5 2l5 2l5 4l5 1l5 2l5 3l5 2l5 1l5 2l5 3l5 3l5 2l5 1l5 2l5 1l5 2l5 3l5 2l5 3l5 2l5 1h5l5 1l5 1z" fill="#ff00d2" fill-opacity="0.8" stroke="#f000d8"/>
<path d="M241 1947l5-1l5-1l5-1l5-1l5-3l5-3l5-2l5-1l5-1l5-1l5-1l5-1l5-1l5-2l5-1l5-1h5l5-2l5-2l5-2l5-1l5-3l5-2l5-1l5-2h5l5 1h5l5 1h5l5 1l5 1l5 2h5l5 1h5l5 1l5-4l5-4l5-5l5-2l5-1l5-1h5l5-1h5l5 1l5 2l5 4l5 3l5 3l5 2l5 1l5 1l5-1h5l5 1l5-1h5l5-1l5-1l5 1l5-1l5-2h5l5-1l5-2h5l5-1l5 1l5 2l5 2l5 2l5 2l5 1h5h5h5l5 1h5h5l5 1h5l5-1h5l5-2l5-2l5-1l5-3l5-1l5-1l5-1l5-3l5 3l5 1l5 3l5 4l5 2l5 3l5 2l5-2h5l5-1l5-1l5-1h5h5l5-1l5-2l5-1l5-2l5-3l5-2l5-2l5-2l5-2l5-1l5-2l5-3l5-1l5-1l5-1l5-1l5 1l5 2h5l5 3l5 1l5 1l5-1h5l5-1l5 1h5l5 1l5 3l5 2l5 4l5 2l5 3h5l5 1h5l5 1l5-1l5 1l5-4l5-5l5-5l5 1h5l5 2h5l5 2l5 1h5l5 2l5 2l5 3l5 3l5 3l5 3l5 2h5l5 2l5 1l5 1h5l5 2l5 1l5 1l5 1h5l5 2l5 2l5 1l5 2l5 2l5 1h5l5 1h5l5 1h5h5l5 1h5z" fill="#0044f4" fill-opacity="0.78" stroke="#0058ff"/>
<path d="M472 1947l5-1l5-1h5l5-1l5-1h5l5-1l5-1l5-1l5-1l5-1l5-1l5-1l5-1h5l5-2l5-1h5l5-2l5-1l5-3l5-2l5-2l5-3l5-2l5-2l5-2l5-2l5-2l5-3l5-2l5-3l5-3l5-1h5l5-2h5l5-1l5-1l5-2h5l5 1h5l5 2l5 1h5l5 1l5 2l5 1h5l5 1l5 2l5 2h5l5 1l5 2l5 1h5l5 1l5 3l5 3l5 3l5 4l5 2l5 2l5 2l5 2l5 2l5 3l5 4l5 2l5 1l5 1h5h5l5 1l5 1l5-1l5 1l5-1h5l5 1h5h5l5 1l5-1h5h5l5 1h5h5h5h5l5 1h5h5h5z" fill="#ff0008" fill-opacity="0.8" stroke="#ff0000"/>
<path d="M169 1947H199M956 1947H1033" stroke="#f000d8" stroke-width="4.2" fill="none"/>
<path d="M199 1947H352M1112 1947H1173" stroke="#0058ff" stroke-width="4.2" fill="none"/>
<path d="M352 1947H956M1033 1947H1112" stroke="#ff0000" stroke-width="4.2" fill="none"/>
<path d="M265 2008l5-1l5-1l5-1l5-1l5-1l5-2l5-3l5-2l5-3l5-2l5-2l5-3l5-1l5-1l5-2l5-2l5-3l5-1l5-3l5-1l5-3l5-3l5-2h5l5-1h5h5l5-1l5-2l5-1l5-1h5l5-1l5-1l5-1l5-2l5 1l5 1l5 2l5 1h5l5 2l5 1l5 1l5 1l5-1l5 2l5 1l5 1l5 3l5 2l5 2l5 2l5 2l5 1l5 1l5 3l5 2l5 3l5 2l5 2h5l5 2l5 2l5 2l5 2l5 3l5 2l5 1l5 1l5 1l5 1h5z" fill="#ff00d2" fill-opacity="0.8" stroke="#f000d8"/>
<path d="M270 2008h5l5-1h5l5-1l5-1h5l5-1l5-1l5-1l5-1h5l5-1h5l5-1h5l5-1h5h5l5-1h5l5-1l5-1h5l5-1h5h5l5-2l5-1l5-1l5-1l5-2l5-1h5l5-1h5h5l5 1h5h5h5h5l5-1l5 1h5h5h5l5-1h5h5l5-1l5 1l5 1l5 2h5l5 1l5 2l5 1l5 1h5l5-3l5-2l5-3l5-3l5-1l5-1l5-1l5-1l5-3l5-1l5-3l5-1l5-1h5h5l5 1h5l5 1l5 1l5 1l5-1l5 1l5 1h5l5 1l5 1l5-1l5 1h5l5-1l5-1l5-1l5-3l5-1l5-2l5-1l5-2l5-2l5-1l5 2l5 1h5h5l5 1l5 2l5 1l5 1l5 2l5 1l5-2l5-1l5-3l5-4l5-3l5-1l5-2h5h5l5 2h5l5 1h5h5l5 2h5l5 3l5 1l5 2h5l5-3l5-3l5-2l5 1l5 1l5 1h5l5 1h5l5 1l5 2l5 1h5l5 1l5 1l5 4l5 4l5 3l5 2l5 2l5 2h5h5l5-1l5-1l5-1l5-1l5-1l5 1l5 1l5 1l5 1l5 1l5 1l5 2l5 2l5 2l5 4l5 3l5 2l5 1h5h5l5-1h5h5l5-1h5h5l5 2h5l5 1h5l5 1l5 1h5h5h5l5 1h5h5l5 1h5h5h5z" fill="#0044f4" fill-opacity="0.78" stroke="#0058ff"/>
<path d="M477 2008h5l5-1l5-1h5l5-1h5h5l5-1l5-1h5l5-1h5h5h5l5-1l5-1h5l5-2h5l5-1l5-1l5-1l5-1l5-2l5-2l5-3l5-3l5-4l5-2l5-3l5-2l5-3l5 1l5-1l5-2l5-1h5l5-2h5l5-1l5-1l5-1l5-2l5-1l5-1l5-1l5 1l5-2l5-1h5l5 1l5 1l5 3h5l5 1l5 2l5 1l5 2l5 1l5 1l5 3l5 1l5 3h5l5 2h5l5 2h5l5 2l5 2l5 1l5 1l5 2l5 2l5 1l5 1l5 1l5 2l5 1l5 2l5 2l5 2l5 1l5 1l5 1h5l5 1l5 1h5h5h5h5h5l5 1h5h5h5h5h5h5l5 1h5h5h5h5h5h5h5h5z" fill="#ff0008" fill-opacity="0.8" stroke="#ff0000"/>
<path d="M184 2008H352M401 2008H460M1020 2008H1235" stroke="#0058ff" stroke-width="4.2" fill="none"/>
<path d="M352 2008H401M460 2008H1020" stroke="#ff0000" stroke-width="4.2" fill="none"/>
<path d="M270 2072h5l5-1l5-1l5-1l5-1l5-2l5-1l5-3l5-2l5-3l5-2l5-2l5-3l5-2l5-2l5-2l5-1h5l5-1l5-3l5-1l5-2l5-2l5-1l5-1l5-3l5-1l5-1l5-2l5 1h5l5-1l5-1l5-1h5l5-1l5-1l5-2h5h5l5 1h5l5 2h5l5 1l5 1l5 1l5 4l5 3l5 3l5 3l5 2l5 2l5 1l5 2l5 2l5 3l5 2l5 3l5 1l5 1l5 2l5 2l5 2l5 1l5 2l5 2l5 1l5 1l5 1l5 1h5z" fill="#ff00d2" fill-opacity="0.8" stroke="#f000d8"/>
<path d="M300 2072h5l5-1l5-1h5l5-1l5-2l5-1l5-2l5-1l5-1l5-2l5-2l5-1h5h5l5-2h5l5-1l5-2h5l5-1l5-2l5-1h5h5l5 1l5 1h5l5 1h5h5h5l5 1l5 1h5l5-1l5-1l5 1l5-1h5l5 1l5-1h5h5l5-1l5-1h5l5 1l5-1l5-1h5l5-1h5l5-1l5-2l5-2h5l5-3l5-1l5-1l5-2l5-2l5-1l5 1l5-1l5-2l5 1l5-1l5-1h5h5l5 2h5l5 2l5 2l5 2h5l5 1l5-1h5l5-1l5 1h5l5 1l5-1l5-1h5l5 1l5-1l5-1l5 1l5 1l5 1h5l5 1l5 2l5 1l5 1l5-1h5l5-1h5l5-1l5-1l5-2l5-1l5-2l5-2l5-1l5-1h5l5-1l5-1l5-1l5-1l5-1l5-1l5-2h5l5-1l5-2l5 1h5l5 1l5 4l5 2l5 2l5 2l5 1l5-2l5 1h5l5-2h5h5l5 3l5 2l5 2l5 2h5l5 2l5 4l5 2l5 2l5 2h5l5-1h5h5h5h5h5h5l5 1l5 3l5 2l5 3l5 3l5 2l5 1l5 1l5 2l5 1l5 1l5 1h5h5l5 1h5h5h5h5h5h5l5 1h5h5h5h5h5h5h5h5h5z" fill="#0044f4" fill-opacity="0.78" stroke="#0058ff"/>
<path d="M467 2072h5l5-1l5-1h5l5-1l5-1l5-1h5l5-2l5-1l5-1l5-1l5-1l5-1l5-1l5-2l5-1h5l5-1h5l5-1l5-1l5-2l5-1l5-2h5l5-1l5-1h5l5-1l5-1h5l5-1l5-1l5-1l5-1l5-2l5 1h5l5-2h5l5-1l5-2l5-1l5-1l5-2l5-1h5l5-2h5l5-2l5-3l5-2l5-2l5-1l5-1l5 3l5 3l5 3l5 2l5 2l5 1l5 4l5 3l5 4l5 5l5 3l5 3l5 1l5 1l5 2l5 3l5 2l5 2l5 2l5 1l5 1l5 3h5h5h5h5h5h5l5 1h5h5h5l5 1h5h5h5h5h5h5z" fill="#ff0008" fill-opacity="0.8" stroke="#ff0000"/>
<path d="M169 2072H199M942 2072H1016" stroke="#f000d8" stroke-width="4.2" fill="none"/>
<path d="M199 2072H366M1126 2072H1220" stroke="#0058ff" stroke-width="4.2" fill="none"/>
<path d="M366 2072H942M1016 2072H1126" stroke="#ff0000" stroke-width="4.2" fill="none"/>
<path d="M257 2138h5l5-2l5-1h5l5-2l5-1l5-1l5-1l5-1l5-3l5-1l5-2l5-2h5l5-2l5-1l5-2l5-2l5-4l5-5l5-2l5-3l5 1l5-1l5-3l5-1l5-1l5-1l5-3l5-1l5-1h5h5l5-3l5-2h5h5l5-1l5 3h5l5 3l5 3h5l5 3l5 2l5 1h5l5 2l5 2l5 3l5 2l5 2l5 3l5 1l5 1l5 2l5 3l5 3l5 2l5 2l5 2l5 1l5 3l5 3l5 2l5 1z" fill="#ff00d2" fill-opacity="0.8" stroke="#f000d8"/>
<path d="M265 2138h5l5-1l5-1h5l5-1l5-1h5l5-1l5-1h5l5-1l5-1h5l5-1l5-2l5-2l5-3l5-3h5h5h5l5-1h5h5h5h5h5l5 1l5 1l5 2l5 3l5 1h5h5l5-1h5h5h5h5l5-1h5h5l5-1h5l5-1h5h5h5l5-1h5l5-2l5-3l5-3l5-3l5-1l5-2l5-2l5-3h5l5-2l5-1l5-1h5l5-1h5l5-1h5h5l5 1l5 1h5l5 2l5 1l5 1l5 2l5 2h5l5 2l5 1l5-1l5-1h5l5-1l5 1l5-2l5-1h5l5-1l5 1h5h5h5l5 1l5-1l5 1l5 1h5h5l5 1l5-1l5-1l5 1h5l5-1l5-1h5h5l5 1h5l5-1h5l5 1h5l5-1l5 1h5l5 2l5-1h5h5l5-3l5-2l5-3l5-3l5-3l5-2l5-2h5l5-1l5-1l5-2l5 1l5 2l5 1l5 2l5 5l5 2l5 3h5l5-2h5h5l5-1l5-1l5 2l5 2l5 2l5 4l5 1l5 3l5 3l5 2l5-1l5 1l5 2l5 1l5 1l5 1l5 1l5 1l5 1h5l5 1h5l5 1l5 1l5 1l5 2l5 3l5 1l5 2l5 1h5h5h5h5h5h5l5 1h5h5h5h5h5h5l5 1h5h5h5h5h5z" fill="#0044f4" fill-opacity="0.78" stroke="#0058ff"/>
<path d="M398 2138h5l5-1l5-1l5-1l5-1l5-1l5-1l5-1l5-2l5-2l5-1l5-1l5-2l5-1l5-1h5h5h5h5h5h5h5h5h5h5l5 1l5-1l5 1l5-4l5-7l5-5l5-2l5-1l5-1l5-2l5-3h5l5-2l5-2l5-1l5 2l5 4l5 3l5 2l5-2h5l5-2l5-1l5-1l5 1l5 2l5 2l5 2l5-2h5l5-3l5-1l5-3l5-2l5-2l5-3l5-2l5-2l5-1l5 1l5 3l5 4l5 2l5 1h5h5h5l5 1h5h5l5-1l5-2h5h5h5l5 3l5 4l5 5l5 4l5 3l5 4l5 7l5 5l5 5l5 3l5 1h5l5 1l5-1l5 1h5l5-1l5 1h5h5h5l5 1h5h5h5h5h5h5h5z" fill="#ff0008" fill-opacity="0.8" stroke="#ff0000"/>
<path d="M199 2138H273" stroke="#f000d8" stroke-width="4.2" fill="none"/>
<path d="M273 2138H416M942 2138H986M1097 2138H1220" stroke="#0058ff" stroke-width="4.2" fill="none"/>
<path d="M416 2138H942M986 2138H1097" stroke="#ff0000" stroke-width="4.2" fill="none"/>
<path d="M270 2200l5-1h5l5-1l5-1l5-1l5-1l5-2l5-2l5-1l5-2l5-2l5-2l5-3l5-1l5-2h5l5-1l5-1l5-2l5-2l5-3l5-3l5-2l5-2l5-1l5-2l5-1l5-1l5-2l5-2l5-2h5l5-1l5-2l5-1l5 1l5-2l5-1l5 1h5l5-1l5 1l5 1l5 1l5 2l5 2l5 1l5 2l5 1h5l5 2l5 4l5 2l5 4l5 2l5 1l5 2l5 2h5l5 2l5 2l5 1l5 1l5 3l5 3l5 3l5 4l5 3l5 1h5l5 2h5z" fill="#ff00d2" fill-opacity="0.8" stroke="#f000d8"/>
<path d="M329 2200l5-1l5-1l5-2l5-1h5l5-1l5-1l5-1l5-1l5-1l5-2l5-1l5-1l5-1h5h5l5 1h5h5l5 1h5h5l5 1l5 2l5 3l5 1l5 2h5h5l5-1h5h5l5-1h5h5h5h5l5-1h5l5-1h5l5-1h5h5h5h5l5-1l5-1h5l5-2l5-1l5-1l5-2l5-2l5-2l5-2l5-1l5-2l5-3l5-2l5-2l5-1l5-2l5-1l5-2h5l5-1l5-2l5-3l5-2l5-3l5-2h5l5 4l5 3l5 4l5 2l5-1l5 1l5 1l5 1h5l5 1l5 4l5 4l5 3h5l5 1l5 1h5h5l5 1l5 1l5 1l5 1l5-1l5-1l5-3l5-4l5-2l5-2l5-1l5-3l5-2l5 1l5 2l5 3h5h5h5h5l5-5l5-1h5l5 2l5 1h5l5 1l5-2l5-1l5-1l5-2l5-1h5l5-1l5-1l5-3l5-2l5-2l5-1l5-1l5 1l5 1l5 3l5 3l5 1l5 2h5l5 2h5l5 1l5 1h5l5 1l5 2l5 4l5 5l5 3l5 2l5 2l5 2l5 3l5 4l5 2l5 2l5 2l5 3z" fill="#0044f4" fill-opacity="0.78" stroke="#0058ff"/>
<path d="M433 2200l5-1h5l5-1l5-1h5l5-1h5l5-1l5-1h5l5-1l5-1h5l5-1h5l5-1h5l5-1l5-1l5-1l5-1l5-1h5l5-1l5-1h5h5l5-1l5 1l5-1h5l5-1l5-1l5 1l5-1h5l5-7l5-9l5-10l5-5l5 1l5-2l5-1l5 1l5-2l5-1l5 3l5 3l5 3l5 3l5 6l5 6l5 2l5 1h5l5 1l5 2l5 1l5 1l5 1h5l5 2l5 1l5-1l5-2l5-2l5-1l5-3l5-3l5-1l5-1l5-1l5 1l5 2l5 2l5 1l5 1l5 1l5 2l5 1l5 3l5 2l5 2l5 2l5 2l5 1l5 1l5 2l5 2l5 2l5 2l5 1l5 1z" fill="#ff0008" fill-opacity="0.8" stroke="#ff0000"/>
<path d="M231 2200H352M895 2200H1001" stroke="#f000d8" stroke-width="4.2" fill="none"/>
<path d="M352 2200H445M1050 2200H1080M1232 2200H1282" stroke="#0058ff" stroke-width="4.2" fill="none"/>
<path d="M445 2200H895M1001 2200H1050M1080 2200H1158" stroke="#ff0000" stroke-width="4.2" fill="none"/>
<path d="M245 2263h5l5-1l5-1l5-1l5-1l5-1l5-2l5-2l5-2l5-1l5-1l5-2l5-1l5-1l5-2l5-2l5-3l5-3l5-3l5-2l5-3l5-1l5-1l5-2l5-2l5-1l5-3l5-1l5-2h5l5-1l5-1l5 1l5-2l5-1h5l5 1l5-2l5-1h5l5 1h5h5h5h5l5 2h5l5-1h5l5 1l5 1l5-1l5 1h5l5 2l5 3l5 3l5 4l5 2l5 2l5 3l5 2l5 3l5 2l5 3l5 2l5 3l5 4l5 4l5 4l5 3V2263z" fill="#ff00d2" fill-opacity="0.8" stroke="#f000d8"/>
<path d="M250 2263h5l5-1l5-1l5-1l5 1l5-1h5h5h5l5-1h5h5h5l5-1h5h5h5h5h5l5-1l5-1h5l5-1l5-1l5-1l5-1h5l5-1h5l5-2h5l5-1h5l5 1l5-1h5h5l5-1h5h5h5l5-1h5h5h5l5-2h5l5-1l5-1h5l5-1h5l5-1h5h5l5-1h5l5-1h5l5-1l5-1l5-2l5-2l5-1l5-2l5-1l5-1h5l5-2h5l5-1l5 1h5l5-1l5 1h5l5 1l5 1h5l5 1h5h5l5 1l5-1h5l5-2h5l5-2l5-1l5-1h5h5l5-1l5-1l5 1l5-1h5l5-1h5l5-3l5-1l5-2l5-3l5 1l5 1l5 1l5 3l5 1l5 2h5l5-1l5 1l5-2l5 1l5-1l5-1l5-2l5 1l5-2l5 1l5-1l5 2h5h5h5h5l5 2l5 3l5 7l5-2h5l5-1l5-2l5-1l5-1l5-1h5l5-1l5-1l5 1l5 2l5 4l5 3l5 4l5 3l5 3l5 1h5l5-1h5l5-2h5h5l5-1l5-1h5l5-1l5 1l5 2l5 1l5 1l5 3l5 1l5 1h5l5 1l5 1l5 1l5 2l5 1l5 2h5l5 1l5 1l5 1l5 1l5 2l5 2l5 1l5 1l5 1h5h5h5l5 1l5 1h5h5z" fill="#0044f4" fill-opacity="0.78" stroke="#0058ff"/>
<path d="M386 2263h5h5h5h5h5h5l5-1h5h5h5h5h5h5l5-1h5h5h5h5h5h5h5h5h5h5h5l5-1l5-1l5-1l5-1l5-2l5-2l5-1l5-2h5l5-1l5-1h5h5l5-1h5l5-2h5h5l5-1h5h5l5-2l5-2l5-2l5-2l5-1l5-2l5-1l5-1l5-2l5-2l5-2l5-2l5-3l5-1l5-3l5-3l5-1l5-2h5l5 1l5 4l5 4l5 4l5 3l5 2l5 3l5 5l5 4l5 3l5 2l5 1l5-1l5 1h5h5l5 1h5l5 1h5h5l5 1h5h5l5 1l5-1l5 1l5 1h5l5 1l5 1h5l5 1l5 1h5l5 1h5h5l5 1l5 1h5h5h5l5 1l5 1h5h5h5l5 1h5l5 1h5h5l5 1h5z" fill="#ff0008" fill-opacity="0.8" stroke="#ff0000"/>
<path d="M169 2263H260" stroke="#f000d8" stroke-width="4.2" fill="none"/>
<path d="M260 2263H384M988 2263H1188" stroke="#0058ff" stroke-width="4.2" fill="none"/>
<path d="M384 2263H988" stroke="#ff0000" stroke-width="4.2" fill="none"/>
<path d="M245 2331h5l5-2h5l5-1l5-1l5-1l5-1l5-2l5-2l5-1l5-2l5-1l5-2l5-1l5-1l5-1l5-2l5-2l5-2l5-2l5-3l5-2l5-1l5-1l5-1l5-3l5-2l5-2l5-4l5-2l5-2l5 1h5h5h5l5-2l5-2l5-1h5l5 1l5-1l5-1l5 1h5l5 1l5 1l5 2h5l5 2l5 1l5 1l5 1l5 3l5 2l5 4l5 2l5 4l5 2l5 2l5 1l5 2l5 2l5 4l5 1l5 2l5 2l5 2l5 2l5 3l5 2l5 2V2331z" fill="#ff00d2" fill-opacity="0.8" stroke="#f000d8"/>
<path d="M279 2331l5-1l5-2l5-1l5-2l5-1l5-1l5-1l5-1l5-2l5-1l5-2l5-2h5h5h5h5l5 1h5l5 1h5h5h5l5 1l5-1l5-1l5-1l5-2l5-3l5-2l5-1l5-2l5-1l5-2h5l5 1l5 2h5l5 1l5 1l5 1l5 1l5 1l5 2l5 1l5 2l5 2l5 1l5-3l5-3l5-5l5-4l5-2l5-3l5-1h5h5h5h5l5 1h5h5h5l5-1h5l5-1l5 1h5l5-1l5-2l5-1l5-3l5-2l5-3l5-2l5-1l5 1l5 2h5l5 1l5-1l5 2h5l5 2l5-1l5 1h5l5 1l5 1l5-2h5h5l5-1h5l5-1l5 1h5h5h5l5-2l5 1l5-1h5l5 3l5 3l5 4l5 1h5l5 1h5h5l5-1l5 1l5-1l5-3l5-4l5-4l5-2l5-4l5-3l5-3l5 2l5 2l5 3l5 2l5 3l5 2h5h5l5-1l5 1l5-1h5l5-1h5l5-1l5-1l5-1l5-1l5-1l5 2l5 1l5 4l5 2l5 5l5 2l5 1l5 2l5 3l5 2l5 2l5 2h5l5 2l5 2l5 2l5 2l5 2l5 2l5 1l5 1l5 3l5 2l5 1h5h5h5l5-1l5-1h5l5-1l5-1l5-1h5h5l5-1h5h5l5 1l5 1l5 2l5 1l5 1l5 1l5 1l5 1z" fill="#0044f4" fill-opacity="0.78" stroke="#0058ff"/>
<path d="M401 2331h5h5l5-1l5-1l5-1h5h5l5-1l5-1l5-1h5h5l5-1h5h5l5-1l5-1l5-1l5-1l5-1l5-1l5-1h5h5l5-1h5l5 1h5l5-1l5 1h5h5h5l5-1l5-1l5-2l5-2l5-2l5-1l5-2l5-2h5h5h5l5-1h5l5-1l5-1l5-1l5-3l5-2l5-2l5-2l5-2l5-4l5-3l5-5l5-2l5 1l5-1l5 2l5-1l5 2h5l5 2l5 4l5 4l5 5l5 2l5-1l5-2l5-2l5-3l5-2h5l5-1l5 2l5 3l5 5l5 4l5 1l5 2l5 3l5 4l5 6l5 5l5 3l5 2l5 1h5h5l5 1h5l5 1l5 2l5 1h5l5 1h5z" fill="#ff0008" fill-opacity="0.8" stroke="#ff0000"/>
<path d="M152 2331H214" stroke="#f000d8" stroke-width="4.2" fill="none"/>
<path d="M214 2331H260M339 2331H398M897 2331H1018M1065 2331H1094M1144 2331H1205" stroke="#0058ff" stroke-width="4.2" fill="none"/>
<path d="M260 2331H339M398 2331H897M1018 2331H1065M1094 2331H1144" stroke="#ff0000" stroke-width="4.2" fill="none"/>
</g>
<g id="axis4">
<path d="M68 911V1165.8H841.5" fill="none" stroke="#d8d8d8" stroke-width="1.3"/>
<path d="M203.8 1165.8v3.7M160.2 1165.8v3.7M213.5 1165.8v3.7M150.5 1165.8v3.7M223.5 1165.8v3.7M140.5 1165.8v3.7M233.2 1165.8v3.7M130.8 1165.8v3.7M242.1 1165.8v3.7M121.9 1165.8v3.7M249.5 1165.8v3.7M114.5 1165.8v3.7M256.4 1165.8v3.7M107.6 1165.8v3.7M263.4 1165.8v3.7M100.6 1165.8v3.7M326.3 1165.8v3.7M359.2 1165.8v3.7M382.6 1165.8v3.7M400.7 1165.8v3.7M415.5 1165.8v3.7M428 1165.8v3.7M438.9 1165.8v3.7M448.4 1165.8v3.7M506.4 1165.8v3.7M535.2 1165.8v3.7M555.7 1165.8v3.7M571.6 1165.8v3.7M584.6 1165.8v3.7M595.6 1165.8v3.7M605.1 1165.8v3.7M613.5 1165.8v3.7M667.7 1165.8v3.7M695 1165.8v3.7M714.3 1165.8v3.7M729.3 1165.8v3.7M741.6 1165.8v3.7M752 1165.8v3.7M761 1165.8v3.7M768.9 1165.8v3.7M822.7 1165.8v3.7M270 1165.8v6.2M94 1165.8v6.2M193.1 1165.8v6.2M170.9 1165.8v6.2M457 1165.8v6.2M621 1165.8v6.2M776 1165.8v6.2" fill="none" stroke="#d8d8d8" stroke-width="1.15"/>
<path d="M173.2 1166.1v3.2M176 1166.1v3.2M178.8 1166.1v3.2M185.2 1166.1v3.2M188 1166.1v3.2M190.8 1166.1v3.2M182 1166.1v6.3" fill="none" stroke="#f4f4f4" stroke-width="2.1"/>
<text x="182" y="1183.7" font-size="9.3" fill="#ececec" class="b" text-anchor="middle" stroke="#ececec" stroke-width="0.35">0</text>
<text x="270" y="1183.7" font-size="9.3" fill="#ececec" class="b" text-anchor="middle" stroke="#ececec" stroke-width="0.35">1E2</text>
<text x="457" y="1183.7" font-size="9.3" fill="#ececec" class="b" text-anchor="middle" stroke="#ececec" stroke-width="0.35">1E3</text>
<text x="621" y="1183.7" font-size="9.3" fill="#ececec" class="b" text-anchor="middle" stroke="#ececec" stroke-width="0.35">1E4</text>
<text x="776" y="1183.7" font-size="9.3" fill="#ececec" class="b" text-anchor="middle" stroke="#ececec" stroke-width="0.35">1E5</text>
<text x="94" y="1183.7" font-size="9.3" fill="#ececec" class="b" text-anchor="middle" stroke="#ececec" stroke-width="0.35">-1E2</text>
<text x="0" y="0" font-size="15.6" fill="#ffffff" class="b" textLength="63.5" lengthAdjust="spacingAndGlyphs" transform="translate(48.2 1164.5) rotate(-90)" stroke="#fff" stroke-width="0.45">Density</text>
<text x="114" y="1213" font-size="28.0" fill="#ffffff" class="b" textLength="228" lengthAdjust="spacingAndGlyphs" stroke="#ffffff" stroke-width="1.5" stroke-linejoin="round">CD117:PE-Cy7-A</text>
</g>
<g id="hist5" transform="scale(.5)" stroke-width="3.7" stroke-linejoin="round">
<path d="M521 2519l5-2l5-3l5-3l5-4l5-4l5-4l5-3l5-1l5-2l5-4l5-3l5-3l5-1l5-2l5-2l5-2l5-1l5-1l5-2l5-1h5h5l5-1h5l5 1l5 1l5 2l5 2l5 1l5 1l5 2l5 3l5 2l5 5l5 2l5 4l5 1l5 3l5 2l5 3l5 3l5 3l5 2l5 1l5 1l5 1l5 1l5 1l5 1h5z" fill="#ff00d2" fill-opacity="0.8" stroke="#f000d8"/>
<path d="M299 2519l5-2l5-2l5-3l5-2l5-3l5-3l5-5l5-2l5-3l5-2l5-3l5-4l5-3l5-4l5-4l5-2l5-1l5-1l5-1h5l5-1h5h5l5-1h5l5 2h5l5 2l5 1l5 1l5 1h5l5 1h5l5 2l5 2l5 2h5l5 2h5l5 3l5 3l5 4l5 4l5 3l5 3l5 1l5 2l5 2l5 2l5 2l5 2l5 1l5 2l5 1l5 1z" fill="#0044f4" fill-opacity="0.78" stroke="#0058ff"/>
<path d="M227 2519h5l5-1l5-1h5h5h5l5-1h5h5l5-1h5h5h5h5l5-1h5l5-1l5-1l5-3l5-2l5-3l5-3l5-2l5-1l5-1l5-2l5-2l5-2l5-2l5-3l5-1l5-2l5-1l5-2l5-1l5-2l5-2h5l5-1h5l5-2l5-1l5-1l5-1l5-2l5 1l5 2l5 1h5l5 1l5 1l5-1l5 2l5 4l5 5l5 5l5 2l5 3l5 2l5 4l5 2l5 3l5 1l5 3l5 3l5 3l5 2l5 1h5l5 1l5 1h5z" fill="#ff0008" fill-opacity="0.8" stroke="#ff0000"/>
<path d="M814 2519H830M906 2519H954" stroke="#f000d8" stroke-width="4.2" fill="none"/>
<path d="M597 2519H689M738 2519H814" stroke="#0058ff" stroke-width="4.2" fill="none"/>
<path d="M239 2519H597M689 2519H738" stroke="#ff0000" stroke-width="4.2" fill="none"/>
<path d="M532 2579l5-2l5-3l5-2l5-3l5-3l5-4l5-2l5-4l5-3l5-1l5-2l5-5l5-3l5-3l5-3l5-2l5-2h5l5-2l5-1l5 2l5 1h5l5 1l5 1h5l5 3l5 1l5 5l5 3l5 2l5 3l5 3l5 2l5 1l5 2l5 3l5 3l5 2l5 2l5 2l5 3h5l5 1h5l5 1l5 2l5 1h5z" fill="#ff00d2" fill-opacity="0.8" stroke="#f000d8"/>
<path d="M293 2579l5-1l5-2l5-1l5-2l5-2l5-3l5-2l5-3l5-3l5-4l5-3l5-3l5-2l5-2l5-2h5l5-2l5-3l5-2l5-3l5-1l5-1l5-1h5l5 1l5-2h5l5 1l5-1l5 1h5l5 1l5 2l5 1h5l5 3l5 2l5 1h5l5 2l5 1l5 3l5 2l5 3l5 3l5 2l5 2l5 1l5 2l5 2l5 2l5 2l5 1l5 1l5 2l5 1l5 2l5 1h5l5 2l5 1z" fill="#0044f4" fill-opacity="0.78" stroke="#0058ff"/>
<path d="M227 2579l5-1h5l5-1l5-1h5h5l5-1h5l5-1l5-1h5l5-1h5l5-1h5h5l5-1l5-1l5-3l5-2l5-3l5-2l5-2l5-2l5-2l5-2l5-3l5-3l5-2l5-1l5-2l5-1l5-1l5-1l5 1h5h5l5-2l5-1l5-2l5-1l5-1l5-1l5 1l5 1l5 4l5 1h5l5 2l5 2l5 1l5 1l5 4l5 8l5 6l5 3l5 1l5 2l5 2l5 1l5 1h5l5 1l5 1l5 1l5 1l5 1h5l5 1l5 1l5 1h5z" fill="#ff0008" fill-opacity="0.8" stroke="#ff0000"/>
<path d="M738 2579H954" stroke="#f000d8" stroke-width="4.2" fill="none"/>
<path d="M597 2579H629M656 2579H689" stroke="#0058ff" stroke-width="4.2" fill="none"/>
<path d="M239 2579H597M629 2579H656M689 2579H738" stroke="#ff0000" stroke-width="4.2" fill="none"/>
<path d="M521 2636l5-3l5-2l5-1l5-2l5-2l5-2l5-2l5-2l5-2l5-1l5-4l5-3l5-4l5-4l5-1l5-1l5-3l5-3l5-2l5-1l5-2l5-2h5h5l5-1l5 1l5-1l5 1l5 3l5 4l5 4l5 2l5 2l5 1l5 1l5 3l5 2l5 3l5 3l5 3l5 1l5 1l5 2l5 2l5 3l5 2l5 2h5l5 1l5 1l5 1l5 1h5l5 1z" fill="#ff00d2" fill-opacity="0.8" stroke="#f000d8"/>
<path d="M293 2636l5-3l5-3h5l5-1l5-2l5-2l5-2l5-2l5-2l5-2l5-2l5-1l5-1l5-1l5-2l5-3l5-3l5-2l5-3l5-3l5-3l5-2l5-1l5-2h5l5-1l5-1l5 1h5l5-1l5 1l5 2l5 1l5 3l5 2l5 2l5 1l5 1l5 1l5 1l5 3l5 2l5 3l5 1l5 3l5 1l5 2l5 1l5 1l5 2l5 2l5 2l5 2l5 2h5l5 1l5 1l5 1l5 2h5l5 2l5 1z" fill="#0044f4" fill-opacity="0.78" stroke="#0058ff"/>
<path d="M197 2636l5-1h5l5-1h5h5l5-1h5l5-1h5l5-1h5l5-1l5-1h5l5-1h5h5l5-1l5-1l5-1l5-1l5-1l5-2h5l5-2l5-1l5-1l5-1l5-1l5-1l5-2l5-3l5-2l5-2l5-1l5-2l5-1l5-3l5-3l5-3l5-3l5-1l5-1l5-1l5-1h5l5-1l5-1l5 1l5 2l5 2l5 2l5 3l5 2h5l5 1l5 4l5 4l5 3l5 4l5 2l5 2l5 3l5 3l5 3l5 3l5 4l5 2l5 1h5l5 2z" fill="#ff0008" fill-opacity="0.8" stroke="#ff0000"/>
<path d="M770 2636H795M876 2636H925" stroke="#f000d8" stroke-width="4.2" fill="none"/>
<path d="M640 2636H721M795 2636H846" stroke="#0058ff" stroke-width="4.2" fill="none"/>
<path d="M207 2636H640M721 2636H770" stroke="#ff0000" stroke-width="4.2" fill="none"/>
<path d="M559 2695l5-2l5-2l5-3l5-3l5-4l5-3l5-3l5-2l5-2l5-3l5-5l5-3l5-3l5-1l5-2l5-1l5-2l5-1l5-1l5-3l5-1l5 2l5 1h5l5 2l5 1l5 3l5 4l5 4l5 4l5 2l5 1l5 3l5 4l5 3l5 3l5 3l5 2l5 2l5 2l5 1l5 2h5l5 1h5h5z" fill="#ff00d2" fill-opacity="0.8" stroke="#f000d8"/>
<path d="M293 2695l5-2l5-1l5-2l5-1l5-1l5-2l5-1l5-2l5-2l5-1l5-2l5-1l5-1l5-1l5-2l5-2l5-2l5-4l5-2l5-2l5-3l5-2l5-2h5h5l5-2l5-1l5-2l5-1l5-2h5h5h5l5 1l5 1l5-1l5 2h5l5 1l5 1l5 3l5 1l5 3l5 2l5 2l5 1l5 3l5 3l5 3l5 4l5 4l5 2l5 1l5 2l5 3l5 1l5 1l5 2l5 2l5 1z" fill="#0044f4" fill-opacity="0.78" stroke="#0058ff"/>
<path d="M245 2695h5l5-1h5h5l5-1h5l5-1l5-1h5h5l5-1l5-1l5-1h5h5h5l5-2l5-1l5-3l5-2l5-2l5-2l5-2l5-1l5-1l5-3l5-3l5-2l5-3l5-3l5-2l5-3l5-1l5-1l5-1l5-1l5-2l5-2l5-1h5l5 1h5l5 1l5 1l5 1l5 2l5 3l5 5l5 4l5 4l5 2l5 2l5 4l5 2l5 4l5 2l5 3h5l5 1l5 2l5 2l5 1l5 1l5 1h5l5 1l5 1z" fill="#ff0008" fill-opacity="0.8" stroke="#ff0000"/>
<path d="M223 2695H255M784 2695H971" stroke="#f000d8" stroke-width="4.2" fill="none"/>
<path d="M751 2695H784" stroke="#0058ff" stroke-width="4.2" fill="none"/>
<path d="M255 2695H751" stroke="#ff0000" stroke-width="4.2" fill="none"/>
<path d="M532 2755v-1l5-4l5-4l5-1l5-1l5-3l5-3l5-3l5-2l5-2l5-1l5-3l5-3l5-4l5-3l5-3l5-2l5-1l5-2l5-2l5-1h5l5-1l5 1l5 1l5 2l5 1h5l5 2l5 2l5 2l5 3l5 3l5 5l5 3l5 1l5 2l5 3l5 4l5 3l5 2l5 3l5 1l5 1l5 1h5l5 1l5 1h5h5l5 1l5 1z" fill="#ff00d2" fill-opacity="0.8" stroke="#f000d8"/>
<path d="M288 2755l5-3l5-3l5-1l5-1l5-1l5-2l5-2l5-2l5-1l5-2l5-2l5-1h5h5l5-1l5 1l5-1l5-1l5-1l5-3l5-2l5-3l5-3l5-2l5-2h5l5-3l5-1l5-2l5-1l5-2h5l5-1h5h5l5 2l5 1h5l5 4l5 4l5 4l5 3l5 1l5 3l5 4l5 3l5 3l5 2l5 1l5 1l5 1l5 1l5 1l5 2l5 2l5 1l5 1l5 1h5l5 2l5 1z" fill="#0044f4" fill-opacity="0.78" stroke="#0058ff"/>
<path d="M240 2755l5-1h5l5-1h5l5-1l5-1l5-1l5-1l5-1l5-1l5-1l5-1l5-1l5-1h5l5-1l5-1h5h5l5-1l5-1h5l5-2l5-1l5-2l5-2l5-3l5-2l5-2l5-2l5-2l5-3l5-2l5-1l5-4l5-2l5-2l5-1h5l5-2l5-1l5 1l5 3l5 2l5 1l5 1l5 1l5 5l5 4l5 5l5 4l5 3l5 1l5 3l5 2l5 3l5 3l5 1l5 1l5 1l5 2l5 1l5 1l5 1l5 1l5 1z" fill="#ff0008" fill-opacity="0.8" stroke="#ff0000"/>
<path d="M193 2755H223M721 2755H795" stroke="#f000d8" stroke-width="4.2" fill="none"/>
<path d="M223 2755H253M629 2755H721" stroke="#0058ff" stroke-width="4.2" fill="none"/>
<path d="M253 2755H629M795 2755H846" stroke="#ff0000" stroke-width="4.2" fill="none"/>
<path d="M516 2812l5-3l5-2l5-2l5-2l5-3l5-2l5-3l5-2l5-2l5-1l5-3l5-3l5-3l5-4l5-3l5-1l5-2l5-1l5-2l5-1l5-2l5-2l5-1l5 2l5 2h5l5 2l5 1l5 2l5 2l5 3l5 3l5 2l5 3l5 2l5 2l5 2l5 2l5 4l5 3l5 3l5 2l5 1l5 1l5 1l5 2l5 1h5l5 1l5 1h5z" fill="#ff00d2" fill-opacity="0.8" stroke="#f000d8"/>
<path d="M272 2812h5l5-1l5-1l5-1l5-1l5-2l5-2l5-2l5-2l5-3l5-1l5-2l5-1l5-1l5-1l5-1h5h5l5-1l5-1l5-1l5-1l5-2l5-3l5-2l5-1l5-2l5-2h5l5-1l5-2l5-3l5-3h5l5-1l5-1h5l5-1h5l5 1l5 2l5 3l5 2l5 1l5 1l5 3h5l5 2l5 1l5 1l5 3l5 5l5 5l5 3l5 2l5 1l5 1l5 2l5 2l5 3l5 1l5 2l5 1l5 1l5 1z" fill="#0044f4" fill-opacity="0.78" stroke="#0058ff"/>
<path d="M286 2812l5-1l5-1h5l5-1h5l5-1l5-1l5-1h5l5-1l5-1l5-1l5-1h5l5-1h5h5h5l5-1l5-1l5-1h5l5-4l5-6l5-6l5-3l5-2l5-3l5-4l5-4l5-2l5-1l5 3l5 3l5 4l5 3l5 3l5 2l5 3l5 5l5 3l5 2l5 6l5 4h5h5l5 1h5l5 1l5 1h5l5 1h5l5 1h5l5 1l5 1l5 1z" fill="#ff0008" fill-opacity="0.8" stroke="#ff0000"/>
<path d="M193 2812H207M255 2812H285M662 2812H846" stroke="#f000d8" stroke-width="4.2" fill="none"/>
<path d="M285 2812H299M564 2812H662" stroke="#0058ff" stroke-width="4.2" fill="none"/>
<path d="M207 2812H255M299 2812H564" stroke="#ff0000" stroke-width="4.2" fill="none"/>
<path d="M526 2871l5-2l5-3l5-2l5-2l5-3l5-3l5-4l5-2l5-1l5-3l5-2l5-3l5-2l5-4l5-2h5l5-1l5-2l5-2l5-3l5-1l5-1h5l5-1h5l5 1l5 2l5 1h5l5 2l5 3l5 4l5 4l5 3l5 3l5 1l5 2l5 3l5 2l5 3l5 2l5 1l5 2l5 1l5 1l5 2l5 1l5 1l5 1l5 2h5h5l5 1z" fill="#ff00d2" fill-opacity="0.8" stroke="#f000d8"/>
<path d="M256 2871h5l5-1h5l5-1l5-1l5-1l5-2h5l5-2l5-1l5-2l5-1l5-1l5-1l5-2l5-1l5-1l5-1l5-3l5-2l5-3l5-2l5-2l5-3l5-1l5-2l5-2l5-2l5-3l5-2l5-2l5-2l5-1l5-2l5 2h5l5 1h5l5-1l5 1l5 1h5l5 1l5 2l5 3l5 1l5 3l5 2l5 2l5 1l5 1l5 3l5 3l5 5l5 4l5 3l5 4l5 1l5 1l5 2l5 2l5 1l5 1l5 2l5 1z" fill="#0044f4" fill-opacity="0.78" stroke="#0058ff"/>
<path d="M254 2871l5-1l5-1h5l5-1l5-1l5-1l5-1l5-2l5-1l5-2l5-2l5-1l5-1l5-2l5-1h5l5-1l5-2l5-1l5-2l5-2l5-2l5-3l5-1l5-1l5-1l5-2l5-1l5-4l5-2l5-2h5h5l5-1l5-2l5-1l5-2l5-1l5 1l5 1l5 1l5 1h5l5 1l5 1l5-1l5 1l5 3l5 2l5 3l5 3l5 2l5 2l5 2l5 5l5 4l5 6l5 4l5 2l5 2h5l5 2l5 1l5 1l5 1l5 1z" fill="#ff0008" fill-opacity="0.8" stroke="#ff0000"/>
<path d="M207 2871H223M738 2871H846" stroke="#f000d8" stroke-width="4.2" fill="none"/>
<path d="M223 2871H269M662 2871H738" stroke="#0058ff" stroke-width="4.2" fill="none"/>
<path d="M269 2871H662" stroke="#ff0000" stroke-width="4.2" fill="none"/>
<path d="M521 2930l5-3l5-2l5-1l5-2l5-2l5-3l5-2l5-2l5-2h5l5-2l5-4l5-3l5-3l5-2l5-2l5-3l5-2h5l5-1l5-3l5-2l5-1l5-1l5-3l5 1l5 1l5 3l5 1l5 1h5l5 2l5 4l5 3l5 3l5 4l5 3l5 2l5 2l5 3l5 3l5 3l5 2l5 2l5 1l5 1l5 1h5l5 2h5l5 1l5 1h5h5V2930z" fill="#ff00d2" fill-opacity="0.8" stroke="#f000d8"/>
<path d="M272 2930l5-2l5-1l5-1l5-2l5-2l5-2l5-2l5-3l5-2l5-1l5-2l5-2l5-1l5-2l5-3l5-2l5-1l5-1l5-1l5-1l5-2l5-3l5-1l5-1h5l5-1l5-2l5-2l5-3h5l5-2l5-2l5 2l5 2l5 2l5 2l5 2l5 2h5l5 1l5 2l5 2l5 4l5 3l5 1l5 2l5 2l5 3l5 2l5 4l5 2l5 2l5 1l5 2l5 2l5 2l5 2h5l5 1l5 1z" fill="#0044f4" fill-opacity="0.78" stroke="#0058ff"/>
<path d="M213 2930l5-1l5-1h5h5l5-1h5h5l5-1l5-1h5h5h5h5l5-1l5-2l5-3l5-2l5-4l5-2l5-3l5-1l5-1l5-2l5-2l5-3l5-2l5-2l5-2h5l5-3l5-3l5-4l5-3h5l5-1l5 3l5 1h5l5-1l5 1l5 2l5 1l5-1h5l5 1h5h5l5 2l5 2l5 3l5 1l5 1l5 3l5 1l5 3l5 3l5 2l5 3l5 2l5 4l5 3l5 3l5 1l5 1l5 1l5 1l5 1l5 1l5 1h5V2930z" fill="#ff0008" fill-opacity="0.8" stroke="#ff0000"/>
<path d="M193 2930H207M721 2930H925" stroke="#f000d8" stroke-width="4.2" fill="none"/>
<path d="M207 2930H223M689 2930H721" stroke="#0058ff" stroke-width="4.2" fill="none"/>
<path d="M223 2930H689" stroke="#ff0000" stroke-width="4.2" fill="none"/>
</g>
<g id="axis5">
<path d="M64.6 1232V1466.6H841.5" fill="none" stroke="#d8d8d8" stroke-width="1.3"/>
<path d="M200.9 1466.6v3.7M157.1 1466.6v3.7M210.7 1466.6v3.7M147.3 1466.6v3.7M220.8 1466.6v3.7M137.2 1466.6v3.7M230.5 1466.6v3.7M127.5 1466.6v3.7M239.4 1466.6v3.7M118.6 1466.6v3.7M246.9 1466.6v3.7M111.1 1466.6v3.7M253.9 1466.6v3.7M104.1 1466.6v3.7M260.9 1466.6v3.7M97.1 1466.6v3.7M323.8 1466.6v3.7M356.7 1466.6v3.7M380.1 1466.6v3.7M398.2 1466.6v3.7M413 1466.6v3.7M425.5 1466.6v3.7M436.4 1466.6v3.7M445.9 1466.6v3.7M503.4 1466.6v3.7M532 1466.6v3.7M552.3 1466.6v3.7M568.1 1466.6v3.7M580.9 1466.6v3.7M591.8 1466.6v3.7M601.3 1466.6v3.7M609.6 1466.6v3.7M664.6 1466.6v3.7M692.4 1466.6v3.7M712.1 1466.6v3.7M727.4 1466.6v3.7M739.9 1466.6v3.7M750.5 1466.6v3.7M759.7 1466.6v3.7M767.8 1466.6v3.7M822.6 1466.6v3.7M267.5 1466.6v6.2M90.5 1466.6v6.2M190.2 1466.6v6.2M167.8 1466.6v6.2M454.5 1466.6v6.2M617 1466.6v6.2M775 1466.6v6.2" fill="none" stroke="#d8d8d8" stroke-width="1.15"/>
<path d="M170.2 1466.9v3.2M173 1466.9v3.2M175.8 1466.9v3.2M182.2 1466.9v3.2M185 1466.9v3.2M187.8 1466.9v3.2M179 1466.9v6.3" fill="none" stroke="#f4f4f4" stroke-width="2.1"/>
<text x="179" y="1483.6" font-size="9.3" fill="#ececec" class="b" text-anchor="middle" stroke="#ececec" stroke-width="0.35">0</text>
<text x="267.5" y="1483.6" font-size="9.3" fill="#ececec" class="b" text-anchor="middle" stroke="#ececec" stroke-width="0.35">1E2</text>
<text x="454.5" y="1483.6" font-size="9.3" fill="#ececec" class="b" text-anchor="middle" stroke="#ececec" stroke-width="0.35">1E3</text>
<text x="617" y="1483.6" font-size="9.3" fill="#ececec" class="b" text-anchor="middle" stroke="#ececec" stroke-width="0.35">1E4</text>
<text x="775" y="1483.6" font-size="9.3" fill="#ececec" class="b" text-anchor="middle" stroke="#ececec" stroke-width="0.35">1E5</text>
<text x="91" y="1483.6" font-size="9.3" fill="#ececec" class="b" text-anchor="middle" stroke="#ececec" stroke-width="0.35">-1E2</text>
<text x="0" y="0" font-size="14.7" fill="#ffffff" class="b" textLength="60" lengthAdjust="spacingAndGlyphs" transform="translate(44.1 1466.3) rotate(-90)" stroke="#fff" stroke-width="0.45">Density</text>
<text x="65.7" y="1510" font-size="25.6" fill="#00ffff" class="b" textLength="150.3" lengthAdjust="spacingAndGlyphs" stroke="#00ffff" stroke-width="1.4" stroke-linejoin="round">CD33:PE-A</text>
</g>
<g id="hist6" transform="scale(.5)" stroke-width="3.7" stroke-linejoin="round">
<path d="M228 3113h5l5-2h5l5-2l5-1l5-1l5-1l5-1l5-1l5-1l5-1l5-1l5-2l5-2l5-2l5-2l5-3l5-2l5-3l5-3h5l5-2l5-1l5-2l5-2l5-2l5-1l5-3l5-2l5-1l5 1l5-2l5-1l5-1l5-2l5-1l5-1h5h5h5l5 1l5 1h5l5 2l5 1h5l5 1l5 2l5 2l5 4l5 2l5 3l5 2l5 1l5 2h5l5 1l5 2l5 1l5 3l5 2l5 2l5 1h5l5 1l5 1l5 2l5 2l5 1l5 1l5 2h5l5 1h5l5 2l5 1l5 1l5 1l5 1h5h5l5 1z" fill="#ff00d2" fill-opacity="0.8" stroke="#f000d8"/>
<path d="M153 3113l5-1h5l5-1l5-1l5-2l5-1l5-2l5-1l5-2l5-1l5-2l5-2h5l5-2l5-2l5-3l5-3l5-3l5-4l5-2l5-3l5-1l5-2l5-2l5-2l5-1h5l5-3l5-2l5-2l5-1l5-1l5 1l5 1l5 1l5-1l5 1l5-1l5 2h5l5 1h5h5h5l5 1l5 3h5l5 1l5 2l5-1l5 3l5 4l5 3l5 4l5 3l5 2l5 2l5 2l5 2l5 3l5 2l5 3l5 1l5 1l5 1l5 2l5 1l5 1l5 1l5 1l5 1l5 1h5z" fill="#0044f4" fill-opacity="0.78" stroke="#0058ff"/>
<path d="M132 3113h5l5-1l5-1h5h5l5-1l5-2l5-1l5-1h5l5-1h5l5-2l5-2l5-2l5-2l5-2l5-2l5-1l5-1l5-2l5-2l5-2l5-1l5-2l5-3h5l5-1l5-1l5-2l5-3l5-3l5-3h5l5-2l5-3l5-2l5-2l5 2h5l5-1l5 1l5 1l5 2l5 3l5 2h5l5 2l5 1h5h5l5 1l5 1l5 1l5 3l5 3l5 5l5 4l5 3l5 1l5 3l5 2l5 4l5 3l5 2l5 2h5h5l5 1l5 1h5l5 1h5h5l5 1l5 1h5h5z" fill="#ff0008" fill-opacity="0.8" stroke="#ff0000"/>
<path d="M551 3113H675" stroke="#f000d8" stroke-width="4.2" fill="none"/>
<path d="M131 3113H144M521 3113H551" stroke="#0058ff" stroke-width="4.2" fill="none"/>
<path d="M144 3113H521" stroke="#ff0000" stroke-width="4.2" fill="none"/>
<path d="M228 3179l5-1l5-1l5-2l5-1l5-1l5-2l5-3l5-1l5-1l5-2h5l5-1l5-3l5-1l5-2l5-2l5-2l5-1l5-1l5-2l5-1l5-1l5-1l5-1l5-2l5-1l5-2l5-1l5-2l5-2l5-1l5-2l5 1h5l5 1h5l5-1l5 1h5l5-1h5h5l5-1l5-2l5-3h5l5-1h5h5l5-1h5l5-1l5 2l5 3l5 2l5 5l5 2l5 2l5 3l5 1l5 1l5 3l5 3l5 1l5 2l5 2h5l5 2l5 2l5 2l5 2l5 1l5 2l5 1l5 2l5 1l5 1l5 1l5 1l5 2h5l5 1l5 1l5 1h5h5z" fill="#ff00d2" fill-opacity="0.8" stroke="#f000d8"/>
<path d="M129 3179h5l5-1l5-1l5-1l5-1l5-1l5-2l5-1l5-2l5-1l5-1l5-1l5-1l5-1l5-1l5-2l5-2l5-2h5l5-3l5-1l5-2l5-2h5l5-1l5-2l5-1l5-2l5-1l5-1l5-2h5l5-2h5h5l5-2l5-1l5-2h5l5-2l5-1l5-1l5-2l5-2h5l5-1l5-1l5 2l5 5l5 5l5 3l5 4l5 1l5 2l5 1l5 1l5 1h5l5 1l5 2l5 1l5 1l5 2l5 2l5 1l5 1l5 1l5 1l5 2l5 2l5 2l5 2l5 2l5 1l5 1l5 1l5 1l5 1l5 2l5 2h5z" fill="#0044f4" fill-opacity="0.78" stroke="#0058ff"/>
<path d="M129 3179h5l5-1l5-1l5-1l5-1l5-2l5-2l5-2l5-1l5-2l5-2l5-1h5l5 1h5l5 1l5 1l5-1l5-2l5-3l5-3l5-2l5-1l5-1l5-1l5-2l5-2l5-1h5l5-1l5-2l5-2l5-3l5-2l5-3h5l5-1h5l5-2l5-3h5l5-2l5-1l5-1l5 3l5 3l5 4l5 3l5 3l5 3l5 5l5 2l5 4l5 3l5 2l5 3l5 1l5-3l5-3l5-2l5 1l5 3l5 1l5 2l5 2l5 2l5 2l5 1l5 1l5 1l5 2l5 1l5 1l5 2h5h5h5l5 1h5l5 1h5h5z" fill="#ff0008" fill-opacity="0.8" stroke="#ff0000"/>
<path d="M131 3179H144M537 3179H640M689 3179H721" stroke="#f000d8" stroke-width="4.2" fill="none"/>
<path d="M144 3179H537M640 3179H689" stroke="#ff0000" stroke-width="4.2" fill="none"/>
<path d="M228 3240h5l5-1l5-2l5-2l5-2l5-1l5-3l5-1l5-2l5-1l5-1l5-1l5-2l5-2l5-1l5-2l5-2l5-1l5-2l5-3l5-1l5-2l5-1l5-1h5l5-1l5-2l5-1l5-1l5-2l5-1h5l5-2h5l5-1l5-2l5-1h5h5h5l5-1l5-1h5l5 2l5-1h5h5h5l5 1l5 1l5-2l5 1h5l5 2l5 3l5 3l5 2l5 3l5 1l5 1l5 2l5 1l5 1l5 2l5 3l5 3l5 2l5 1l5 3l5 1l5 1l5 1l5 1l5 2l5 2l5 2l5 2l5 1h5l5 1l5 1l5 1h5l5 1h5h5l5 1h5z" fill="#ff00d2" fill-opacity="0.8" stroke="#f000d8"/>
<path d="M163 3240l5-1l5-1l5-1l5-1l5-2l5-2l5-2l5-3l5-2l5-1l5-3l5-1l5-2h5l5-2l5-3l5-2l5-4l5-2l5-3l5-1l5-3l5-1l5-1h5h5l5-2h5l5-1h5h5l5-1h5l5 1l5-1l5-1l5-3l5-1l5-1l5-1h5l5 1l5 2l5 2l5 1l5 2l5 2l5 1l5 2l5 3l5 4l5 3l5 3l5 1l5 2l5 1l5 2l5 2l5 2l5 1l5 3l5 3l5 1l5 2l5 4l5 3l5 2z" fill="#0044f4" fill-opacity="0.78" stroke="#0058ff"/>
<path d="M132 3240h5h5l5-1h5l5-1h5l5-2h5l5-1l5-1l5-1h5h5l5-1l5-2l5-2l5-2l5-2l5-4l5-1l5-2l5-4l5-6l5-7l5-3h5l5-2l5-3l5-2l5-1l5-2h5l5 2l5 2l5 3l5 1h5l5 2l5 1h5l5 1l5-2l5-2l5-2l5-3l5-1l5-1l5-1l5-1l5-1l5 3l5 3l5 1l5 2l5 3l5 5l5 6l5 4l5 3l5 3l5 3l5 2l5 2l5 1l5 1l5 1l5 2l5 2l5 1l5 1l5 1l5 1h5h5l5 1l5 1l5 1l5 1h5h5z" fill="#ff0008" fill-opacity="0.8" stroke="#ff0000"/>
<path d="M613 3240H738" stroke="#f000d8" stroke-width="4.2" fill="none"/>
<path d="M581 3240H613" stroke="#0058ff" stroke-width="4.2" fill="none"/>
<path d="M144 3240H581" stroke="#ff0000" stroke-width="4.2" fill="none"/>
<path d="M228 3306l5-2l5-1l5-1l5-2l5-1l5-2l5-2l5-2l5-2h5l5-2l5-1l5-1l5-2l5-2l5-2l5-2l5-2l5-1l5-3l5-2l5-1l5-2l5-1l5-1l5-1h5l5-3l5-2l5-1h5l5-3l5 1l5-1l5-1l5-1h5l5-1h5l5-2l5 2h5l5 1l5 1h5l5 3h5l5 1h5l5 2l5 1l5 2l5 1l5 3l5 1l5 1l5 1l5 2h5l5 1l5 2l5 2l5 2l5 2l5 1l5 1l5 2l5 2l5 1l5 1l5 2l5 2l5 2l5 2l5 2h5l5 1l5 2l5 1l5 1V3306z" fill="#ff00d2" fill-opacity="0.8" stroke="#f000d8"/>
<path d="M190 3306l5-2l5-1l5-1l5-1l5-2l5-2l5-2l5-3l5-1l5-2l5-2l5-2l5-2l5-2l5-4l5-2l5-3l5-1l5-1l5-1l5-2l5-2l5-2l5-2l5-2l5-2l5-3l5-1l5 2l5-1h5l5 1l5-1l5-1l5 1l5 1l5 2l5 1l5 2l5 1h5l5 1h5l5 2l5 1l5 2l5 3l5 2l5 1l5 3l5 2l5 3l5 4l5 4l5 2l5 2l5 1l5 2l5 1l5 2l5 1l5 2l5 1l5 2h5V3306z" fill="#0044f4" fill-opacity="0.78" stroke="#0058ff"/>
<path d="M148 3306v-1h5l5-1h5l5-1h5l5-1h5h5l5-1l5-1h5h5l5-1l5-2l5-1l5-2l5-1h5l5-2l5-3l5-3l5-3l5-3l5-2l5-1l5-2l5-2l5-2l5-4l5-2l5-2l5-1l5-1l5-2l5-3l5-1l5-3l5 1h5l5 1l5 3l5 3l5 1l5 2l5-1l5 2l5 1l5 1h5l5 1l5 1l5 1h5l5 2l5 1l5 1l5 1l5 2l5 4l5 4l5 4l5 2l5 3l5 3l5 3l5 2l5 1l5 1l5 1l5 1h5l5 1h5l5 1z" fill="#ff0008" fill-opacity="0.8" stroke="#ff0000"/>
<path d="M629 3306H675" stroke="#f000d8" stroke-width="4.2" fill="none"/>
<path d="M144 3306H161" stroke="#0058ff" stroke-width="4.2" fill="none"/>
<path d="M161 3306H629" stroke="#ff0000" stroke-width="4.2" fill="none"/>
<path d="M255 3369l5-1l5-1l5-2l5-3l5-2l5-3l5-2l5-3l5-2l5-2h5l5-1l5-2l5-3l5-2l5-2l5-2l5-4l5-2l5-2l5-1l5-2h5l5-2h5l5-2l5-2l5-1l5-2h5l5 2h5l5-1l5 1h5l5 1l5-1h5l5 2h5l5 2l5 1l5 2h5l5 1l5 2h5l5 1h5l5 1l5 1l5 3l5 1l5 4l5 3l5 1l5 1l5 1l5 2l5 1l5 2l5 3l5 1l5 2l5 1l5 2l5 1l5 1l5 2l5 2l5 1l5 1l5 1l5 1h5z" fill="#ff00d2" fill-opacity="0.8" stroke="#f000d8"/>
<path d="M132 3369h5l5-1h5l5-1l5-1h5l5-1l5-1l5-1h5l5-2h5l5-1l5-2l5-2l5-2l5-3l5-2l5-1l5-1l5-2l5-2l5-1l5-4l5-1l5-2l5-2l5-2l5-1h5l5-2l5-1l5-3l5-2l5-2h5h5l5-1h5h5l5-2l5-2l5 1h5l5 1l5 2l5 2h5l5 2l5 1l5 1h5l5 3l5 3l5 3l5 1l5 3l5 1l5 2l5 1l5 3l5 3l5 2l5 2l5 2h5l5 2l5 1l5 1l5 2l5 2l5 1l5 1l5 1l5 2l5 2h5z" fill="#0044f4" fill-opacity="0.78" stroke="#0058ff"/>
<path d="M207 3369h5l5-1h5l5-2l5-2l5-4l5-3l5-3l5-3l5-1h5l5-2l5-1l5-2h5l5-3l5-6l5-6l5-1l5-2l5-2l5-1l5-1l5 1l5-2l5-3l5-2l5-2l5 4l5 4l5 6l5 5l5 2h5l5 2l5 2l5 3l5 1l5 2l5 1h5l5 1h5l5 2l5 1h5l5 1l5 3l5 3l5 2l5 2l5 1l5 1h5l5 1l5 1l5 1l5 1h5l5 1h5h5z" fill="#ff0008" fill-opacity="0.8" stroke="#ff0000"/>
<path d="M131 3369H144M583 3369H613M659 3369H692" stroke="#f000d8" stroke-width="4.2" fill="none"/>
<path d="M144 3369H220M564 3369H583" stroke="#0058ff" stroke-width="4.2" fill="none"/>
<path d="M220 3369H564M613 3369H659" stroke="#ff0000" stroke-width="4.2" fill="none"/>
<path d="M255 3433l5-1l5-2l5-2l5-2l5-3l5-2l5-3l5-2l5-2l5-2h5l5-1l5-3l5-2l5-1l5-3l5-2l5-3l5-1l5-2l5-1h5l5-1l5-3l5-1l5-2l5-1l5-2l5-1h5h5l5-2h5l5-2l5 1l5 1l5 1h5l5 3l5 1l5 3l5 1h5l5 1l5 1l5 2l5 3l5 1l5 3l5 1l5 2l5 2l5 1l5 2l5 3l5 2l5 2l5 3l5 1h5l5 1l5 2l5 1l5 2l5 1l5 2l5 1l5 1l5 1l5 1h5l5 1z" fill="#ff00d2" fill-opacity="0.8" stroke="#f000d8"/>
<path d="M201 3433l5-1l5-3l5-2l5-2l5-2l5-1l5-2l5-2l5-2l5-3l5-3l5-2l5-2l5-1l5-2l5-3h5l5-4l5-2l5-3l5-2l5-3l5-1l5-1l5-1l5 1l5-3l5-1l5 1l5-2l5-1h5h5l5 3l5 1l5 1l5 2l5 1h5l5 5l5 5l5 4l5 2l5 1l5 1l5 1l5 2l5 3l5 2l5 2h5l5 1l5 2l5 2l5 2l5 1l5 2l5 1l5 1l5 1l5 1l5 2l5 1h5l5 1l5 1z" fill="#0044f4" fill-opacity="0.78" stroke="#0058ff"/>
<path d="M159 3433l5-1h5l5-1l5-2l5-2l5-2l5-3l5-2l5-2l5-3l5-6l5-8l5-6l5-6l5-2l5-1l5-3l5-2l5-3l5 1l5-2l5-1l5-1h5l5 4l5 3l5 4l5 2l5 1l5 2l5 3l5-1l5-1l5-1l5-1l5-1l5-2l5-1l5 1h5l5 1l5-1l5 1l5-1l5-1h5l5 3l5 7l5 7l5 3l5 1l5 1l5 1l5 1l5 1l5 2l5 1l5 2l5 2l5 2l5 1l5 1l5 2l5 1l5 2l5 1l5 1l5 1l5 1l5 1l5 1z" fill="#ff0008" fill-opacity="0.8" stroke="#ff0000"/>
<path d="M144 3433H174M521 3433H708" stroke="#f000d8" stroke-width="4.2" fill="none"/>
<path d="M505 3433H521" stroke="#0058ff" stroke-width="4.2" fill="none"/>
<path d="M174 3433H505" stroke="#ff0000" stroke-width="4.2" fill="none"/>
<path d="M283 3496l5-2l5-3l5-3l5-3l5-4l5-3l5-4l5-4l5-2l5-2l5-2l5-1l5-1l5-3l5-1l5-1l5-2l5-2l5-3l5-1l5-1l5-1l5 1l5-2h5h5h5h5l5-1l5-1l5 2h5l5-1h5l5-1l5 2h5l5-1h5l5 1h5l5 1h5l5 3l5 3h5l5 3h5l5 1l5 3l5 2l5 2l5 2l5 2l5 2l5 1l5 1l5 2l5 3l5 2l5 3l5 1l5 2l5 2l5 1l5 1l5 1l5 1l5 1l5 2h5h5l5 1l5 1h5z" fill="#ff00d2" fill-opacity="0.8" stroke="#f000d8"/>
<path d="M190 3496l5-1l5-2h5l5-2l5-1l5-2l5-2l5-2l5-3l5-2l5-2l5-1l5-2l5-1l5-2l5-4l5-3l5-3l5-4l5-4l5-1l5-3h5l5-1l5-1l5-2l5-2l5 1l5-3l5 2l5 1l5 1l5 1l5 1l5 3l5 1h5l5 3l5 3l5 1l5 2l5 3l5 1l5 2l5 1l5 2l5 2l5 3l5 2l5 2l5 2l5 2h5l5 2l5 1l5 1l5 1l5 1l5 1l5 1l5 1l5 1l5 1l5 1l5 1l5 1z" fill="#0044f4" fill-opacity="0.78" stroke="#0058ff"/>
<path d="M175 3496h5l5-1h5l5-1h5l5-2l5-1l5-1l5-1l5-1l5-1l5-1l5-1l5-2l5-3l5-3l5-2l5-3l5-3l5-2l5-2l5-4l5-5l5-4l5-1l5-3l5-4l5-1l5-2l5 1h5l5 2l5 2l5 1l5 1h5l5 2l5 2l5 2l5 3l5 1l5 1l5 2l5 3l5 1l5 2l5 1l5 2l5 5l5 3l5 3l5 1l5 2l5 2l5 2l5 1l5 2h5l5 1h5l5 1l5 1h5l5 1l5 1h5z" fill="#ff0008" fill-opacity="0.8" stroke="#ff0000"/>
<path d="M551 3496H721" stroke="#f000d8" stroke-width="4.2" fill="none"/>
<path d="M161 3496H190M505 3496H551" stroke="#0058ff" stroke-width="4.2" fill="none"/>
<path d="M190 3496H505" stroke="#ff0000" stroke-width="4.2" fill="none"/>
<path d="M283 3561l5-1l5-3l5-2l5-3l5-4l5-3l5-2l5-3l5-3l5-1l5-2l5-2l5-1l5-1l5-1l5-2l5-3l5-2h5l5-3l5-1l5-1h5l5-1l5-3l5-2h5h5h5l5-2l5-1h5l5-1h5h5l5 1l5 1l5 2h5h5l5 1l5 2l5 3l5 2l5 3l5 3l5 3l5 1l5 2l5 1l5 2l5 2l5 2l5 1l5 2l5 1l5 1l5 1l5 1l5 2l5 2l5 1l5 2l5 2l5 1h5l5 1l5 1l5 1l5 1h5l5 1l5 1h5h5z" fill="#ff00d2" fill-opacity="0.8" stroke="#f000d8"/>
<path d="M201 3561l5-1l5-2l5-3l5-2l5-2l5-1l5-1l5-2l5-2l5-2l5-2l5-2l5-2l5-3l5-2l5-1l5-1l5-1l5-1l5-2l5-2l5-1l5-1l5-3l5-1l5-2l5-1l5-1l5-1h5l5-1l5-3h5l5-1h5l5-1l5 2l5 2l5 2l5 3l5 2l5 3l5 2l5 2l5 4l5 3l5 3l5 3l5 1l5 2l5 2l5 3l5 3l5 1l5 1l5 2l5 1l5 1l5 1l5 1l5 2l5 1l5 1z" fill="#0044f4" fill-opacity="0.78" stroke="#0058ff"/>
<path d="M186 3561h5l5-1h5l5-2l5-2l5-2l5-2l5-2l5-3l5-1l5-2l5-1l5-2l5-3l5-2l5-3l5-2l5-2l5-3l5-4l5-2l5-2l5-3l5-2l5-2h5l5-3l5-2l5-2h5l5 2l5 1h5l5 3l5 2l5 3l5 6l5 3h5l5 1l5 2l5 1h5h5l5-1l5 1l5 1l5 4l5 4l5 3l5 3l5 3l5 1l5 2l5 3l5 2l5 2h5l5 1h5h5l5 1h5l5 1h5l5 1h5l5 1h5h5z" fill="#ff0008" fill-opacity="0.8" stroke="#ff0000"/>
<path d="M537 3561H708" stroke="#f000d8" stroke-width="4.2" fill="none"/>
<path d="M131 3561H537" stroke="#ff0000" stroke-width="4.2" fill="none"/>
</g>
<g id="axis6">
<path d="M64.6 1527V1782H841.5" fill="none" stroke="#d8d8d8" stroke-width="1.3"/>
<path d="M195 1782v3.7M137 1782v3.7M207.9 1782v3.7M124.1 1782v3.7M221.2 1782v3.7M110.8 1782v3.7M234.1 1782v3.7M97.9 1782v3.7M245.9 1782v3.7M86.1 1782v3.7M255.7 1782v3.7M76.3 1782v3.7M265 1782v3.7M67 1782v3.7M274.2 1782v3.7M336.6 1782v3.7M367.9 1782v3.7M390.2 1782v3.7M407.4 1782v3.7M421.5 1782v3.7M433.4 1782v3.7M443.8 1782v3.7M452.9 1782v3.7M507.7 1782v3.7M535 1782v3.7M554.3 1782v3.7M569.3 1782v3.7M581.6 1782v3.7M592 1782v3.7M601 1782v3.7M608.9 1782v3.7M663.9 1782v3.7M691.9 1782v3.7M711.7 1782v3.7M727.1 1782v3.7M739.7 1782v3.7M750.4 1782v3.7M759.6 1782v3.7M767.7 1782v3.7M822.9 1782v3.7M283 1782v6.2M180.7 1782v6.2M151.3 1782v6.2M461 1782v6.2M616 1782v6.2M775 1782v6.2" fill="none" stroke="#d8d8d8" stroke-width="1.15"/>
<path d="M154.3 1782.3v3.2M158 1782.3v3.2M161.8 1782.3v3.2M170.2 1782.3v3.2M174 1782.3v3.2M177.7 1782.3v3.2M166 1782.3v6.3" fill="none" stroke="#f4f4f4" stroke-width="2.1"/>
<text x="166" y="1799.6" font-size="9.3" fill="#ececec" class="b" text-anchor="middle" stroke="#ececec" stroke-width="0.35">0</text>
<text x="283" y="1799.6" font-size="9.3" fill="#ececec" class="b" text-anchor="middle" stroke="#ececec" stroke-width="0.35">1E2</text>
<text x="461" y="1799.6" font-size="9.3" fill="#ececec" class="b" text-anchor="middle" stroke="#ececec" stroke-width="0.35">1E3</text>
<text x="616" y="1799.6" font-size="9.3" fill="#ececec" class="b" text-anchor="middle" stroke="#ececec" stroke-width="0.35">1E4</text>
<text x="775" y="1799.6" font-size="9.3" fill="#ececec" class="b" text-anchor="middle" stroke="#ececec" stroke-width="0.35">1E5</text>
<text x="0" y="0" font-size="16.0" fill="#ffffff" class="b" textLength="65" lengthAdjust="spacingAndGlyphs" transform="translate(44 1781.4) rotate(-90)" stroke="#fff" stroke-width="0.45">Density</text>
<text x="65.7" y="1828.8" font-size="25.8" fill="#ff9900" class="b" textLength="440.5" lengthAdjust="spacingAndGlyphs" stroke="#ff9900" stroke-width="1.4" stroke-linejoin="round">CD19:Horizon V450-A LOGICAL</text>
</g>
</g>
<text x="38.6" y="87" font-size="44.3" fill="#fff" class="b" textLength="29.2" lengthAdjust="spacingAndGlyphs">A</text>
<g id="scatter" filter="url(#bl1)"><g transform="translate(1052 53) scale(3.5)">
<path d="M16 0h23v1h-23zM12 1h1v1h-1zM14 1h25v1h-25zM13 2h27v1h-27zM12 3h28v1h-28zM12 4h1v1h-1zM14 4h26v1h-26zM14 5h26v1h-26zM12 6h28v1h-28zM13 7h27v1h-27zM11 8h29v1h-29zM10 9h1v1h-1zM12 9h28v1h-28zM10 10h30v1h-30zM12 11h28v1h-28zM12 12h28v1h-28zM11 13h29v1h-29zM10 14h30v1h-30zM11 15h29v1h-29zM8 16h1v1h-1zM10 16h30v1h-30zM11 17h29v1h-29zM9 18h31v1h-31zM10 19h30v1h-30zM10 20h30v1h-30zM9 21h31v1h-31zM6 22h1v1h-1zM9 22h31v1h-31zM8 23h1v1h-1zM10 23h30v1h-30zM9 24h31v1h-31zM10 25h30v1h-30zM10 26h30v1h-30zM8 27h1v1h-1zM10 27h30v1h-30zM10 28h30v1h-30zM10 29h30v1h-30zM8 30h1v1h-1zM10 30h30v1h-30zM7 31h1v1h-1zM10 31h30v1h-30zM9 32h31v1h-31zM10 33h30v1h-30zM10 34h30v1h-30zM11 35h29v1h-29zM10 36h30v1h-30zM11 37h29v1h-29zM9 38h31v1h-31zM8 39h1v1h-1zM10 39h30v1h-30zM6 40h1v1h-1zM9 40h31v1h-31zM8 41h1v1h-1zM10 41h30v1h-30zM8 42h1v1h-1zM10 42h30v1h-30zM8 43h1v1h-1zM10 43h30v1h-30zM10 44h30v1h-30zM7 45h2v1h-2zM10 45h30v1h-30zM7 46h1v1h-1zM10 46h30v1h-30zM8 47h1v1h-1zM10 47h30v1h-30zM7 48h1v1h-1zM9 48h31v1h-31zM10 49h30v1h-30zM10 50h30v1h-30zM11 51h29v1h-29zM10 52h30v1h-30zM9 53h29v1h-29zM9 54h31v1h-31zM10 55h30v1h-30zM10 56h30v1h-30zM10 57h28v1h-28zM11 58h28v1h-28zM11 59h26v1h-26zM39 59h1v1h-1zM9 60h30v1h-30zM11 61h27v1h-27zM9 62h30v1h-30zM7 63h1v1h-1zM10 63h27v1h-27zM10 64h28v1h-28zM39 64h1v1h-1zM7 65h1v1h-1zM10 65h27v1h-27zM39 65h1v1h-1zM10 66h27v1h-27zM11 67h26v1h-26zM38 67h1v1h-1zM10 68h26v1h-26zM37 68h1v1h-1zM9 69h27v1h-27zM37 69h1v1h-1zM10 70h27v1h-27zM8 71h1v1h-1zM10 71h26v1h-26zM11 72h24v1h-24zM38 72h1v1h-1zM7 73h1v1h-1zM9 73h26v1h-26zM36 73h1v1h-1zM39 73h1v1h-1zM12 74h25v1h-25zM9 75h1v1h-1zM11 75h24v1h-24zM37 75h2v1h-2zM8 76h1v1h-1zM10 76h26v1h-26zM12 77h24v1h-24zM37 77h1v1h-1zM12 78h24v1h-24zM39 78h1v1h-1zM11 79h23v1h-23zM35 79h1v1h-1zM38 79h1v1h-1zM9 80h1v1h-1zM11 80h24v1h-24zM11 81h23v1h-23zM37 81h1v1h-1zM39 81h1v1h-1zM9 82h25v1h-25zM38 82h2v1h-2zM11 83h24v1h-24zM37 83h1v1h-1zM10 84h23v1h-23zM39 84h1v1h-1zM8 85h1v1h-1zM10 85h22v1h-22zM38 85h1v1h-1zM11 86h23v1h-23zM35 86h1v1h-1zM37 86h2v1h-2zM10 87h22v1h-22zM33 87h1v1h-1zM35 87h1v1h-1zM11 88h21v1h-21zM33 88h2v1h-2zM38 88h1v1h-1zM11 89h22v1h-22zM12 90h22v1h-22zM38 90h1v1h-1zM11 91h22v1h-22zM35 91h3v1h-3zM10 92h21v1h-21zM33 92h1v1h-1zM38 92h1v1h-1zM10 93h22v1h-22zM34 93h3v1h-3zM10 94h1v1h-1zM12 94h20v1h-20zM33 94h1v1h-1zM39 94h1v1h-1zM10 95h21v1h-21zM32 95h1v1h-1zM34 95h1v1h-1zM10 96h23v1h-23zM34 96h1v1h-1zM11 97h21v1h-21zM11 98h20v1h-20zM32 98h1v1h-1zM35 98h3v1h-3zM8 99h1v1h-1zM11 99h21v1h-21zM33 99h1v1h-1zM37 99h1v1h-1zM12 100h22v1h-22zM35 100h2v1h-2zM9 101h1v1h-1zM12 101h21v1h-21zM36 101h2v1h-2zM9 102h1v1h-1zM13 102h19v1h-19zM33 102h1v1h-1zM37 102h2v1h-2zM10 103h1v1h-1zM12 103h23v1h-23zM40 103h1v1h-1zM11 104h22v1h-22zM9 105h1v1h-1zM12 105h22v1h-22zM35 105h1v1h-1zM37 105h1v1h-1zM10 106h1v1h-1zM12 106h20v1h-20zM38 106h1v1h-1zM10 107h1v1h-1zM12 107h20v1h-20zM34 107h1v1h-1zM38 107h1v1h-1zM9 108h1v1h-1zM12 108h20v1h-20zM33 108h2v1h-2zM37 108h1v1h-1zM8 109h1v1h-1zM11 109h22v1h-22zM11 110h21v1h-21zM36 110h2v1h-2zM9 111h1v1h-1zM12 111h22v1h-22zM36 111h1v1h-1zM12 112h20v1h-20zM33 112h1v1h-1zM35 112h2v1h-2zM10 113h22v1h-22zM35 113h1v1h-1zM10 114h1v1h-1zM12 114h20v1h-20zM33 114h2v1h-2zM38 114h1v1h-1zM10 115h1v1h-1zM12 115h22v1h-22zM36 115h1v1h-1zM12 116h22v1h-22zM35 116h2v1h-2zM9 117h1v1h-1zM12 117h21v1h-21zM36 117h1v1h-1zM38 117h1v1h-1zM10 118h23v1h-23zM34 118h1v1h-1zM37 118h1v1h-1zM12 119h22v1h-22zM11 120h23v1h-23zM38 120h1v1h-1zM40 120h1v1h-1zM9 121h1v1h-1zM12 121h23v1h-23zM36 121h1v1h-1zM9 122h1v1h-1zM11 122h22v1h-22zM34 122h1v1h-1zM9 123h1v1h-1zM11 123h23v1h-23zM35 123h2v1h-2zM9 124h1v1h-1zM12 124h23v1h-23zM39 124h1v1h-1zM12 125h22v1h-22zM36 125h2v1h-2zM12 126h22v1h-22zM40 126h1v1h-1zM12 127h21v1h-21zM35 127h1v1h-1zM38 127h1v1h-1z" fill="#9a9a9a"/>
<path d="M97 0h3v1h-3zM102 0h2v1h-2zM107 0h1v1h-1zM62 1h1v1h-1zM87 1h1v1h-1zM91 1h1v1h-1zM94 1h1v1h-1zM99 1h1v1h-1zM101 1h1v1h-1zM105 1h1v1h-1zM110 1h1v1h-1zM115 1h1v1h-1zM88 2h1v1h-1zM90 2h1v1h-1zM92 2h4v1h-4zM97 2h1v1h-1zM102 2h2v1h-2zM105 2h4v1h-4zM113 2h1v1h-1zM50 3h1v1h-1zM74 3h1v1h-1zM76 3h1v1h-1zM89 3h1v1h-1zM91 3h1v1h-1zM96 3h7v1h-7zM104 3h2v1h-2zM107 3h1v1h-1zM109 3h1v1h-1zM123 3h1v1h-1zM70 4h1v1h-1zM77 4h1v1h-1zM79 4h1v1h-1zM89 4h2v1h-2zM93 4h3v1h-3zM97 4h1v1h-1zM99 4h2v1h-2zM102 4h2v1h-2zM109 4h2v1h-2zM43 5h1v1h-1zM63 5h1v1h-1zM72 5h1v1h-1zM74 5h1v1h-1zM92 5h7v1h-7zM100 5h6v1h-6zM108 5h4v1h-4zM42 6h1v1h-1zM53 6h1v1h-1zM56 6h1v1h-1zM64 6h1v1h-1zM92 6h5v1h-5zM98 6h11v1h-11zM46 7h1v1h-1zM63 7h1v1h-1zM86 7h2v1h-2zM90 7h19v1h-19zM41 8h2v1h-2zM52 8h1v1h-1zM77 8h1v1h-1zM84 8h1v1h-1zM88 8h1v1h-1zM90 8h1v1h-1zM92 8h3v1h-3zM97 8h11v1h-11zM109 8h1v1h-1zM115 8h1v1h-1zM40 9h4v1h-4zM47 9h1v1h-1zM60 9h1v1h-1zM69 9h1v1h-1zM71 9h1v1h-1zM88 9h1v1h-1zM91 9h4v1h-4zM97 9h13v1h-13zM40 10h4v1h-4zM45 10h1v1h-1zM78 10h1v1h-1zM87 10h1v1h-1zM91 10h16v1h-16zM108 10h1v1h-1zM117 10h1v1h-1zM40 11h6v1h-6zM50 11h2v1h-2zM55 11h1v1h-1zM63 11h2v1h-2zM67 11h1v1h-1zM87 11h1v1h-1zM90 11h8v1h-8zM100 11h6v1h-6zM107 11h2v1h-2zM111 11h1v1h-1zM40 12h5v1h-5zM47 12h3v1h-3zM52 12h3v1h-3zM56 12h1v1h-1zM59 12h3v1h-3zM63 12h1v1h-1zM66 12h1v1h-1zM72 12h1v1h-1zM78 12h1v1h-1zM91 12h6v1h-6zM103 12h8v1h-8zM122 12h1v1h-1zM40 13h6v1h-6zM47 13h3v1h-3zM51 13h3v1h-3zM55 13h1v1h-1zM58 13h2v1h-2zM68 13h1v1h-1zM70 13h1v1h-1zM75 13h1v1h-1zM77 13h1v1h-1zM82 13h1v1h-1zM89 13h1v1h-1zM91 13h6v1h-6zM103 13h1v1h-1zM106 13h2v1h-2zM40 14h3v1h-3zM46 14h2v1h-2zM55 14h1v1h-1zM57 14h1v1h-1zM59 14h2v1h-2zM63 14h1v1h-1zM67 14h1v1h-1zM69 14h2v1h-2zM85 14h1v1h-1zM88 14h1v1h-1zM91 14h13v1h-13zM106 14h4v1h-4zM40 15h3v1h-3zM45 15h1v1h-1zM50 15h1v1h-1zM55 15h1v1h-1zM57 15h1v1h-1zM59 15h1v1h-1zM61 15h2v1h-2zM65 15h1v1h-1zM67 15h1v1h-1zM71 15h1v1h-1zM74 15h1v1h-1zM76 15h4v1h-4zM89 15h2v1h-2zM92 15h16v1h-16zM109 15h2v1h-2zM40 16h7v1h-7zM48 16h2v1h-2zM55 16h1v1h-1zM57 16h1v1h-1zM61 16h1v1h-1zM64 16h2v1h-2zM68 16h1v1h-1zM72 16h1v1h-1zM74 16h3v1h-3zM88 16h2v1h-2zM92 16h1v1h-1zM95 16h1v1h-1zM97 16h4v1h-4zM103 16h3v1h-3zM107 16h2v1h-2zM112 16h1v1h-1zM114 16h1v1h-1zM40 17h2v1h-2zM43 17h2v1h-2zM46 17h1v1h-1zM48 17h1v1h-1zM52 17h1v1h-1zM55 17h2v1h-2zM70 17h2v1h-2zM75 17h1v1h-1zM78 17h2v1h-2zM81 17h1v1h-1zM95 17h4v1h-4zM103 17h5v1h-5zM109 17h1v1h-1zM40 18h6v1h-6zM47 18h1v1h-1zM49 18h4v1h-4zM54 18h1v1h-1zM56 18h2v1h-2zM60 18h1v1h-1zM66 18h3v1h-3zM72 18h2v1h-2zM76 18h2v1h-2zM94 18h5v1h-5zM101 18h2v1h-2zM106 18h1v1h-1zM109 18h3v1h-3zM40 19h4v1h-4zM45 19h5v1h-5zM51 19h5v1h-5zM59 19h1v1h-1zM62 19h1v1h-1zM64 19h5v1h-5zM72 19h4v1h-4zM78 19h1v1h-1zM86 19h1v1h-1zM93 19h6v1h-6zM101 19h1v1h-1zM106 19h2v1h-2zM109 19h1v1h-1zM40 20h6v1h-6zM53 20h4v1h-4zM58 20h3v1h-3zM62 20h1v1h-1zM64 20h1v1h-1zM66 20h1v1h-1zM69 20h2v1h-2zM72 20h1v1h-1zM74 20h1v1h-1zM84 20h1v1h-1zM88 20h3v1h-3zM94 20h5v1h-5zM102 20h2v1h-2zM107 20h1v1h-1zM117 20h1v1h-1zM123 20h1v1h-1zM40 21h1v1h-1zM42 21h3v1h-3zM46 21h1v1h-1zM49 21h2v1h-2zM53 21h1v1h-1zM55 21h3v1h-3zM61 21h1v1h-1zM64 21h1v1h-1zM71 21h2v1h-2zM75 21h2v1h-2zM79 21h1v1h-1zM83 21h1v1h-1zM91 21h8v1h-8zM102 21h6v1h-6zM109 21h1v1h-1zM112 21h1v1h-1zM40 22h8v1h-8zM55 22h1v1h-1zM57 22h1v1h-1zM64 22h3v1h-3zM71 22h1v1h-1zM74 22h3v1h-3zM87 22h1v1h-1zM90 22h9v1h-9zM101 22h7v1h-7zM40 23h4v1h-4zM46 23h1v1h-1zM48 23h2v1h-2zM51 23h5v1h-5zM57 23h3v1h-3zM61 23h3v1h-3zM65 23h3v1h-3zM69 23h2v1h-2zM73 23h1v1h-1zM80 23h2v1h-2zM89 23h1v1h-1zM91 23h2v1h-2zM94 23h2v1h-2zM98 23h1v1h-1zM101 23h1v1h-1zM104 23h5v1h-5zM40 24h4v1h-4zM48 24h5v1h-5zM54 24h1v1h-1zM57 24h3v1h-3zM61 24h3v1h-3zM65 24h1v1h-1zM67 24h1v1h-1zM69 24h1v1h-1zM72 24h1v1h-1zM76 24h1v1h-1zM82 24h1v1h-1zM86 24h2v1h-2zM91 24h3v1h-3zM95 24h1v1h-1zM98 24h1v1h-1zM101 24h1v1h-1zM104 24h4v1h-4zM40 25h10v1h-10zM51 25h6v1h-6zM58 25h6v1h-6zM65 25h2v1h-2zM69 25h1v1h-1zM71 25h1v1h-1zM75 25h4v1h-4zM80 25h2v1h-2zM86 25h2v1h-2zM90 25h1v1h-1zM92 25h6v1h-6zM100 25h7v1h-7zM108 25h2v1h-2zM113 25h1v1h-1zM40 26h16v1h-16zM57 26h1v1h-1zM59 26h4v1h-4zM64 26h1v1h-1zM72 26h4v1h-4zM89 26h1v1h-1zM92 26h1v1h-1zM95 26h3v1h-3zM100 26h5v1h-5zM108 26h1v1h-1zM113 26h1v1h-1zM40 27h4v1h-4zM45 27h4v1h-4zM50 27h1v1h-1zM52 27h12v1h-12zM68 27h5v1h-5zM75 27h2v1h-2zM79 27h1v1h-1zM85 27h1v1h-1zM91 27h2v1h-2zM95 27h10v1h-10zM108 27h1v1h-1zM40 28h8v1h-8zM49 28h5v1h-5zM55 28h7v1h-7zM64 28h2v1h-2zM68 28h2v1h-2zM71 28h2v1h-2zM74 28h2v1h-2zM80 28h1v1h-1zM82 28h1v1h-1zM90 28h1v1h-1zM92 28h11v1h-11zM107 28h2v1h-2zM123 28h1v1h-1zM40 29h5v1h-5zM46 29h5v1h-5zM53 29h6v1h-6zM60 29h2v1h-2zM63 29h1v1h-1zM66 29h4v1h-4zM78 29h2v1h-2zM83 29h1v1h-1zM90 29h1v1h-1zM92 29h10v1h-10zM105 29h3v1h-3zM40 30h2v1h-2zM43 30h1v1h-1zM46 30h1v1h-1zM48 30h2v1h-2zM51 30h1v1h-1zM53 30h1v1h-1zM55 30h5v1h-5zM61 30h2v1h-2zM64 30h1v1h-1zM67 30h3v1h-3zM73 30h1v1h-1zM75 30h1v1h-1zM77 30h3v1h-3zM86 30h1v1h-1zM88 30h1v1h-1zM91 30h11v1h-11zM104 30h3v1h-3zM108 30h1v1h-1zM40 31h4v1h-4zM47 31h2v1h-2zM50 31h2v1h-2zM53 31h4v1h-4zM58 31h4v1h-4zM63 31h1v1h-1zM66 31h3v1h-3zM74 31h1v1h-1zM78 31h1v1h-1zM88 31h1v1h-1zM91 31h2v1h-2zM94 31h7v1h-7zM105 31h3v1h-3zM110 31h1v1h-1zM40 32h4v1h-4zM45 32h8v1h-8zM54 32h3v1h-3zM59 32h3v1h-3zM63 32h2v1h-2zM66 32h6v1h-6zM73 32h1v1h-1zM75 32h4v1h-4zM80 32h1v1h-1zM90 32h3v1h-3zM95 32h3v1h-3zM100 32h1v1h-1zM105 32h3v1h-3zM109 32h1v1h-1zM123 32h1v1h-1zM40 33h3v1h-3zM44 33h16v1h-16zM62 33h6v1h-6zM70 33h1v1h-1zM72 33h2v1h-2zM75 33h2v1h-2zM78 33h1v1h-1zM84 33h1v1h-1zM89 33h1v1h-1zM92 33h1v1h-1zM95 33h3v1h-3zM100 33h8v1h-8zM40 34h7v1h-7zM48 34h6v1h-6zM55 34h2v1h-2zM59 34h1v1h-1zM61 34h5v1h-5zM67 34h1v1h-1zM71 34h1v1h-1zM74 34h7v1h-7zM92 34h17v1h-17zM111 34h1v1h-1zM120 34h1v1h-1zM40 35h9v1h-9zM50 35h1v1h-1zM52 35h3v1h-3zM56 35h7v1h-7zM64 35h1v1h-1zM68 35h4v1h-4zM73 35h1v1h-1zM77 35h3v1h-3zM90 35h1v1h-1zM92 35h3v1h-3zM96 35h11v1h-11zM108 35h1v1h-1zM128 35h1v1h-1zM40 36h20v1h-20zM61 36h1v1h-1zM67 36h2v1h-2zM70 36h1v1h-1zM74 36h1v1h-1zM77 36h4v1h-4zM84 36h1v1h-1zM89 36h1v1h-1zM92 36h6v1h-6zM100 36h7v1h-7zM115 36h1v1h-1zM129 36h1v1h-1zM40 37h1v1h-1zM42 37h6v1h-6zM49 37h6v1h-6zM56 37h3v1h-3zM66 37h4v1h-4zM71 37h1v1h-1zM75 37h1v1h-1zM79 37h2v1h-2zM83 37h1v1h-1zM85 37h1v1h-1zM87 37h4v1h-4zM92 37h6v1h-6zM100 37h5v1h-5zM106 37h2v1h-2zM40 38h16v1h-16zM57 38h1v1h-1zM60 38h3v1h-3zM64 38h6v1h-6zM71 38h2v1h-2zM75 38h1v1h-1zM82 38h1v1h-1zM87 38h1v1h-1zM90 38h1v1h-1zM92 38h9v1h-9zM103 38h1v1h-1zM106 38h4v1h-4zM41 39h15v1h-15zM57 39h1v1h-1zM60 39h4v1h-4zM65 39h2v1h-2zM68 39h6v1h-6zM75 39h2v1h-2zM92 39h1v1h-1zM95 39h1v1h-1zM99 39h2v1h-2zM103 39h1v1h-1zM106 39h2v1h-2zM109 39h2v1h-2zM40 40h8v1h-8zM49 40h3v1h-3zM53 40h2v1h-2zM57 40h1v1h-1zM59 40h3v1h-3zM63 40h5v1h-5zM70 40h2v1h-2zM74 40h4v1h-4zM80 40h1v1h-1zM86 40h2v1h-2zM95 40h1v1h-1zM99 40h4v1h-4zM105 40h4v1h-4zM110 40h1v1h-1zM40 41h6v1h-6zM47 41h1v1h-1zM53 41h5v1h-5zM59 41h2v1h-2zM62 41h1v1h-1zM64 41h3v1h-3zM68 41h5v1h-5zM75 41h4v1h-4zM94 41h2v1h-2zM98 41h5v1h-5zM105 41h3v1h-3zM109 41h1v1h-1zM113 41h1v1h-1zM127 41h1v1h-1zM129 41h1v1h-1zM40 42h5v1h-5zM46 42h5v1h-5zM52 42h6v1h-6zM60 42h1v1h-1zM62 42h2v1h-2zM65 42h9v1h-9zM76 42h5v1h-5zM87 42h1v1h-1zM90 42h1v1h-1zM93 42h2v1h-2zM98 42h4v1h-4zM105 42h2v1h-2zM109 42h1v1h-1zM40 43h7v1h-7zM48 43h1v1h-1zM50 43h5v1h-5zM56 43h6v1h-6zM65 43h6v1h-6zM72 43h4v1h-4zM78 43h1v1h-1zM81 43h1v1h-1zM92 43h3v1h-3zM98 43h4v1h-4zM105 43h2v1h-2zM40 44h8v1h-8zM49 44h3v1h-3zM53 44h8v1h-8zM62 44h1v1h-1zM64 44h7v1h-7zM73 44h6v1h-6zM85 44h2v1h-2zM90 44h1v1h-1zM93 44h1v1h-1zM95 44h14v1h-14zM40 45h11v1h-11zM52 45h3v1h-3zM56 45h4v1h-4zM61 45h2v1h-2zM64 45h3v1h-3zM72 45h2v1h-2zM75 45h2v1h-2zM78 45h2v1h-2zM88 45h1v1h-1zM91 45h7v1h-7zM99 45h8v1h-8zM108 45h1v1h-1zM110 45h1v1h-1zM40 46h4v1h-4zM46 46h5v1h-5zM52 46h3v1h-3zM57 46h3v1h-3zM61 46h1v1h-1zM65 46h2v1h-2zM70 46h1v1h-1zM72 46h1v1h-1zM75 46h2v1h-2zM78 46h1v1h-1zM80 46h1v1h-1zM87 46h2v1h-2zM93 46h2v1h-2zM96 46h6v1h-6zM104 46h5v1h-5zM40 47h4v1h-4zM46 47h2v1h-2zM50 47h5v1h-5zM57 47h1v1h-1zM60 47h1v1h-1zM62 47h1v1h-1zM66 47h1v1h-1zM71 47h1v1h-1zM73 47h1v1h-1zM75 47h3v1h-3zM80 47h1v1h-1zM85 47h1v1h-1zM89 47h1v1h-1zM93 47h5v1h-5zM100 47h2v1h-2zM104 47h5v1h-5zM110 47h1v1h-1zM40 48h4v1h-4zM46 48h2v1h-2zM49 48h6v1h-6zM56 48h1v1h-1zM59 48h2v1h-2zM62 48h3v1h-3zM67 48h2v1h-2zM71 48h2v1h-2zM74 48h3v1h-3zM78 48h1v1h-1zM82 48h1v1h-1zM92 48h3v1h-3zM100 48h1v1h-1zM103 48h4v1h-4zM108 48h1v1h-1zM111 48h1v1h-1zM115 48h1v1h-1zM40 49h10v1h-10zM51 49h1v1h-1zM54 49h1v1h-1zM56 49h1v1h-1zM58 49h1v1h-1zM60 49h2v1h-2zM63 49h2v1h-2zM66 49h5v1h-5zM72 49h1v1h-1zM76 49h1v1h-1zM81 49h1v1h-1zM88 49h2v1h-2zM92 49h3v1h-3zM98 49h3v1h-3zM103 49h6v1h-6zM114 49h1v1h-1zM40 50h4v1h-4zM46 50h2v1h-2zM49 50h3v1h-3zM53 50h2v1h-2zM56 50h1v1h-1zM60 50h1v1h-1zM63 50h1v1h-1zM66 50h1v1h-1zM68 50h1v1h-1zM73 50h1v1h-1zM75 50h1v1h-1zM89 50h1v1h-1zM91 50h2v1h-2zM95 50h2v1h-2zM99 50h10v1h-10zM115 50h1v1h-1zM125 50h1v1h-1zM41 51h3v1h-3zM47 51h2v1h-2zM50 51h2v1h-2zM55 51h3v1h-3zM63 51h1v1h-1zM65 51h1v1h-1zM71 51h1v1h-1zM76 51h1v1h-1zM78 51h1v1h-1zM90 51h1v1h-1zM95 51h2v1h-2zM99 51h10v1h-10zM40 52h6v1h-6zM47 52h3v1h-3zM51 52h2v1h-2zM56 52h1v1h-1zM60 52h1v1h-1zM62 52h2v1h-2zM65 52h1v1h-1zM67 52h2v1h-2zM70 52h2v1h-2zM75 52h5v1h-5zM92 52h15v1h-15zM108 52h1v1h-1zM120 52h1v1h-1zM40 53h8v1h-8zM49 53h2v1h-2zM52 53h1v1h-1zM62 53h1v1h-1zM64 53h1v1h-1zM68 53h1v1h-1zM74 53h1v1h-1zM76 53h1v1h-1zM84 53h1v1h-1zM86 53h1v1h-1zM90 53h1v1h-1zM92 53h7v1h-7zM101 53h1v1h-1zM104 53h5v1h-5zM110 53h1v1h-1zM127 53h1v1h-1zM41 54h3v1h-3zM45 54h1v1h-1zM47 54h3v1h-3zM52 54h1v1h-1zM67 54h1v1h-1zM72 54h2v1h-2zM79 54h1v1h-1zM83 54h1v1h-1zM94 54h1v1h-1zM98 54h1v1h-1zM104 54h5v1h-5zM113 54h1v1h-1zM40 55h4v1h-4zM45 55h2v1h-2zM52 55h2v1h-2zM58 55h2v1h-2zM65 55h2v1h-2zM76 55h1v1h-1zM91 55h4v1h-4zM100 55h1v1h-1zM103 55h7v1h-7zM40 56h7v1h-7zM48 56h1v1h-1zM50 56h1v1h-1zM56 56h2v1h-2zM61 56h1v1h-1zM75 56h1v1h-1zM92 56h5v1h-5zM100 56h1v1h-1zM103 56h4v1h-4zM108 56h1v1h-1zM110 56h1v1h-1zM40 57h4v1h-4zM45 57h1v1h-1zM48 57h2v1h-2zM63 57h1v1h-1zM72 57h1v1h-1zM75 57h2v1h-2zM88 57h1v1h-1zM91 57h4v1h-4zM97 57h11v1h-11zM40 58h8v1h-8zM54 58h1v1h-1zM63 58h1v1h-1zM67 58h1v1h-1zM73 58h1v1h-1zM86 58h1v1h-1zM88 58h1v1h-1zM90 58h5v1h-5zM97 58h2v1h-2zM102 58h7v1h-7zM110 58h2v1h-2zM115 58h1v1h-1zM40 59h5v1h-5zM46 59h3v1h-3zM53 59h2v1h-2zM74 59h1v1h-1zM92 59h7v1h-7zM104 59h6v1h-6zM111 59h1v1h-1zM41 60h5v1h-5zM48 60h1v1h-1zM76 60h1v1h-1zM90 60h1v1h-1zM93 60h2v1h-2zM100 60h2v1h-2zM104 60h4v1h-4zM111 60h1v1h-1zM121 60h1v1h-1zM40 61h4v1h-4zM45 61h1v1h-1zM48 61h1v1h-1zM63 61h1v1h-1zM93 61h2v1h-2zM100 61h1v1h-1zM103 61h4v1h-4zM108 61h1v1h-1zM40 62h4v1h-4zM47 62h2v1h-2zM74 62h1v1h-1zM76 62h1v1h-1zM80 62h1v1h-1zM93 62h2v1h-2zM99 62h2v1h-2zM103 62h6v1h-6zM116 62h1v1h-1zM40 63h2v1h-2zM44 63h3v1h-3zM52 63h1v1h-1zM94 63h3v1h-3zM100 63h6v1h-6zM107 63h2v1h-2zM41 64h1v1h-1zM83 64h1v1h-1zM94 64h1v1h-1zM96 64h2v1h-2zM100 64h9v1h-9zM40 65h2v1h-2zM52 65h1v1h-1zM93 65h2v1h-2zM97 65h10v1h-10zM40 66h1v1h-1zM90 66h1v1h-1zM93 66h1v1h-1zM97 66h11v1h-11zM114 66h1v1h-1zM40 67h1v1h-1zM73 67h1v1h-1zM91 67h3v1h-3zM96 67h1v1h-1zM103 67h1v1h-1zM106 67h3v1h-3zM110 67h1v1h-1zM40 68h3v1h-3zM73 68h1v1h-1zM103 68h1v1h-1zM106 68h2v1h-2zM40 69h1v1h-1zM98 69h3v1h-3zM103 69h1v1h-1zM105 69h4v1h-4zM110 69h1v1h-1zM40 70h1v1h-1zM94 70h1v1h-1zM102 70h5v1h-5zM113 70h1v1h-1zM41 71h1v1h-1zM46 71h1v1h-1zM94 71h1v1h-1zM103 71h3v1h-3zM112 71h1v1h-1zM123 71h1v1h-1zM40 72h1v1h-1zM101 72h7v1h-7zM40 73h1v1h-1zM46 73h2v1h-2zM97 73h1v1h-1zM101 73h4v1h-4zM107 73h1v1h-1zM40 74h2v1h-2zM97 74h1v1h-1zM101 74h7v1h-7zM109 74h2v1h-2zM40 75h2v1h-2zM98 75h1v1h-1zM103 75h2v1h-2zM106 75h3v1h-3zM110 75h1v1h-1zM114 75h1v1h-1zM40 76h2v1h-2zM103 76h5v1h-5zM40 77h2v1h-2zM100 77h2v1h-2zM104 77h1v1h-1zM106 77h1v1h-1zM108 77h1v1h-1zM111 77h1v1h-1zM40 78h2v1h-2zM100 78h2v1h-2zM109 78h1v1h-1zM123 78h1v1h-1zM40 79h2v1h-2zM96 79h1v1h-1zM103 79h1v1h-1zM108 79h1v1h-1zM40 80h2v1h-2zM96 80h1v1h-1zM105 80h1v1h-1zM100 81h2v1h-2zM105 81h1v1h-1zM107 81h1v1h-1zM101 82h2v1h-2zM105 82h1v1h-1zM106 84h1v1h-1zM109 84h1v1h-1zM109 85h1v1h-1zM104 86h1v1h-1zM110 86h1v1h-1zM106 87h1v1h-1zM110 87h1v1h-1zM108 89h1v1h-1zM110 89h1v1h-1zM107 90h3v1h-3zM104 91h1v1h-1zM107 91h1v1h-1zM109 91h1v1h-1zM107 92h1v1h-1zM106 93h1v1h-1zM110 93h1v1h-1zM111 95h1v1h-1zM107 97h2v1h-2zM107 98h1v1h-1zM108 100h1v1h-1zM107 101h1v1h-1zM109 101h1v1h-1zM117 103h1v1h-1zM108 104h1v1h-1zM116 104h1v1h-1zM111 105h1v1h-1zM105 106h1v1h-1zM108 106h1v1h-1zM106 107h1v1h-1zM109 108h1v1h-1zM109 110h1v1h-1zM108 111h1v1h-1zM110 111h1v1h-1zM108 112h2v1h-2zM105 113h1v1h-1zM108 114h1v1h-1zM113 115h1v1h-1zM105 117h4v1h-4zM116 117h1v1h-1zM112 118h1v1h-1zM78 119h1v1h-1zM103 119h1v1h-1zM103 120h6v1h-6zM84 121h1v1h-1zM101 121h9v1h-9zM79 122h1v1h-1zM83 122h6v1h-6zM96 122h2v1h-2zM100 122h3v1h-3zM104 122h4v1h-4zM83 123h3v1h-3zM87 123h1v1h-1zM89 123h1v1h-1zM91 123h1v1h-1zM93 123h1v1h-1zM95 123h2v1h-2zM98 123h3v1h-3zM103 123h2v1h-2zM85 124h2v1h-2zM88 124h2v1h-2zM92 124h2v1h-2zM96 124h6v1h-6zM103 124h1v1h-1zM89 125h2v1h-2zM93 125h1v1h-1zM95 125h4v1h-4zM101 125h1v1h-1zM92 126h1v1h-1zM96 126h1v1h-1zM98 126h1v1h-1zM97 127h1v1h-1zM99 127h1v1h-1zM87 128h1v1h-1zM94 128h1v1h-1z" fill="#ff00ff"/>
<path d="M95 8h2v1h-2zM95 9h2v1h-2zM98 11h2v1h-2zM99 12h4v1h-4zM99 13h4v1h-4zM43 14h2v1h-2zM48 14h2v1h-2zM51 14h2v1h-2zM43 15h2v1h-2zM48 15h2v1h-2zM51 15h2v1h-2zM59 16h2v1h-2zM84 16h2v1h-2zM101 16h2v1h-2zM59 17h2v1h-2zM62 17h2v1h-2zM84 17h2v1h-2zM99 17h4v1h-4zM62 18h2v1h-2zM99 18h2v1h-2zM105 18h1v1h-1zM99 19h2v1h-2zM47 20h2v1h-2zM51 20h2v1h-2zM99 20h2v1h-2zM47 21h2v1h-2zM51 21h2v1h-2zM99 21h2v1h-2zM77 22h2v1h-2zM99 22h2v1h-2zM44 23h2v1h-2zM77 23h2v1h-2zM96 23h2v1h-2zM44 24h2v1h-2zM73 24h2v1h-2zM96 24h2v1h-2zM67 25h2v1h-2zM73 25h2v1h-2zM98 25h2v1h-2zM67 26h2v1h-2zM98 26h2v1h-2zM106 26h2v1h-2zM105 27h3v1h-3zM103 28h4v1h-4zM104 29h1v1h-1zM44 30h2v1h-2zM71 30h2v1h-2zM44 31h2v1h-2zM71 31h2v1h-2zM98 32h2v1h-2zM68 33h2v1h-2zM98 33h2v1h-2zM68 34h2v1h-2zM65 35h2v1h-2zM62 36h2v1h-2zM65 36h2v1h-2zM98 36h2v1h-2zM62 37h2v1h-2zM76 37h2v1h-2zM98 37h2v1h-2zM76 38h4v1h-4zM101 38h2v1h-2zM104 38h2v1h-2zM78 39h2v1h-2zM93 39h2v1h-2zM101 39h2v1h-2zM104 39h2v1h-2zM90 40h2v1h-2zM93 40h2v1h-2zM90 41h2v1h-2zM95 42h1v1h-1zM103 42h2v1h-2zM107 42h2v1h-2zM83 43h2v1h-2zM95 43h3v1h-3zM103 43h2v1h-2zM107 43h2v1h-2zM80 44h2v1h-2zM83 44h2v1h-2zM68 45h2v1h-2zM80 45h2v1h-2zM44 46h2v1h-2zM68 46h2v1h-2zM91 46h2v1h-2zM44 47h2v1h-2zM69 47h2v1h-2zM91 47h2v1h-2zM69 48h2v1h-2zM101 48h2v1h-2zM85 49h2v1h-2zM101 49h2v1h-2zM44 50h2v1h-2zM58 50h2v1h-2zM61 50h2v1h-2zM85 50h2v1h-2zM93 50h2v1h-2zM44 51h2v1h-2zM53 51h2v1h-2zM58 51h2v1h-2zM61 51h2v1h-2zM73 51h2v1h-2zM80 51h2v1h-2zM93 51h2v1h-2zM53 52h2v1h-2zM72 52h3v1h-3zM80 52h3v1h-3zM53 53h3v1h-3zM57 53h4v1h-4zM65 53h2v1h-2zM72 53h2v1h-2zM80 53h3v1h-3zM87 53h2v1h-2zM99 53h2v1h-2zM102 53h2v1h-2zM50 54h2v1h-2zM53 54h9v1h-9zM63 54h4v1h-4zM68 54h4v1h-4zM87 54h2v1h-2zM97 54h1v1h-1zM99 54h5v1h-5zM50 55h2v1h-2zM54 55h4v1h-4zM60 55h5v1h-5zM68 55h4v1h-4zM77 55h1v1h-1zM97 55h1v1h-1zM101 55h2v1h-2zM52 56h4v1h-4zM62 56h6v1h-6zM77 56h1v1h-1zM84 56h2v1h-2zM97 56h1v1h-1zM101 56h2v1h-2zM51 57h3v1h-3zM55 57h3v1h-3zM64 57h4v1h-4zM69 57h3v1h-3zM77 57h2v1h-2zM84 57h2v1h-2zM95 57h2v1h-2zM49 58h4v1h-4zM55 58h4v1h-4zM60 58h3v1h-3zM64 58h3v1h-3zM69 58h3v1h-3zM77 58h2v1h-2zM80 58h2v1h-2zM95 58h2v1h-2zM100 58h2v1h-2zM49 59h4v1h-4zM55 59h8v1h-8zM64 59h3v1h-3zM69 59h3v1h-3zM80 59h2v1h-2zM100 59h2v1h-2zM49 60h8v1h-8zM58 60h2v1h-2zM61 60h2v1h-2zM64 60h4v1h-4zM70 60h4v1h-4zM49 61h11v1h-11zM61 61h2v1h-2zM64 61h4v1h-4zM69 61h2v1h-2zM72 61h2v1h-2zM101 61h2v1h-2zM50 62h2v1h-2zM53 62h18v1h-18zM72 62h1v1h-1zM101 62h2v1h-2zM42 63h2v1h-2zM47 63h5v1h-5zM53 63h20v1h-20zM98 63h2v1h-2zM42 64h4v1h-4zM47 64h4v1h-4zM53 64h14v1h-14zM68 64h5v1h-5zM98 64h2v1h-2zM42 65h10v1h-10zM53 65h21v1h-21zM41 66h11v1h-11zM54 66h20v1h-20zM81 66h1v1h-1zM41 67h11v1h-11zM55 67h18v1h-18zM76 67h2v1h-2zM81 67h1v1h-1zM101 67h2v1h-2zM43 68h11v1h-11zM55 68h3v1h-3zM59 68h14v1h-14zM101 68h2v1h-2zM41 69h14v1h-14zM57 69h2v1h-2zM61 69h10v1h-10zM73 69h1v1h-1zM41 70h15v1h-15zM57 70h2v1h-2zM60 70h11v1h-11zM73 70h4v1h-4zM42 71h4v1h-4zM47 71h18v1h-18zM66 71h3v1h-3zM73 71h1v1h-1zM75 71h2v1h-2zM41 72h5v1h-5zM47 72h18v1h-18zM66 72h3v1h-3zM41 73h5v1h-5zM48 73h23v1h-23zM75 73h1v1h-1zM99 73h2v1h-2zM42 74h2v1h-2zM45 74h13v1h-13zM60 74h8v1h-8zM69 74h3v1h-3zM73 74h2v1h-2zM78 74h4v1h-4zM99 74h2v1h-2zM42 75h2v1h-2zM45 75h13v1h-13zM60 75h15v1h-15zM79 75h3v1h-3zM101 75h2v1h-2zM42 76h2v1h-2zM45 76h32v1h-32zM101 76h2v1h-2zM42 77h29v1h-29zM75 77h2v1h-2zM81 77h1v1h-1zM42 78h12v1h-12zM55 78h18v1h-18zM75 78h2v1h-2zM82 78h1v1h-1zM42 79h2v1h-2zM46 79h8v1h-8zM56 79h4v1h-4zM62 79h2v1h-2zM66 79h8v1h-8zM77 79h2v1h-2zM42 80h18v1h-18zM62 80h3v1h-3zM66 80h2v1h-2zM69 80h2v1h-2zM72 80h4v1h-4zM77 80h2v1h-2zM40 81h28v1h-28zM69 81h2v1h-2zM72 81h2v1h-2zM40 82h30v1h-30zM72 82h2v1h-2zM42 83h28v1h-28zM72 83h3v1h-3zM76 83h1v1h-1zM41 84h37v1h-37zM81 84h2v1h-2zM41 85h36v1h-36zM81 85h2v1h-2zM43 86h31v1h-31zM76 86h1v1h-1zM43 87h31v1h-31zM41 88h33v1h-33zM84 88h1v1h-1zM41 89h2v1h-2zM44 89h31v1h-31zM76 89h2v1h-2zM83 89h2v1h-2zM45 90h20v1h-20zM67 90h8v1h-8zM76 90h3v1h-3zM82 90h3v1h-3zM42 91h23v1h-23zM66 91h7v1h-7zM77 91h2v1h-2zM41 92h5v1h-5zM47 92h28v1h-28zM79 92h1v1h-1zM41 93h6v1h-6zM49 93h14v1h-14zM64 93h10v1h-10zM75 93h1v1h-1zM77 93h2v1h-2zM41 94h22v1h-22zM64 94h12v1h-12zM77 94h2v1h-2zM42 95h29v1h-29zM74 95h2v1h-2zM43 96h7v1h-7zM51 96h20v1h-20zM72 96h4v1h-4zM43 97h33v1h-33zM43 98h33v1h-33zM81 98h1v1h-1zM83 98h1v1h-1zM43 99h8v1h-8zM52 99h23v1h-23zM81 99h1v1h-1zM47 100h4v1h-4zM53 100h5v1h-5zM59 100h10v1h-10zM70 100h3v1h-3zM79 100h2v1h-2zM48 101h3v1h-3zM52 101h17v1h-17zM70 101h5v1h-5zM77 101h2v1h-2zM88 101h2v1h-2zM47 102h3v1h-3zM52 102h24v1h-24zM77 102h2v1h-2zM88 102h2v1h-2zM47 103h2v1h-2zM54 103h8v1h-8zM63 103h10v1h-10zM74 103h2v1h-2zM77 103h1v1h-1zM79 103h2v1h-2zM87 103h1v1h-1zM41 104h2v1h-2zM51 104h2v1h-2zM55 104h19v1h-19zM76 104h5v1h-5zM87 104h1v1h-1zM41 105h2v1h-2zM45 105h2v1h-2zM51 105h6v1h-6zM59 105h15v1h-15zM77 105h3v1h-3zM45 106h2v1h-2zM48 106h4v1h-4zM53 106h2v1h-2zM59 106h10v1h-10zM70 106h4v1h-4zM78 106h2v1h-2zM82 106h1v1h-1zM44 107h3v1h-3zM48 107h6v1h-6zM58 107h3v1h-3zM62 107h3v1h-3zM67 107h2v1h-2zM70 107h3v1h-3zM77 107h7v1h-7zM44 108h3v1h-3zM52 108h5v1h-5zM60 108h5v1h-5zM69 108h6v1h-6zM79 108h3v1h-3zM50 109h2v1h-2zM53 109h4v1h-4zM60 109h4v1h-4zM66 109h2v1h-2zM69 109h3v1h-3zM73 109h3v1h-3zM48 110h4v1h-4zM60 110h4v1h-4zM66 110h2v1h-2zM70 110h2v1h-2zM74 110h2v1h-2zM48 111h2v1h-2zM52 111h2v1h-2zM57 111h7v1h-7zM66 111h2v1h-2zM72 111h5v1h-5zM52 112h2v1h-2zM57 112h4v1h-4zM62 112h3v1h-3zM66 112h2v1h-2zM72 112h5v1h-5zM49 113h2v1h-2zM62 113h3v1h-3zM73 113h3v1h-3zM79 113h2v1h-2zM49 114h2v1h-2zM56 114h2v1h-2zM56 115h2v1h-2zM82 115h1v1h-1zM51 116h2v1h-2zM71 116h2v1h-2zM51 117h2v1h-2zM64 117h2v1h-2zM71 117h3v1h-3zM64 118h2v1h-2zM72 118h2v1h-2zM75 118h2v1h-2zM75 119h2v1h-2z" fill="#0060ff"/>
<path d="M97 12h2v1h-2zM97 13h2v1h-2zM104 13h2v1h-2zM104 14h2v1h-2zM93 16h2v1h-2zM93 17h2v1h-2zM91 18h2v1h-2zM103 18h2v1h-2zM91 19h2v1h-2zM103 19h3v1h-3zM101 20h1v1h-1zM104 20h2v1h-2zM101 21h1v1h-1zM99 23h2v1h-2zM102 23h2v1h-2zM99 24h2v1h-2zM102 24h2v1h-2zM93 26h2v1h-2zM93 27h2v1h-2zM102 29h2v1h-2zM102 30h2v1h-2zM101 31h4v1h-4zM93 32h2v1h-2zM101 32h4v1h-4zM93 33h2v1h-2zM80 38h1v1h-1zM80 39h1v1h-1zM96 39h3v1h-3zM88 40h2v1h-2zM92 40h1v1h-1zM96 40h3v1h-3zM103 40h2v1h-2zM88 41h2v1h-2zM92 41h1v1h-1zM96 41h2v1h-2zM103 41h2v1h-2zM88 42h2v1h-2zM91 42h2v1h-2zM96 42h2v1h-2zM102 42h1v1h-1zM88 43h2v1h-2zM102 43h1v1h-1zM102 46h2v1h-2zM98 47h2v1h-2zM102 47h2v1h-2zM95 48h5v1h-5zM77 49h2v1h-2zM95 49h3v1h-3zM77 50h2v1h-2zM87 50h1v1h-1zM97 50h2v1h-2zM86 51h2v1h-2zM97 51h2v1h-2zM95 54h2v1h-2zM72 55h2v1h-2zM78 55h3v1h-3zM88 55h2v1h-2zM95 55h2v1h-2zM98 55h2v1h-2zM72 56h2v1h-2zM78 56h3v1h-3zM88 56h2v1h-2zM98 56h2v1h-2zM99 58h1v1h-1zM99 59h1v1h-1zM102 59h2v1h-2zM82 60h2v1h-2zM91 60h2v1h-2zM95 60h5v1h-5zM102 60h2v1h-2zM71 61h1v1h-1zM82 61h3v1h-3zM89 61h4v1h-4zM95 61h5v1h-5zM71 62h1v1h-1zM81 62h4v1h-4zM89 62h3v1h-3zM95 62h4v1h-4zM77 63h2v1h-2zM81 63h6v1h-6zM88 63h6v1h-6zM97 63h1v1h-1zM73 64h2v1h-2zM76 64h3v1h-3zM81 64h2v1h-2zM84 64h3v1h-3zM88 64h6v1h-6zM74 65h1v1h-1zM76 65h2v1h-2zM81 65h9v1h-9zM91 65h2v1h-2zM95 65h2v1h-2zM52 66h2v1h-2zM76 66h2v1h-2zM80 66h1v1h-1zM82 66h8v1h-8zM91 66h2v1h-2zM94 66h3v1h-3zM52 67h3v1h-3zM74 67h2v1h-2zM80 67h1v1h-1zM82 67h3v1h-3zM86 67h3v1h-3zM94 67h2v1h-2zM97 67h4v1h-4zM104 67h2v1h-2zM54 68h1v1h-1zM74 68h4v1h-4zM83 68h2v1h-2zM86 68h15v1h-15zM104 68h2v1h-2zM55 69h2v1h-2zM59 69h2v1h-2zM71 69h2v1h-2zM74 69h3v1h-3zM78 69h7v1h-7zM86 69h12v1h-12zM101 69h2v1h-2zM56 70h1v1h-1zM59 70h1v1h-1zM71 70h2v1h-2zM77 70h17v1h-17zM95 70h6v1h-6zM107 70h2v1h-2zM65 71h1v1h-1zM69 71h4v1h-4zM74 71h1v1h-1zM77 71h1v1h-1zM81 71h12v1h-12zM95 71h6v1h-6zM107 71h2v1h-2zM65 72h1v1h-1zM69 72h4v1h-4zM74 72h27v1h-27zM71 73h2v1h-2zM76 73h5v1h-5zM82 73h15v1h-15zM98 73h1v1h-1zM58 74h2v1h-2zM75 74h3v1h-3zM82 74h15v1h-15zM98 74h1v1h-1zM58 75h2v1h-2zM75 75h4v1h-4zM82 75h5v1h-5zM88 75h10v1h-10zM99 75h2v1h-2zM77 76h24v1h-24zM71 77h4v1h-4zM78 77h3v1h-3zM82 77h10v1h-10zM93 77h7v1h-7zM102 77h2v1h-2zM54 78h1v1h-1zM73 78h2v1h-2zM77 78h5v1h-5zM83 78h17v1h-17zM102 78h4v1h-4zM54 79h2v1h-2zM60 79h2v1h-2zM64 79h2v1h-2zM74 79h3v1h-3zM79 79h17v1h-17zM97 79h6v1h-6zM104 79h4v1h-4zM60 80h2v1h-2zM65 80h1v1h-1zM68 80h1v1h-1zM71 80h1v1h-1zM76 80h1v1h-1zM79 80h17v1h-17zM97 80h8v1h-8zM106 80h2v1h-2zM68 81h1v1h-1zM71 81h1v1h-1zM74 81h26v1h-26zM102 81h3v1h-3zM70 82h2v1h-2zM74 82h27v1h-27zM103 82h2v1h-2zM106 82h2v1h-2zM70 83h2v1h-2zM75 83h1v1h-1zM77 83h32v1h-32zM78 84h3v1h-3zM83 84h23v1h-23zM107 84h2v1h-2zM77 85h4v1h-4zM83 85h26v1h-26zM74 86h1v1h-1zM77 86h27v1h-27zM105 86h2v1h-2zM74 87h32v1h-32zM74 88h10v1h-10zM85 88h23v1h-23zM75 89h1v1h-1zM78 89h5v1h-5zM85 89h23v1h-23zM65 90h2v1h-2zM75 90h1v1h-1zM79 90h3v1h-3zM85 90h22v1h-22zM65 91h1v1h-1zM73 91h4v1h-4zM79 91h25v1h-25zM105 91h2v1h-2zM75 92h4v1h-4zM80 92h27v1h-27zM63 93h1v1h-1zM76 93h1v1h-1zM79 93h27v1h-27zM107 93h2v1h-2zM63 94h1v1h-1zM76 94h1v1h-1zM79 94h30v1h-30zM71 95h3v1h-3zM76 95h33v1h-33zM71 96h1v1h-1zM76 96h32v1h-32zM76 97h31v1h-31zM76 98h5v1h-5zM82 98h1v1h-1zM84 98h23v1h-23zM75 99h6v1h-6zM82 99h26v1h-26zM74 100h5v1h-5zM81 100h27v1h-27zM69 101h1v1h-1zM75 101h2v1h-2zM81 101h7v1h-7zM90 101h17v1h-17zM76 102h1v1h-1zM79 102h2v1h-2zM82 102h6v1h-6zM90 102h19v1h-19zM76 103h1v1h-1zM78 103h1v1h-1zM81 103h6v1h-6zM88 103h21v1h-21zM81 104h6v1h-6zM88 104h20v1h-20zM80 105h28v1h-28zM55 106h2v1h-2zM77 106h1v1h-1zM80 106h2v1h-2zM83 106h22v1h-22zM106 106h2v1h-2zM55 107h2v1h-2zM65 107h2v1h-2zM75 107h2v1h-2zM84 107h22v1h-22zM58 108h2v1h-2zM65 108h3v1h-3zM75 108h4v1h-4zM82 108h2v1h-2zM85 108h21v1h-21zM58 109h2v1h-2zM77 109h7v1h-7zM85 109h23v1h-23zM78 110h5v1h-5zM84 110h24v1h-24zM78 111h30v1h-30zM81 112h27v1h-27zM76 113h2v1h-2zM81 113h24v1h-24zM106 113h2v1h-2zM73 114h2v1h-2zM76 114h2v1h-2zM79 114h29v1h-29zM73 115h2v1h-2zM79 115h3v1h-3zM83 115h26v1h-26zM81 116h28v1h-28zM74 117h2v1h-2zM81 117h6v1h-6zM88 117h17v1h-17zM74 118h1v1h-1zM81 118h27v1h-27zM82 119h21v1h-21zM104 119h4v1h-4zM78 120h2v1h-2zM81 120h2v1h-2zM84 120h19v1h-19zM78 121h2v1h-2zM81 121h2v1h-2zM85 121h16v1h-16zM89 122h7v1h-7zM98 122h2v1h-2z" fill="#ff0000"/>
</g></g>
<path d="M1040.5 54.2H1050.6V543.9H1593" fill="none" stroke="#f2f2f2" stroke-width="3.2"/>
<path d="M1050.6 69.6H1027.5M1050.6 120.4H1027.5M1050.6 151.8H1027.5M1050.6 204.4H1027.5M1050.6 84.3H1040M1050.6 93.6H1040M1050.6 101H1040M1050.6 108.4H1040M1050.6 114H1040M1050.6 128.7H1040M1050.6 136H1040M1050.6 143.5H1040M1050.6 165.7H1040M1050.6 178.6H1040M1050.6 191.6H1040M1050.6 218.3H1040M1050.6 243.3H1040M1050.6 264.5H1040M1050.6 286.7H1040M1050.6 352.4H1040M1050.6 393H1040M1050.6 439.2H1040M1050.6 487.2H1040M1050.6 320H1027.5M1050.6 541.5H1027.5" fill="none" stroke="#f2f2f2" stroke-width="2.4"/>
<path d="M1081 543.9V566M1170.4 543.9V566M1306.5 543.9V566M1430.5 543.9V566M1546.4 543.9V566M1205 543.9V555M1231.4 543.9V555M1249.7 543.9V555M1264 543.9V555M1276 543.9V555M1286.3 543.9V555M1294.4 543.9V555M1343.8 543.9V555M1365.7 543.9V555M1381.2 543.9V555M1393.2 543.9V555M1403 543.9V555M1411.3 543.9V555M1418.5 543.9V555M1424.8 543.9V555M1465.4 543.9V555M1485.8 543.9V555M1500.3 543.9V555M1511.5 543.9V555M1520.7 543.9V555M1528.4 543.9V555M1535.2 543.9V555M1541.1 543.9V555M1581.3 543.9V555" fill="none" stroke="#f2f2f2" stroke-width="2.4"/>
<rect x="1096" y="545" width="71" height="8.5" fill="#f2f2f2"/>
<rect x="1119.5" y="545" width="16.5" height="20.5" fill="#f2f2f2"/>
<text x="1114.7" y="590.3" font-size="25" fill="#e9e9e9" class="b" textLength="15.5" lengthAdjust="spacingAndGlyphs" stroke="#e9e9e9" stroke-width="0.9" stroke-linejoin="round">0</text>
<text x="1276" y="590.3" font-size="25" fill="#e9e9e9" class="b" textLength="61" lengthAdjust="spacingAndGlyphs" stroke="#e9e9e9" stroke-width="0.9" stroke-linejoin="round">1E3</text>
<text x="1399.2" y="590.3" font-size="25" fill="#e9e9e9" class="b" textLength="61" lengthAdjust="spacingAndGlyphs" stroke="#e9e9e9" stroke-width="0.9" stroke-linejoin="round">1E4</text>
<text x="1515.9" y="590.3" font-size="25" fill="#e9e9e9" class="b" textLength="61" lengthAdjust="spacingAndGlyphs" stroke="#e9e9e9" stroke-width="0.9" stroke-linejoin="round">1E5</text>
<text font-size="33" fill="#f0f0f0" class="b" transform="translate(1015.5 199.7) rotate(-90) scale(1.0 1)" textLength="106" lengthAdjust="spacing" stroke="#f0f0f0" stroke-width="1.2" stroke-linejoin="round">150000</text>
<text font-size="33" fill="#f0f0f0" class="b" transform="translate(1015.5 364) rotate(-90) scale(1.0 1)" textLength="88" lengthAdjust="spacing" stroke="#f0f0f0" stroke-width="1.2" stroke-linejoin="round">50000</text>
<text font-size="33" fill="#f0f0f0" class="b" transform="translate(1015.5 549.8) rotate(-90) scale(1.0 1)" textLength="17.5" lengthAdjust="spacing" stroke="#f0f0f0" stroke-width="1.2" stroke-linejoin="round">0</text>
<text font-size="55.5" fill="#ffffff" class="b" transform="translate(968.4 538.6) rotate(-90) scale(0.92 1)" textLength="185.9" lengthAdjust="spacing" stroke="#ffffff" stroke-width="1.6" stroke-linejoin="round">SSC-A</text>
<text font-size="45" fill="#0080f0" class="b" transform="translate(1056.5 644.3) scale(1.08 1)" textLength="556.5" lengthAdjust="spacing" stroke="#0080f0" stroke-width="2.4" stroke-linejoin="round">CSFE_FITC-A LOGIC</text>
<g id="cube">
<path d="M904.7 793.7L1192.8 790.5L1627 820L1467.6 838L904.7 793.7L909.6 1379.5L1418.6 1524.8L1578.7 1314L1627 820M1467.6 838L1418.6 1524.8" fill="none" stroke="#a8a8a8" stroke-width="1.2"/>
<path d="M1178.5 1230.8L1192.8 790.5" fill="none" stroke="#f4f4f4" stroke-width="1.3"/>
<path d="M1173.6 1225.8L1183.8 1226.1M1176.1 1212L1182.1 1212.2M1176.5 1198.6L1182.5 1198.8M1177 1184.5L1183 1184.7M1177.4 1173.2L1183.4 1173.3M1177.8 1158.8L1183.8 1159M1178 1152.8L1184 1153M1178.6 1136.4L1184.6 1136.6M1179.1 1119.8L1185.1 1120M1177.4 1109L1187.5 1109.4M1179.9 1094.2L1185.9 1094.4M1180.2 1087.4L1186.2 1087.6M1180.7 1071.7L1186.7 1071.9M1181 1060.4L1187 1060.6M1181.5 1045.2L1187.5 1045.4M1182 1032L1188 1032.2M1182.2 1023.4L1188.2 1023.6M1182.7 1008.9L1188.7 1009.1M1181 995.4L1191.2 995.7M1183.7 977.5L1189.7 977.7M1184.1 965.8L1190.1 965.9M1184.4 957.5L1190.4 957.7M1185 939.6L1191 939.8M1185.2 931.8L1191.2 932M1185.8 915.1L1191.7 915.3M1186 906L1192 906.2M1186.4 894L1192.4 894.2M1185 874.2L1195.2 874.5M1187.3 866.5L1193.3 866.7M1187.8 853.5L1193.7 853.7M1188.4 834.6L1194.4 834.8M1188.8 822.5L1194.8 822.7M1189 814.1L1195 814.2M1189.6 795.9L1195.6 796.1" fill="none" stroke="#f4f4f4" stroke-width="1"/>
<path d="M1178.5 1230.8L909.6 1379.5" fill="none" stroke="#00ffff" stroke-width="1.3"/>
<path d="M1178.7 1237.3L1173.1 1227.2M1169 1239.9L1165.7 1234M1163.4 1243.1L1160.1 1237.1M1152 1249.4L1148.7 1243.4M1145.2 1253.1L1141.9 1247.1M1136 1258.2L1132.7 1252.2M1128.5 1262.4L1125.2 1256.4M1123.4 1265.2L1120.1 1259.2M1115.2 1269.7L1111.9 1263.8M1109.3 1275.7L1103.7 1265.5M1100.4 1277.9L1097.1 1271.9M1092.8 1282.1L1089.5 1276.1M1083.8 1287L1080.5 1281.1M1074.5 1292.2L1071.2 1286.3M1069.4 1295L1066.1 1289.1M1058.3 1301.2L1055 1295.2M1052 1304.6L1048.7 1298.7M1044.2 1308.9L1040.9 1303M1035.1 1316.7L1029.5 1306.6M1027.6 1318.1L1024.3 1312.2M1020.5 1322.1L1017.2 1316.1M1011.8 1326.9L1008.5 1320.9M1002.8 1331.8L999.5 1325.9M998 1334.5L994.7 1328.6M985.7 1341.3L982.4 1335.3M982.3 1343.2L979 1337.2M971 1349.5L967.7 1343.5M963.7 1356.2L958.2 1346M958.6 1356.3L955.3 1350.3M947.1 1362.7L943.8 1356.7M941.1 1365.9L937.9 1360M932.2 1370.9L928.9 1364.9M927 1373.8L923.7 1367.8M918.9 1378.2L915.6 1372.3" fill="none" stroke="#00ffff" stroke-width="1.1"/>
<path d="M1178.5 1230.8L1578.7 1314" fill="none" stroke="#00ff00" stroke-width="1.3"/>
<path d="M1180.8 1225.4L1178.4 1236.7M1194.9 1230.7L1193.5 1237.4M1200.4 1231.9L1199 1238.5M1213.7 1234.7L1212.4 1241.3M1224.8 1237L1223.4 1243.6M1234.9 1239L1233.5 1245.7M1241.3 1240.4L1239.9 1247M1251.4 1242.5L1250 1249.1M1262.4 1244.8L1261 1251.4M1274.4 1244.8L1272 1256.1M1279.9 1248.4L1278.5 1255.1M1293.7 1251.3L1292.4 1257.9M1304 1253.4L1302.7 1260.1M1314.4 1255.6L1313 1262.2M1319.5 1256.6L1318.1 1263.3M1334.9 1259.9L1333.6 1266.5M1339.8 1260.9L1338.4 1267.5M1351.3 1263.3L1349.9 1269.9M1363.4 1263.3L1361.1 1274.7M1374.8 1268.1L1373.4 1274.8M1381.3 1269.5L1379.9 1276.2M1394.8 1272.3L1393.5 1279M1402.6 1273.9L1401.2 1280.6M1411.2 1275.7L1409.8 1282.4M1421.2 1277.8L1419.8 1284.4M1430.4 1279.7L1429 1286.4M1439.8 1281.6L1438.4 1288.3M1450.7 1281.5L1448.4 1292.8M1463.5 1286.6L1462.1 1293.2M1475.3 1289L1473.9 1295.7M1480.3 1290.1L1478.9 1296.7M1489.6 1292L1488.3 1298.7M1505.3 1295.3L1503.9 1301.9M1512.6 1296.8L1511.2 1303.4M1521.8 1298.7L1520.4 1305.4M1530.8 1300.6L1529.4 1307.2M1543.4 1300.8L1541.1 1312.1M1554.3 1305.5L1553 1312.1M1562.1 1307.1L1560.7 1313.7M1571.9 1309.1L1570.5 1315.8" fill="none" stroke="#00ff00" stroke-width="1.1"/>
<g filter="url(#bl2)"><g transform="translate(1120 920) scale(1.4)">
<path d="M64 15h2v1h-2zM64 16h2v1h-2zM74 16h2v1h-2zM80 16h2v1h-2zM85 16h2v1h-2zM137 16h2v1h-2zM73 17h3v1h-3zM80 17h2v1h-2zM85 17h2v1h-2zM97 17h2v1h-2zM137 17h2v1h-2zM56 18h2v1h-2zM73 18h2v1h-2zM82 18h2v1h-2zM97 18h2v1h-2zM109 18h2v1h-2zM51 19h2v1h-2zM56 19h2v1h-2zM82 19h2v1h-2zM109 19h2v1h-2zM44 20h2v1h-2zM51 20h2v1h-2zM91 20h2v1h-2zM44 21h2v1h-2zM70 21h2v1h-2zM84 21h2v1h-2zM91 21h2v1h-2zM67 22h5v1h-5zM84 22h3v1h-3zM67 23h4v1h-4zM81 23h2v1h-2zM85 23h2v1h-2zM71 24h2v1h-2zM75 24h2v1h-2zM81 24h2v1h-2zM71 25h2v1h-2zM75 25h2v1h-2zM60 26h3v1h-3zM85 26h2v1h-2zM60 27h5v1h-5zM67 27h2v1h-2zM79 27h2v1h-2zM85 27h2v1h-2zM61 28h4v1h-4zM67 28h2v1h-2zM79 28h2v1h-2zM82 28h2v1h-2zM61 29h2v1h-2zM76 29h2v1h-2zM79 29h2v1h-2zM82 29h2v1h-2zM76 30h2v1h-2zM79 30h3v1h-3zM98 30h2v1h-2zM77 31h5v1h-5zM98 31h2v1h-2zM60 32h2v1h-2zM69 32h3v1h-3zM77 32h4v1h-4zM91 32h2v1h-2zM50 33h2v1h-2zM54 33h2v1h-2zM60 33h2v1h-2zM65 33h2v1h-2zM69 33h4v1h-4zM78 33h2v1h-2zM86 33h2v1h-2zM91 33h2v1h-2zM50 34h2v1h-2zM54 34h2v1h-2zM65 34h3v1h-3zM69 34h4v1h-4zM78 34h3v1h-3zM86 34h2v1h-2zM91 34h2v1h-2zM61 35h2v1h-2zM66 35h2v1h-2zM69 35h2v1h-2zM75 35h2v1h-2zM78 35h5v1h-5zM91 35h2v1h-2zM45 36h2v1h-2zM56 36h2v1h-2zM61 36h3v1h-3zM65 36h2v1h-2zM72 36h5v1h-5zM81 36h2v1h-2zM86 36h2v1h-2zM45 37h2v1h-2zM56 37h2v1h-2zM62 37h2v1h-2zM65 37h2v1h-2zM72 37h9v1h-9zM86 37h2v1h-2zM121 37h2v1h-2zM57 38h2v1h-2zM71 38h2v1h-2zM75 38h6v1h-6zM85 38h2v1h-2zM89 38h2v1h-2zM121 38h2v1h-2zM44 39h2v1h-2zM57 39h2v1h-2zM64 39h2v1h-2zM71 39h4v1h-4zM77 39h3v1h-3zM85 39h2v1h-2zM89 39h4v1h-4zM44 40h2v1h-2zM57 40h2v1h-2zM64 40h2v1h-2zM69 40h2v1h-2zM72 40h2v1h-2zM77 40h4v1h-4zM90 40h3v1h-3zM94 40h2v1h-2zM65 41h6v1h-6zM72 41h3v1h-3zM79 41h2v1h-2zM94 41h2v1h-2zM48 42h2v1h-2zM58 42h3v1h-3zM65 42h6v1h-6zM73 42h3v1h-3zM78 42h4v1h-4zM89 42h2v1h-2zM48 43h2v1h-2zM58 43h3v1h-3zM66 43h2v1h-2zM69 43h2v1h-2zM74 43h2v1h-2zM78 43h4v1h-4zM83 43h2v1h-2zM89 43h2v1h-2zM48 44h2v1h-2zM60 44h2v1h-2zM64 44h4v1h-4zM69 44h4v1h-4zM78 44h2v1h-2zM81 44h6v1h-6zM89 44h2v1h-2zM99 44h2v1h-2zM48 45h2v1h-2zM60 45h2v1h-2zM64 45h2v1h-2zM69 45h4v1h-4zM78 45h2v1h-2zM81 45h2v1h-2zM85 45h2v1h-2zM88 45h3v1h-3zM95 45h2v1h-2zM98 45h3v1h-3zM104 45h2v1h-2zM53 46h3v1h-3zM59 46h3v1h-3zM63 46h4v1h-4zM69 46h5v1h-5zM77 46h2v1h-2zM80 46h2v1h-2zM87 46h3v1h-3zM95 46h2v1h-2zM98 46h2v1h-2zM104 46h2v1h-2zM53 47h8v1h-8zM62 47h9v1h-9zM72 47h3v1h-3zM77 47h8v1h-8zM87 47h3v1h-3zM96 47h2v1h-2zM53 48h8v1h-8zM62 48h2v1h-2zM67 48h13v1h-13zM81 48h5v1h-5zM87 48h2v1h-2zM90 48h2v1h-2zM96 48h2v1h-2zM53 49h5v1h-5zM59 49h2v1h-2zM62 49h2v1h-2zM68 49h13v1h-13zM83 49h3v1h-3zM90 49h4v1h-4zM33 50h2v1h-2zM54 50h4v1h-4zM59 50h2v1h-2zM66 50h2v1h-2zM72 50h12v1h-12zM92 50h2v1h-2zM33 51h2v1h-2zM50 51h2v1h-2zM55 51h2v1h-2zM64 51h4v1h-4zM69 51h2v1h-2zM75 51h9v1h-9zM85 51h2v1h-2zM92 51h2v1h-2zM96 51h2v1h-2zM48 52h5v1h-5zM55 52h4v1h-4zM60 52h8v1h-8zM69 52h4v1h-4zM83 52h6v1h-6zM91 52h3v1h-3zM96 52h2v1h-2zM48 53h2v1h-2zM51 53h2v1h-2zM57 53h2v1h-2zM60 53h17v1h-17zM83 53h6v1h-6zM91 53h4v1h-4zM96 53h2v1h-2zM59 54h6v1h-6zM67 54h10v1h-10zM79 54h3v1h-3zM83 54h2v1h-2zM93 54h2v1h-2zM107 54h1v1h-1zM59 55h2v1h-2zM63 55h15v1h-15zM79 55h3v1h-3zM86 55h4v1h-4zM107 55h2v1h-2zM55 56h2v1h-2zM60 56h11v1h-11zM73 56h7v1h-7zM84 56h6v1h-6zM95 56h2v1h-2zM101 56h2v1h-2zM35 57h2v1h-2zM49 57h2v1h-2zM55 57h2v1h-2zM58 57h6v1h-6zM68 57h3v1h-3zM73 57h2v1h-2zM76 57h4v1h-4zM84 57h2v1h-2zM95 57h3v1h-3zM101 57h2v1h-2zM35 58h2v1h-2zM49 58h2v1h-2zM58 58h2v1h-2zM63 58h3v1h-3zM68 58h4v1h-4zM73 58h2v1h-2zM76 58h4v1h-4zM82 58h4v1h-4zM95 58h3v1h-3zM35 59h2v1h-2zM55 59h5v1h-5zM63 59h3v1h-3zM68 59h5v1h-5zM80 59h6v1h-6zM90 59h2v1h-2zM95 59h2v1h-2zM35 60h3v1h-3zM55 60h3v1h-3zM63 60h2v1h-2zM66 60h2v1h-2zM71 60h2v1h-2zM76 60h2v1h-2zM80 60h4v1h-4zM85 60h2v1h-2zM88 60h5v1h-5zM36 61h2v1h-2zM58 61h2v1h-2zM61 61h7v1h-7zM72 61h2v1h-2zM76 61h2v1h-2zM80 61h7v1h-7zM88 61h5v1h-5zM56 62h7v1h-7zM64 62h3v1h-3zM69 62h5v1h-5zM76 62h2v1h-2zM81 62h6v1h-6zM88 62h4v1h-4zM93 62h2v1h-2zM100 62h4v1h-4zM56 63h5v1h-5zM62 63h13v1h-13zM76 63h2v1h-2zM79 63h2v1h-2zM82 63h5v1h-5zM88 63h4v1h-4zM93 63h2v1h-2zM101 63h3v1h-3zM52 64h2v1h-2zM57 64h4v1h-4zM62 64h2v1h-2zM66 64h11v1h-11zM79 64h7v1h-7zM88 64h3v1h-3zM101 64h1v1h-1zM52 65h2v1h-2zM56 65h10v1h-10zM67 65h4v1h-4zM72 65h7v1h-7zM81 65h7v1h-7zM89 65h3v1h-3zM99 65h2v1h-2zM102 65h3v1h-3zM56 66h2v1h-2zM60 66h10v1h-10zM72 66h8v1h-8zM81 66h7v1h-7zM89 66h4v1h-4zM94 66h2v1h-2zM99 66h2v1h-2zM102 66h3v1h-3zM35 67h2v1h-2zM55 67h2v1h-2zM60 67h7v1h-7zM68 67h3v1h-3zM72 67h3v1h-3zM76 67h4v1h-4zM81 67h7v1h-7zM89 67h4v1h-4zM94 67h2v1h-2zM98 67h2v1h-2zM35 68h2v1h-2zM49 68h2v1h-2zM55 68h2v1h-2zM62 68h4v1h-4zM67 68h4v1h-4zM74 68h8v1h-8zM83 68h9v1h-9zM98 68h2v1h-2zM49 69h2v1h-2zM52 69h2v1h-2zM62 69h2v1h-2zM65 69h7v1h-7zM73 69h19v1h-19zM98 69h2v1h-2zM43 70h2v1h-2zM52 70h4v1h-4zM61 70h3v1h-3zM65 70h7v1h-7zM73 70h2v1h-2zM76 70h11v1h-11zM88 70h3v1h-3zM92 70h3v1h-3zM98 70h2v1h-2zM38 71h2v1h-2zM43 71h2v1h-2zM54 71h2v1h-2zM60 71h4v1h-4zM65 71h5v1h-5zM72 71h8v1h-8zM81 71h10v1h-10zM92 71h3v1h-3zM98 71h2v1h-2zM38 72h2v1h-2zM43 72h2v1h-2zM50 72h2v1h-2zM56 72h2v1h-2zM59 72h3v1h-3zM63 72h2v1h-2zM66 72h4v1h-4zM72 72h8v1h-8zM81 72h13v1h-13zM100 72h2v1h-2zM106 72h2v1h-2zM43 73h2v1h-2zM50 73h2v1h-2zM55 73h3v1h-3zM59 73h2v1h-2zM62 73h3v1h-3zM66 73h4v1h-4zM71 73h23v1h-23zM97 73h5v1h-5zM106 73h1v1h-1zM33 74h4v1h-4zM51 74h2v1h-2zM55 74h3v1h-3zM59 74h2v1h-2zM62 74h11v1h-11zM74 74h18v1h-18zM97 74h5v1h-5zM103 74h2v1h-2zM33 75h4v1h-4zM51 75h2v1h-2zM59 75h2v1h-2zM64 75h17v1h-17zM82 75h11v1h-11zM95 75h2v1h-2zM99 75h2v1h-2zM103 75h2v1h-2zM51 76h2v1h-2zM56 76h7v1h-7zM65 76h17v1h-17zM83 76h7v1h-7zM91 76h2v1h-2zM95 76h4v1h-4zM100 76h2v1h-2zM115 76h2v1h-2zM42 77h2v1h-2zM49 77h4v1h-4zM56 77h8v1h-8zM65 77h17v1h-17zM83 77h6v1h-6zM90 77h13v1h-13zM42 78h2v1h-2zM48 78h3v1h-3zM55 78h5v1h-5zM62 78h12v1h-12zM75 78h14v1h-14zM90 78h7v1h-7zM100 78h5v1h-5zM36 79h2v1h-2zM48 79h2v1h-2zM52 79h2v1h-2zM55 79h7v1h-7zM63 79h9v1h-9zM76 79h3v1h-3zM80 79h6v1h-6zM87 79h7v1h-7zM103 79h3v1h-3zM108 79h2v1h-2zM113 79h2v1h-2zM36 80h3v1h-3zM51 80h6v1h-6zM59 80h5v1h-5zM66 80h31v1h-31zM98 80h2v1h-2zM102 80h1v1h-1zM105 80h1v1h-1zM108 80h2v1h-2zM113 80h2v1h-2zM37 81h2v1h-2zM42 81h2v1h-2zM51 81h2v1h-2zM54 81h21v1h-21zM76 81h16v1h-16zM94 81h2v1h-2zM97 81h2v1h-2zM102 81h1v1h-1zM110 81h2v1h-2zM42 82h2v1h-2zM56 82h3v1h-3zM60 82h13v1h-13zM75 82h4v1h-4zM80 82h13v1h-13zM94 82h5v1h-5zM110 82h2v1h-2zM37 83h2v1h-2zM53 83h2v1h-2zM56 83h19v1h-19zM78 83h12v1h-12zM91 83h3v1h-3zM99 83h2v1h-2zM103 83h2v1h-2zM111 83h1v1h-1zM115 83h1v1h-1zM37 84h2v1h-2zM53 84h34v1h-34zM88 84h7v1h-7zM99 84h3v1h-3zM103 84h2v1h-2zM114 84h2v1h-2zM55 85h6v1h-6zM62 85h11v1h-11zM75 85h14v1h-14zM90 85h2v1h-2zM93 85h4v1h-4zM99 85h3v1h-3zM114 85h2v1h-2zM51 86h2v1h-2zM57 86h6v1h-6zM65 86h16v1h-16zM82 86h10v1h-10zM93 86h4v1h-4zM102 86h2v1h-2zM51 87h2v1h-2zM54 87h2v1h-2zM59 87h8v1h-8zM70 87h14v1h-14zM88 87h4v1h-4zM94 87h4v1h-4zM102 87h2v1h-2zM54 88h14v1h-14zM69 88h10v1h-10zM81 88h3v1h-3zM88 88h5v1h-5zM94 88h5v1h-5zM102 88h2v1h-2zM33 89h2v1h-2zM53 89h12v1h-12zM67 89h16v1h-16zM84 89h6v1h-6zM91 89h8v1h-8zM102 89h2v1h-2zM33 90h2v1h-2zM51 90h8v1h-8zM61 90h15v1h-15zM77 90h11v1h-11zM90 90h7v1h-7zM101 90h3v1h-3zM41 91h2v1h-2zM51 91h2v1h-2zM55 91h6v1h-6zM63 91h17v1h-17zM82 91h7v1h-7zM90 91h7v1h-7zM101 91h3v1h-3zM41 92h3v1h-3zM48 92h4v1h-4zM53 92h2v1h-2zM59 92h3v1h-3zM63 92h3v1h-3zM67 92h12v1h-12zM81 92h18v1h-18zM100 92h4v1h-4zM116 92h1v1h-1zM42 93h2v1h-2zM45 93h2v1h-2zM48 93h4v1h-4zM53 93h2v1h-2zM57 93h22v1h-22zM81 93h3v1h-3zM85 93h7v1h-7zM93 93h6v1h-6zM100 93h4v1h-4zM116 93h1v1h-1zM45 94h2v1h-2zM50 94h2v1h-2zM57 94h3v1h-3zM61 94h10v1h-10zM72 94h21v1h-21zM94 94h5v1h-5zM100 94h3v1h-3zM104 94h2v1h-2zM107 94h2v1h-2zM124 94h2v1h-2zM50 95h2v1h-2zM55 95h4v1h-4zM60 95h26v1h-26zM87 95h9v1h-9zM97 95h6v1h-6zM104 95h2v1h-2zM107 95h2v1h-2zM115 95h2v1h-2zM124 95h2v1h-2zM50 96h2v1h-2zM53 96h14v1h-14zM68 96h18v1h-18zM88 96h14v1h-14zM104 96h2v1h-2zM114 96h3v1h-3zM48 97h2v1h-2zM51 97h15v1h-15zM68 97h4v1h-4zM73 97h15v1h-15zM89 97h6v1h-6zM96 97h6v1h-6zM114 97h2v1h-2zM48 98h2v1h-2zM51 98h2v1h-2zM54 98h11v1h-11zM67 98h3v1h-3zM72 98h20v1h-20zM93 98h6v1h-6zM101 98h3v1h-3zM105 98h2v1h-2zM47 99h4v1h-4zM53 99h2v1h-2zM56 99h1v1h-1zM58 99h3v1h-3zM62 99h27v1h-27zM90 99h3v1h-3zM94 99h5v1h-5zM101 99h1v1h-1zM105 99h2v1h-2zM46 100h5v1h-5zM53 100h14v1h-14zM68 100h32v1h-32zM101 100h1v1h-1zM105 100h2v1h-2zM46 101h2v1h-2zM50 101h2v1h-2zM54 101h12v1h-12zM67 101h38v1h-38zM50 102h2v1h-2zM54 102h12v1h-12zM67 102h4v1h-4zM73 102h7v1h-7zM81 102h11v1h-11zM93 102h5v1h-5zM99 102h6v1h-6zM49 103h4v1h-4zM54 103h8v1h-8zM64 103h4v1h-4zM69 103h3v1h-3zM73 103h6v1h-6zM80 103h17v1h-17zM102 103h2v1h-2zM109 103h2v1h-2zM112 103h2v1h-2zM49 104h4v1h-4zM54 104h8v1h-8zM64 104h8v1h-8zM73 104h12v1h-12zM86 104h5v1h-5zM92 104h6v1h-6zM99 104h5v1h-5zM109 104h5v1h-5zM47 105h6v1h-6zM57 105h6v1h-6zM64 105h8v1h-8zM73 105h10v1h-10zM85 105h14v1h-14zM101 105h2v1h-2zM110 105h3v1h-3zM47 106h3v1h-3zM51 106h2v1h-2zM57 106h8v1h-8zM67 106h32v1h-32zM101 106h2v1h-2zM105 106h2v1h-2zM51 107h4v1h-4zM59 107h8v1h-8zM68 107h18v1h-18zM87 107h6v1h-6zM94 107h8v1h-8zM105 107h2v1h-2zM47 108h3v1h-3zM51 108h6v1h-6zM58 108h4v1h-4zM63 108h40v1h-40zM109 108h2v1h-2zM47 109h10v1h-10zM58 109h41v1h-41zM101 109h3v1h-3zM109 109h2v1h-2zM50 110h1v1h-1zM52 110h4v1h-4zM58 110h11v1h-11zM70 110h2v1h-2zM73 110h28v1h-28zM105 110h2v1h-2zM47 111h2v1h-2zM51 111h18v1h-18zM70 111h27v1h-27zM99 111h2v1h-2zM105 111h2v1h-2zM36 112h2v1h-2zM39 112h2v1h-2zM47 112h2v1h-2zM50 112h3v1h-3zM55 112h39v1h-39zM95 112h2v1h-2zM107 112h2v1h-2zM112 112h2v1h-2zM36 113h2v1h-2zM39 113h2v1h-2zM47 113h2v1h-2zM50 113h3v1h-3zM54 113h2v1h-2zM58 113h20v1h-20zM79 113h19v1h-19zM107 113h2v1h-2zM112 113h2v1h-2zM47 114h2v1h-2zM53 114h6v1h-6zM60 114h31v1h-31zM92 114h7v1h-7zM100 114h5v1h-5zM111 114h2v1h-2zM48 115h4v1h-4zM53 115h14v1h-14zM68 115h18v1h-18zM87 115h5v1h-5zM93 115h2v1h-2zM97 115h9v1h-9zM111 115h2v1h-2zM48 116h4v1h-4zM53 116h2v1h-2zM56 116h38v1h-38zM95 116h6v1h-6zM102 116h4v1h-4zM46 117h2v1h-2zM50 117h3v1h-3zM54 117h2v1h-2zM57 117h44v1h-44zM102 117h3v1h-3zM106 117h2v1h-2zM111 117h2v1h-2zM46 118h11v1h-11zM58 118h29v1h-29zM88 118h9v1h-9zM99 118h2v1h-2zM102 118h3v1h-3zM106 118h2v1h-2zM109 118h5v1h-5zM48 119h9v1h-9zM58 119h29v1h-29zM89 119h8v1h-8zM98 119h7v1h-7zM109 119h2v1h-2zM112 119h2v1h-2zM48 120h9v1h-9zM58 120h35v1h-35zM94 120h1v1h-1zM97 120h7v1h-7zM42 121h2v1h-2zM49 121h47v1h-47zM97 121h4v1h-4zM106 121h2v1h-2zM114 121h2v1h-2zM42 122h2v1h-2zM49 122h11v1h-11zM61 122h17v1h-17zM79 122h14v1h-14zM94 122h10v1h-10zM105 122h5v1h-5zM49 123h12v1h-12zM62 123h11v1h-11zM75 123h2v1h-2zM78 123h26v1h-26zM105 123h2v1h-2zM108 123h2v1h-2zM111 123h2v1h-2zM50 124h2v1h-2zM55 124h6v1h-6zM62 124h12v1h-12zM75 124h3v1h-3zM79 124h18v1h-18zM98 124h6v1h-6zM105 124h2v1h-2zM111 124h1v1h-1zM35 125h2v1h-2zM53 125h40v1h-40zM94 125h3v1h-3zM98 125h6v1h-6zM105 125h2v1h-2zM35 126h2v1h-2zM47 126h2v1h-2zM50 126h2v1h-2zM53 126h16v1h-16zM71 126h8v1h-8zM80 126h18v1h-18zM103 126h2v1h-2zM106 126h2v1h-2zM109 126h2v1h-2zM38 127h2v1h-2zM46 127h6v1h-6zM53 127h16v1h-16zM71 127h24v1h-24zM96 127h5v1h-5zM103 127h5v1h-5zM109 127h3v1h-3zM38 128h2v1h-2zM41 128h2v1h-2zM46 128h6v1h-6zM53 128h5v1h-5zM59 128h42v1h-42zM104 128h3v1h-3zM110 128h2v1h-2zM41 129h2v1h-2zM46 129h3v1h-3zM51 129h2v1h-2zM54 129h3v1h-3zM58 129h23v1h-23zM82 129h25v1h-25zM46 130h4v1h-4zM51 130h6v1h-6zM58 130h19v1h-19zM79 130h19v1h-19zM100 130h4v1h-4zM105 130h4v1h-4zM114 130h1v1h-1zM32 131h2v1h-2zM46 131h5v1h-5zM52 131h9v1h-9zM62 131h15v1h-15zM79 131h16v1h-16zM97 131h3v1h-3zM101 131h8v1h-8zM114 131h2v1h-2zM32 132h2v1h-2zM46 132h7v1h-7zM54 132h22v1h-22zM78 132h13v1h-13zM92 132h8v1h-8zM102 132h6v1h-6zM116 132h1v1h-1zM40 133h2v1h-2zM48 133h4v1h-4zM53 133h23v1h-23zM78 133h23v1h-23zM102 133h6v1h-6zM40 134h2v1h-2zM51 134h27v1h-27zM79 134h16v1h-16zM97 134h4v1h-4zM103 134h2v1h-2zM109 134h3v1h-3zM48 135h2v1h-2zM53 135h8v1h-8zM62 135h30v1h-30zM93 135h2v1h-2zM98 135h7v1h-7zM109 135h3v1h-3zM36 136h2v1h-2zM48 136h2v1h-2zM52 136h5v1h-5zM58 136h45v1h-45zM105 136h2v1h-2zM112 136h1v1h-1zM36 137h2v1h-2zM48 137h3v1h-3zM52 137h46v1h-46zM99 137h3v1h-3zM105 137h2v1h-2zM112 137h1v1h-1zM45 138h2v1h-2zM49 138h2v1h-2zM53 138h43v1h-43zM98 138h2v1h-2zM35 139h2v1h-2zM45 139h2v1h-2zM58 139h6v1h-6zM65 139h31v1h-31zM98 139h2v1h-2zM108 139h2v1h-2zM35 140h2v1h-2zM46 140h2v1h-2zM51 140h2v1h-2zM58 140h2v1h-2zM61 140h23v1h-23zM85 140h11v1h-11zM98 140h2v1h-2zM105 140h2v1h-2zM108 140h3v1h-3zM30 141h2v1h-2zM46 141h2v1h-2zM51 141h4v1h-4zM56 141h12v1h-12zM69 141h31v1h-31zM105 141h2v1h-2zM112 141h2v1h-2zM30 142h2v1h-2zM53 142h11v1h-11zM65 142h37v1h-37zM103 142h2v1h-2zM108 142h1v1h-1zM46 143h2v1h-2zM53 143h44v1h-44zM98 143h7v1h-7zM106 143h2v1h-2zM31 144h2v1h-2zM46 144h2v1h-2zM53 144h17v1h-17zM72 144h16v1h-16zM90 144h1v1h-1zM92 144h6v1h-6zM100 144h3v1h-3zM106 144h2v1h-2zM114 144h1v1h-1zM31 145h2v1h-2zM45 145h2v1h-2zM55 145h2v1h-2zM58 145h12v1h-12zM72 145h1v1h-1zM74 145h14v1h-14zM90 145h8v1h-8zM100 145h5v1h-5zM107 145h1v1h-1zM45 146h2v1h-2zM48 146h3v1h-3zM54 146h28v1h-28zM83 146h1v1h-1zM85 146h5v1h-5zM91 146h7v1h-7zM102 146h3v1h-3zM40 147h2v1h-2zM48 147h3v1h-3zM54 147h12v1h-12zM67 147h18v1h-18zM87 147h7v1h-7zM97 147h2v1h-2zM102 147h3v1h-3zM40 148h2v1h-2zM50 148h3v1h-3zM54 148h24v1h-24zM79 148h9v1h-9zM89 148h6v1h-6zM97 148h3v1h-3zM50 149h3v1h-3zM54 149h24v1h-24zM79 149h22v1h-22zM116 149h2v1h-2zM41 150h2v1h-2zM51 150h5v1h-5zM58 150h39v1h-39zM100 150h4v1h-4zM38 151h2v1h-2zM41 151h2v1h-2zM51 151h6v1h-6zM58 151h34v1h-34zM94 151h3v1h-3zM99 151h6v1h-6zM38 152h2v1h-2zM48 152h2v1h-2zM52 152h5v1h-5zM58 152h34v1h-34zM94 152h1v1h-1zM97 152h3v1h-3zM102 152h3v1h-3zM45 153h2v1h-2zM48 153h9v1h-9zM58 153h24v1h-24zM83 153h12v1h-12zM98 153h2v1h-2zM102 153h3v1h-3zM106 153h2v1h-2zM45 154h11v1h-11zM58 154h12v1h-12zM72 154h10v1h-10zM83 154h14v1h-14zM98 154h6v1h-6zM47 155h6v1h-6zM54 155h2v1h-2zM58 155h4v1h-4zM63 155h7v1h-7zM71 155h11v1h-11zM83 155h12v1h-12zM97 155h7v1h-7zM46 156h2v1h-2zM54 156h2v1h-2zM58 156h25v1h-25zM85 156h1v1h-1zM87 156h8v1h-8zM97 156h6v1h-6zM105 156h1v1h-1zM109 156h1v1h-1zM46 157h3v1h-3zM52 157h2v1h-2zM56 157h13v1h-13zM70 157h20v1h-20zM92 157h2v1h-2zM95 157h6v1h-6zM102 157h1v1h-1zM45 158h4v1h-4zM52 158h17v1h-17zM70 158h3v1h-3zM75 158h4v1h-4zM80 158h10v1h-10zM92 158h2v1h-2zM95 158h6v1h-6zM102 158h2v1h-2zM29 159h2v1h-2zM40 159h2v1h-2zM45 159h2v1h-2zM54 159h4v1h-4zM59 159h9v1h-9zM69 159h4v1h-4zM75 159h20v1h-20zM96 159h3v1h-3zM100 159h2v1h-2zM29 160h2v1h-2zM40 160h1v1h-1zM45 160h2v1h-2zM53 160h2v1h-2zM56 160h43v1h-43zM100 160h2v1h-2zM105 160h1v1h-1zM50 161h2v1h-2zM53 161h34v1h-34zM88 161h11v1h-11zM47 162h2v1h-2zM51 162h2v1h-2zM54 162h2v1h-2zM57 162h15v1h-15zM73 162h5v1h-5zM79 162h12v1h-12zM92 162h7v1h-7zM46 163h3v1h-3zM50 163h3v1h-3zM54 163h1v1h-1zM57 163h20v1h-20zM79 163h3v1h-3zM84 163h15v1h-15zM101 163h1v1h-1zM46 164h3v1h-3zM51 164h6v1h-6zM60 164h17v1h-17zM79 164h3v1h-3zM85 164h12v1h-12zM98 164h4v1h-4zM47 165h2v1h-2zM51 165h3v1h-3zM55 165h3v1h-3zM60 165h32v1h-32zM93 165h3v1h-3zM98 165h4v1h-4zM47 166h3v1h-3zM53 166h1v1h-1zM55 166h4v1h-4zM60 166h2v1h-2zM63 166h2v1h-2zM66 166h4v1h-4zM71 166h8v1h-8zM80 166h7v1h-7zM88 166h5v1h-5zM95 166h1v1h-1zM99 166h1v1h-1zM33 167h2v1h-2zM45 167h5v1h-5zM52 167h2v1h-2zM55 167h3v1h-3zM59 167h16v1h-16zM76 167h4v1h-4zM81 167h5v1h-5zM88 167h5v1h-5zM95 167h1v1h-1zM102 167h2v1h-2zM33 168h2v1h-2zM45 168h2v1h-2zM48 168h1v1h-1zM51 168h2v1h-2zM55 168h7v1h-7zM63 168h5v1h-5zM69 168h13v1h-13zM84 168h12v1h-12zM100 168h5v1h-5zM50 169h3v1h-3zM54 169h8v1h-8zM63 169h6v1h-6zM70 169h25v1h-25zM100 169h3v1h-3zM108 169h1v1h-1zM46 170h9v1h-9zM56 170h22v1h-22zM79 170h11v1h-11zM91 170h7v1h-7zM100 170h4v1h-4zM44 171h1v1h-1zM46 171h3v1h-3zM51 171h4v1h-4zM56 171h1v1h-1zM58 171h1v1h-1zM61 171h3v1h-3zM65 171h9v1h-9zM75 171h6v1h-6zM82 171h4v1h-4zM87 171h1v1h-1zM91 171h5v1h-5zM99 171h2v1h-2zM102 171h1v1h-1zM29 172h2v1h-2zM44 172h2v1h-2zM50 172h2v1h-2zM56 172h4v1h-4zM61 172h3v1h-3zM65 172h2v1h-2zM70 172h1v1h-1zM72 172h6v1h-6zM79 172h1v1h-1zM81 172h6v1h-6zM88 172h2v1h-2zM92 172h2v1h-2zM95 172h1v1h-1zM99 172h2v1h-2zM102 172h1v1h-1zM30 173h1v1h-1zM49 173h2v1h-2zM56 173h3v1h-3zM60 173h1v1h-1zM62 173h11v1h-11zM74 173h3v1h-3zM82 173h4v1h-4zM90 173h2v1h-2zM93 173h3v1h-3zM98 173h2v1h-2zM101 173h1v1h-1zM104 173h1v1h-1zM51 174h1v1h-1zM53 174h2v1h-2zM58 174h1v1h-1zM60 174h1v1h-1zM63 174h5v1h-5zM69 174h1v1h-1zM71 174h1v1h-1zM73 174h2v1h-2zM76 174h1v1h-1zM78 174h2v1h-2zM83 174h3v1h-3zM87 174h2v1h-2zM90 174h2v1h-2zM96 174h3v1h-3zM101 174h1v1h-1zM106 174h2v1h-2zM50 175h1v1h-1zM52 175h3v1h-3zM57 175h4v1h-4zM64 175h1v1h-1zM66 175h4v1h-4zM71 175h1v1h-1zM73 175h2v1h-2zM78 175h1v1h-1zM80 175h5v1h-5zM87 175h1v1h-1zM89 175h2v1h-2zM92 175h7v1h-7zM101 175h1v1h-1zM106 175h2v1h-2zM40 176h1v1h-1zM52 176h3v1h-3zM58 176h1v1h-1zM60 176h1v1h-1zM65 176h1v1h-1zM69 176h1v1h-1zM73 176h1v1h-1zM77 176h2v1h-2zM80 176h6v1h-6zM88 176h5v1h-5zM94 176h3v1h-3zM98 176h4v1h-4zM39 177h3v1h-3zM47 177h2v1h-2zM51 177h1v1h-1zM56 177h1v1h-1zM59 177h1v1h-1zM62 177h1v1h-1zM65 177h1v1h-1zM70 177h1v1h-1zM73 177h1v1h-1zM75 177h2v1h-2zM79 177h1v1h-1zM84 177h2v1h-2zM87 177h2v1h-2zM91 177h1v1h-1zM97 177h2v1h-2zM37 178h1v1h-1zM71 178h1v1h-1zM83 178h1v1h-1zM85 178h1v1h-1zM87 178h3v1h-3zM91 178h3v1h-3zM95 178h6v1h-6zM79 179h1v1h-1zM82 179h2v1h-2zM85 179h3v1h-3zM91 179h1v1h-1zM95 179h1v1h-1zM99 179h2v1h-2zM56 180h1v1h-1zM64 180h1v1h-1zM79 180h1v1h-1zM87 180h2v1h-2zM90 180h4v1h-4zM95 180h4v1h-4zM102 180h2v1h-2zM106 180h1v1h-1zM92 181h2v1h-2zM97 181h3v1h-3zM103 181h1v1h-1zM106 181h1v1h-1zM57 182h1v1h-1zM92 182h2v1h-2zM111 182h1v1h-1zM92 183h3v1h-3zM111 183h1v1h-1zM63 184h1v1h-1zM93 184h1v1h-1zM100 184h2v1h-2zM92 185h1v1h-1zM100 185h2v1h-2zM103 185h2v1h-2zM98 186h2v1h-2zM103 186h2v1h-2zM93 187h1v1h-1zM98 187h1v1h-1zM94 188h1v1h-1zM97 188h2v1h-2zM74 189h1v1h-1zM95 189h4v1h-4zM100 189h3v1h-3zM100 190h3v1h-3zM52 191h1v1h-1zM39 192h1v1h-1zM74 192h1v1h-1zM59 193h1v1h-1zM71 193h1v1h-1zM90 193h1v1h-1zM47 194h1v1h-1zM60 194h1v1h-1zM63 194h1v1h-1zM75 194h1v1h-1zM79 195h1v1h-1zM54 196h1v1h-1zM39 198h1v1h-1zM47 198h1v1h-1zM75 198h1v1h-1zM51 199h1v1h-1zM65 200h1v1h-1zM50 201h1v1h-1zM53 201h1v1h-1z" fill="#0058ff"/>
<path d="M106 50h4v1h-4zM106 51h4v1h-4zM108 53h2v1h-2zM108 54h2v1h-2zM105 56h2v1h-2zM105 57h2v1h-2zM104 58h2v1h-2zM104 59h2v1h-2zM111 60h2v1h-2zM106 61h2v1h-2zM111 61h2v1h-2zM106 62h2v1h-2zM113 62h3v1h-3zM119 62h2v1h-2zM97 63h4v1h-4zM113 63h3v1h-3zM119 63h2v1h-2zM97 64h4v1h-4zM112 64h2v1h-2zM122 64h2v1h-2zM112 65h2v1h-2zM122 65h2v1h-2zM117 66h2v1h-2zM117 67h2v1h-2zM102 68h2v1h-2zM107 68h2v1h-2zM112 68h4v1h-4zM117 68h2v1h-2zM102 69h2v1h-2zM107 69h2v1h-2zM112 69h4v1h-4zM112 71h2v1h-2zM112 72h2v1h-2zM124 72h2v1h-2zM107 73h2v1h-2zM112 73h2v1h-2zM120 73h2v1h-2zM124 73h2v1h-2zM107 74h2v1h-2zM112 74h2v1h-2zM115 74h2v1h-2zM120 74h2v1h-2zM93 75h2v1h-2zM109 75h2v1h-2zM115 75h2v1h-2zM93 76h2v1h-2zM109 76h2v1h-2zM107 77h2v1h-2zM98 78h2v1h-2zM107 78h2v1h-2zM127 78h2v1h-2zM98 79h2v1h-2zM127 79h2v1h-2zM103 80h2v1h-2zM115 80h3v1h-3zM131 80h2v1h-2zM103 81h2v1h-2zM115 81h3v1h-3zM131 81h2v1h-2zM112 82h3v1h-3zM112 83h3v1h-3zM123 83h2v1h-2zM111 84h3v1h-3zM123 84h2v1h-2zM108 85h2v1h-2zM111 85h3v1h-3zM116 85h2v1h-2zM134 85h2v1h-2zM104 86h2v1h-2zM108 86h4v1h-4zM116 86h2v1h-2zM134 86h2v1h-2zM86 87h2v1h-2zM104 87h2v1h-2zM108 87h4v1h-4zM115 87h3v1h-3zM86 88h2v1h-2zM115 88h3v1h-3zM124 89h2v1h-2zM108 90h2v1h-2zM124 90h2v1h-2zM108 91h2v1h-2zM114 91h2v1h-2zM79 92h2v1h-2zM114 92h2v1h-2zM79 93h2v1h-2zM114 93h2v1h-2zM120 93h2v1h-2zM111 94h2v1h-2zM120 94h2v1h-2zM111 95h2v1h-2zM133 95h2v1h-2zM133 96h2v1h-2zM111 97h2v1h-2zM128 97h4v1h-4zM111 98h2v1h-2zM123 98h2v1h-2zM128 98h4v1h-4zM102 99h2v1h-2zM123 99h2v1h-2zM102 100h2v1h-2zM115 100h2v1h-2zM122 100h2v1h-2zM115 101h2v1h-2zM122 101h2v1h-2zM126 102h2v1h-2zM137 102h2v1h-2zM126 103h2v1h-2zM137 103h2v1h-2zM99 105h2v1h-2zM113 105h2v1h-2zM99 106h2v1h-2zM113 106h2v1h-2zM121 106h2v1h-2zM121 107h2v1h-2zM130 108h2v1h-2zM122 109h2v1h-2zM125 109h2v1h-2zM128 109h6v1h-6zM122 110h2v1h-2zM125 110h2v1h-2zM128 110h2v1h-2zM132 110h2v1h-2zM109 111h2v1h-2zM125 111h2v1h-2zM109 112h2v1h-2zM129 112h2v1h-2zM138 112h2v1h-2zM124 113h2v1h-2zM129 113h2v1h-2zM138 113h2v1h-2zM116 114h2v1h-2zM124 114h2v1h-2zM151 114h2v1h-2zM114 115h4v1h-4zM119 115h2v1h-2zM134 115h2v1h-2zM139 115h2v1h-2zM151 115h2v1h-2zM114 116h3v1h-3zM119 116h2v1h-2zM125 116h2v1h-2zM132 116h4v1h-4zM139 116h2v1h-2zM142 116h2v1h-2zM115 117h2v1h-2zM121 117h6v1h-6zM132 117h2v1h-2zM142 117h2v1h-2zM121 118h4v1h-4zM126 118h2v1h-2zM130 118h2v1h-2zM114 119h2v1h-2zM121 119h2v1h-2zM126 119h6v1h-6zM133 119h2v1h-2zM114 120h2v1h-2zM119 120h4v1h-4zM128 120h2v1h-2zM133 120h3v1h-3zM139 120h2v1h-2zM119 121h2v1h-2zM128 121h2v1h-2zM134 121h2v1h-2zM137 121h4v1h-4zM143 121h2v1h-2zM127 122h2v1h-2zM137 122h2v1h-2zM143 122h2v1h-2zM183 122h2v1h-2zM120 123h4v1h-4zM127 123h2v1h-2zM130 123h2v1h-2zM183 123h2v1h-2zM112 124h2v1h-2zM120 124h4v1h-4zM130 124h2v1h-2zM139 124h2v1h-2zM147 124h2v1h-2zM112 125h2v1h-2zM117 125h2v1h-2zM134 125h2v1h-2zM139 125h2v1h-2zM147 125h2v1h-2zM69 126h2v1h-2zM117 126h2v1h-2zM121 126h2v1h-2zM132 126h4v1h-4zM137 126h2v1h-2zM151 126h2v1h-2zM69 127h2v1h-2zM117 127h2v1h-2zM121 127h2v1h-2zM129 127h6v1h-6zM137 127h4v1h-4zM151 127h2v1h-2zM117 128h2v1h-2zM126 128h9v1h-9zM136 128h2v1h-2zM139 128h2v1h-2zM115 129h2v1h-2zM120 129h3v1h-3zM126 129h12v1h-12zM140 129h2v1h-2zM143 129h2v1h-2zM77 130h2v1h-2zM115 130h3v1h-3zM119 130h4v1h-4zM126 130h6v1h-6zM134 130h5v1h-5zM140 130h2v1h-2zM143 130h2v1h-2zM153 130h2v1h-2zM77 131h2v1h-2zM116 131h2v1h-2zM119 131h14v1h-14zM137 131h2v1h-2zM140 131h2v1h-2zM153 131h2v1h-2zM76 132h2v1h-2zM117 132h11v1h-11zM129 132h4v1h-4zM134 132h2v1h-2zM137 132h2v1h-2zM140 132h4v1h-4zM156 132h2v1h-2zM76 133h2v1h-2zM113 133h10v1h-10zM124 133h4v1h-4zM129 133h7v1h-7zM137 133h2v1h-2zM140 133h5v1h-5zM156 133h2v1h-2zM107 134h2v1h-2zM113 134h10v1h-10zM124 134h4v1h-4zM129 134h11v1h-11zM143 134h4v1h-4zM107 135h2v1h-2zM114 135h9v1h-9zM124 135h16v1h-16zM144 135h3v1h-3zM148 135h2v1h-2zM103 136h2v1h-2zM113 136h10v1h-10zM124 136h17v1h-17zM144 136h3v1h-3zM148 136h2v1h-2zM103 137h2v1h-2zM113 137h2v1h-2zM116 137h7v1h-7zM124 137h22v1h-22zM147 137h2v1h-2zM156 137h2v1h-2zM100 138h2v1h-2zM103 138h2v1h-2zM113 138h3v1h-3zM119 138h8v1h-8zM128 138h21v1h-21zM156 138h2v1h-2zM100 139h2v1h-2zM103 139h2v1h-2zM113 139h6v1h-6zM121 139h6v1h-6zM128 139h8v1h-8zM137 139h6v1h-6zM146 139h2v1h-2zM149 139h2v1h-2zM159 139h2v1h-2zM113 140h15v1h-15zM129 140h7v1h-7zM138 140h4v1h-4zM147 140h4v1h-4zM159 140h2v1h-2zM109 141h3v1h-3zM114 141h27v1h-27zM147 141h4v1h-4zM109 142h21v1h-21zM131 142h12v1h-12zM147 142h2v1h-2zM108 143h9v1h-9zM118 143h17v1h-17zM137 143h9v1h-9zM147 143h2v1h-2zM150 143h2v1h-2zM70 144h2v1h-2zM88 144h2v1h-2zM98 144h2v1h-2zM108 144h5v1h-5zM115 144h24v1h-24zM140 144h6v1h-6zM147 144h5v1h-5zM70 145h2v1h-2zM88 145h2v1h-2zM98 145h2v1h-2zM108 145h22v1h-22zM132 145h19v1h-19zM108 146h22v1h-22zM131 146h20v1h-20zM154 146h2v1h-2zM95 147h2v1h-2zM108 147h11v1h-11zM120 147h5v1h-5zM126 147h19v1h-19zM146 147h11v1h-11zM95 148h2v1h-2zM101 148h4v1h-4zM108 148h12v1h-12zM121 148h33v1h-33zM155 148h2v1h-2zM101 149h4v1h-4zM108 149h8v1h-8zM118 149h24v1h-24zM144 149h10v1h-10zM97 150h2v1h-2zM106 150h42v1h-42zM149 150h5v1h-5zM92 151h2v1h-2zM97 151h2v1h-2zM106 151h28v1h-28zM136 151h11v1h-11zM149 151h3v1h-3zM92 152h2v1h-2zM95 152h2v1h-2zM100 152h2v1h-2zM106 152h2v1h-2zM109 152h2v1h-2zM113 152h34v1h-34zM149 152h5v1h-5zM95 153h2v1h-2zM100 153h2v1h-2zM109 153h4v1h-4zM114 153h4v1h-4zM119 153h28v1h-28zM148 153h3v1h-3zM152 153h2v1h-2zM104 154h2v1h-2zM108 154h5v1h-5zM114 154h3v1h-3zM119 154h4v1h-4zM124 154h28v1h-28zM95 155h2v1h-2zM104 155h2v1h-2zM108 155h4v1h-4zM114 155h26v1h-26zM141 155h8v1h-8zM150 155h3v1h-3zM95 156h2v1h-2zM103 156h2v1h-2zM106 156h3v1h-3zM110 156h30v1h-30zM141 156h12v1h-12zM156 156h2v1h-2zM90 157h2v1h-2zM103 157h2v1h-2zM106 157h34v1h-34zM141 157h17v1h-17zM73 158h2v1h-2zM90 158h2v1h-2zM104 158h6v1h-6zM111 158h35v1h-35zM148 158h9v1h-9zM160 158h2v1h-2zM73 159h2v1h-2zM102 159h55v1h-55zM160 159h2v1h-2zM102 160h3v1h-3zM108 160h7v1h-7zM116 160h41v1h-41zM105 161h2v1h-2zM109 161h10v1h-10zM120 161h33v1h-33zM99 162h2v1h-2zM104 162h3v1h-3zM112 162h41v1h-41zM77 163h2v1h-2zM82 163h2v1h-2zM99 163h2v1h-2zM102 163h4v1h-4zM108 163h49v1h-49zM58 164h2v1h-2zM77 164h2v1h-2zM82 164h2v1h-2zM102 164h14v1h-14zM117 164h28v1h-28zM146 164h11v1h-11zM163 164h2v1h-2zM58 165h2v1h-2zM104 165h8v1h-8zM113 165h2v1h-2zM116 165h29v1h-29zM146 165h4v1h-4zM151 165h6v1h-6zM163 165h2v1h-2zM94 166h1v1h-1zM100 166h2v1h-2zM104 166h14v1h-14zM119 166h32v1h-32zM152 166h5v1h-5zM93 167h2v1h-2zM100 167h2v1h-2zM104 167h13v1h-13zM118 167h28v1h-28zM147 167h5v1h-5zM154 167h2v1h-2zM98 168h2v1h-2zM106 168h40v1h-40zM147 168h2v1h-2zM150 168h6v1h-6zM98 169h2v1h-2zM109 169h15v1h-15zM125 169h24v1h-24zM150 169h6v1h-6zM105 170h6v1h-6zM112 170h3v1h-3zM117 170h20v1h-20zM138 170h15v1h-15zM96 171h2v1h-2zM103 171h7v1h-7zM111 171h5v1h-5zM117 171h20v1h-20zM138 171h9v1h-9zM148 171h7v1h-7zM96 172h2v1h-2zM103 172h7v1h-7zM111 172h2v1h-2zM114 172h22v1h-22zM137 172h10v1h-10zM148 172h2v1h-2zM153 172h2v1h-2zM102 173h2v1h-2zM106 173h6v1h-6zM113 173h1v1h-1zM116 173h15v1h-15zM132 173h4v1h-4zM137 173h13v1h-13zM159 173h2v1h-2zM99 174h2v1h-2zM102 174h2v1h-2zM108 174h7v1h-7zM117 174h15v1h-15zM133 174h3v1h-3zM137 174h8v1h-8zM146 174h5v1h-5zM159 174h2v1h-2zM75 175h2v1h-2zM99 175h2v1h-2zM108 175h4v1h-4zM113 175h23v1h-23zM138 175h6v1h-6zM146 175h2v1h-2zM149 175h2v1h-2zM75 176h1v1h-1zM106 176h11v1h-11zM118 176h3v1h-3zM122 176h15v1h-15zM138 176h6v1h-6zM145 176h4v1h-4zM77 177h2v1h-2zM106 177h1v1h-1zM108 177h2v1h-2zM112 177h37v1h-37zM150 177h6v1h-6zM101 178h2v1h-2zM104 178h2v1h-2zM108 178h7v1h-7zM116 178h29v1h-29zM146 178h10v1h-10zM101 179h2v1h-2zM105 179h1v1h-1zM107 179h6v1h-6zM114 179h17v1h-17zM132 179h13v1h-13zM146 179h9v1h-9zM107 180h5v1h-5zM114 180h4v1h-4zM120 180h26v1h-26zM147 180h2v1h-2zM109 181h18v1h-18zM129 181h5v1h-5zM135 181h11v1h-11zM147 181h4v1h-4zM107 182h4v1h-4zM112 182h15v1h-15zM128 182h20v1h-20zM149 182h5v1h-5zM109 183h2v1h-2zM112 183h2v1h-2zM116 183h32v1h-32zM149 183h5v1h-5zM112 184h9v1h-9zM122 184h31v1h-31zM112 185h4v1h-4zM117 185h4v1h-4zM122 185h14v1h-14zM139 185h13v1h-13zM109 186h3v1h-3zM113 186h4v1h-4zM119 186h2v1h-2zM122 186h12v1h-12zM139 186h6v1h-6zM110 187h8v1h-8zM119 187h26v1h-26zM146 187h2v1h-2zM151 187h2v1h-2zM110 188h3v1h-3zM116 188h3v1h-3zM120 188h5v1h-5zM127 188h2v1h-2zM130 188h10v1h-10zM143 188h7v1h-7zM151 188h2v1h-2zM107 189h2v1h-2zM111 189h3v1h-3zM115 189h4v1h-4zM121 189h4v1h-4zM126 189h3v1h-3zM131 189h9v1h-9zM141 189h2v1h-2zM144 189h7v1h-7zM107 190h2v1h-2zM111 190h8v1h-8zM120 190h16v1h-16zM137 190h14v1h-14zM105 191h2v1h-2zM112 191h22v1h-22zM135 191h14v1h-14zM100 192h1v1h-1zM105 192h2v1h-2zM110 192h2v1h-2zM115 192h9v1h-9zM126 192h17v1h-17zM145 192h2v1h-2zM148 192h2v1h-2zM101 193h1v1h-1zM107 193h1v1h-1zM110 193h2v1h-2zM113 193h11v1h-11zM125 193h4v1h-4zM130 193h5v1h-5zM136 193h9v1h-9zM148 193h2v1h-2zM106 194h2v1h-2zM109 194h2v1h-2zM113 194h9v1h-9zM124 194h5v1h-5zM132 194h2v1h-2zM135 194h11v1h-11zM109 195h2v1h-2zM115 195h4v1h-4zM120 195h2v1h-2zM124 195h5v1h-5zM131 195h2v1h-2zM135 195h12v1h-12zM152 195h2v1h-2zM117 196h6v1h-6zM125 196h8v1h-8zM135 196h8v1h-8zM145 196h2v1h-2zM152 196h2v1h-2zM109 197h2v1h-2zM118 197h5v1h-5zM126 197h2v1h-2zM129 197h14v1h-14zM109 198h2v1h-2zM117 198h5v1h-5zM123 198h5v1h-5zM129 198h2v1h-2zM132 198h11v1h-11zM109 199h2v1h-2zM117 199h2v1h-2zM121 199h6v1h-6zM128 199h3v1h-3zM133 199h3v1h-3zM139 199h2v1h-2zM121 200h2v1h-2zM127 200h4v1h-4zM132 200h2v1h-2zM135 200h2v1h-2zM138 200h2v1h-2zM127 201h3v1h-3zM132 201h2v1h-2zM135 201h2v1h-2zM138 201h4v1h-4zM118 202h2v1h-2zM127 202h3v1h-3zM132 202h2v1h-2zM140 202h2v1h-2zM118 203h4v1h-4zM138 203h2v1h-2zM115 204h2v1h-2zM120 204h4v1h-4zM138 204h3v1h-3zM115 205h2v1h-2zM122 205h2v1h-2zM127 205h2v1h-2zM130 205h4v1h-4zM135 205h2v1h-2zM139 205h2v1h-2zM154 205h2v1h-2zM126 206h3v1h-3zM130 206h4v1h-4zM135 206h2v1h-2zM154 206h3v1h-3zM126 207h2v1h-2zM155 207h2v1h-2zM126 208h2v1h-2zM129 208h2v1h-2zM148 208h2v1h-2zM126 209h2v1h-2zM129 209h2v1h-2zM133 209h2v1h-2zM148 209h2v1h-2zM133 210h2v1h-2zM133 211h2v1h-2zM133 212h2v1h-2zM146 214h2v1h-2zM146 215h2v1h-2zM135 216h2v1h-2zM135 217h2v1h-2zM81 220h2v1h-2zM82 221h1v1h-1zM115 221h2v1h-2zM115 222h2v1h-2zM124 225h2v1h-2zM124 226h2v1h-2zM86 230h2v1h-2zM86 231h2v1h-2z" fill="#ff0000"/>
<path d="M106 25h1v1h-1zM74 40h1v1h-1zM75 67h1v1h-1zM82 68h1v1h-1zM53 71h1v1h-1zM73 74h1v1h-1zM46 75h1v1h-1zM75 81h1v1h-1zM96 81h1v1h-1zM68 88h1v1h-1zM66 89h1v1h-1zM84 93h1v1h-1zM72 97h1v1h-1zM57 99h1v1h-1zM66 102h1v1h-1zM85 104h1v1h-1zM103 108h1v1h-1zM51 110h1v1h-1zM36 118h1v1h-1zM47 120h1v1h-1zM93 120h1v1h-1zM78 122h1v1h-1zM79 126h1v1h-1zM58 128h1v1h-1zM91 132h1v1h-1zM52 133h1v1h-1zM57 136h1v1h-1zM40 139h1v1h-1zM64 139h1v1h-1zM68 141h1v1h-1zM82 146h1v1h-1zM86 156h1v1h-1zM16 158h1v1h-1zM41 160h1v1h-1zM55 160h1v1h-1zM50 162h1v1h-1zM43 163h1v1h-1zM53 163h1v1h-1zM92 165h1v1h-1zM22 166h1v1h-1zM31 166h1v1h-1zM35 166h1v1h-1zM40 166h1v1h-1zM46 166h1v1h-1zM52 166h1v1h-1zM59 166h1v1h-1zM62 166h1v1h-1zM79 166h1v1h-1zM87 166h1v1h-1zM93 166h1v1h-1zM58 167h1v1h-1zM80 167h1v1h-1zM47 168h1v1h-1zM53 168h1v1h-1zM82 168h2v1h-2zM31 169h1v1h-1zM49 169h1v1h-1zM53 169h1v1h-1zM45 170h1v1h-1zM78 170h1v1h-1zM36 171h2v1h-2zM39 171h1v1h-1zM45 171h1v1h-1zM57 171h1v1h-1zM59 171h2v1h-2zM64 171h1v1h-1zM74 171h1v1h-1zM81 171h1v1h-1zM86 171h1v1h-1zM88 171h1v1h-1zM13 172h1v1h-1zM33 172h1v1h-1zM40 172h1v1h-1zM52 172h1v1h-1zM55 172h1v1h-1zM60 172h1v1h-1zM64 172h1v1h-1zM67 172h3v1h-3zM71 172h1v1h-1zM78 172h1v1h-1zM80 172h1v1h-1zM91 172h1v1h-1zM94 172h1v1h-1zM113 172h1v1h-1zM29 173h1v1h-1zM36 173h1v1h-1zM40 173h1v1h-1zM43 173h1v1h-1zM45 173h2v1h-2zM51 173h3v1h-3zM55 173h1v1h-1zM59 173h1v1h-1zM61 173h1v1h-1zM73 173h1v1h-1zM77 173h2v1h-2zM81 173h1v1h-1zM88 173h2v1h-2zM112 173h1v1h-1zM24 174h1v1h-1zM40 174h1v1h-1zM46 174h5v1h-5zM52 174h1v1h-1zM56 174h2v1h-2zM59 174h1v1h-1zM61 174h2v1h-2zM68 174h1v1h-1zM70 174h1v1h-1zM72 174h1v1h-1zM75 174h1v1h-1zM77 174h1v1h-1zM81 174h2v1h-2zM86 174h1v1h-1zM95 174h1v1h-1zM9 175h1v1h-1zM17 175h2v1h-2zM23 175h1v1h-1zM32 175h1v1h-1zM44 175h2v1h-2zM47 175h3v1h-3zM51 175h1v1h-1zM56 175h1v1h-1zM61 175h1v1h-1zM63 175h1v1h-1zM65 175h1v1h-1zM70 175h1v1h-1zM72 175h1v1h-1zM77 175h1v1h-1zM79 175h1v1h-1zM85 175h1v1h-1zM88 175h1v1h-1zM91 175h1v1h-1zM31 176h1v1h-1zM33 176h1v1h-1zM39 176h1v1h-1zM41 176h1v1h-1zM43 176h9v1h-9zM55 176h2v1h-2zM59 176h1v1h-1zM61 176h4v1h-4zM67 176h2v1h-2zM70 176h2v1h-2zM74 176h1v1h-1zM76 176h1v1h-1zM79 176h1v1h-1zM87 176h1v1h-1zM93 176h1v1h-1zM8 177h3v1h-3zM22 177h1v1h-1zM33 177h2v1h-2zM37 177h1v1h-1zM43 177h1v1h-1zM45 177h2v1h-2zM49 177h2v1h-2zM52 177h4v1h-4zM57 177h2v1h-2zM60 177h2v1h-2zM63 177h2v1h-2zM66 177h3v1h-3zM71 177h2v1h-2zM74 177h1v1h-1zM80 177h4v1h-4zM89 177h1v1h-1zM92 177h1v1h-1zM94 177h1v1h-1zM105 177h1v1h-1zM107 177h1v1h-1zM22 178h3v1h-3zM31 178h1v1h-1zM33 178h1v1h-1zM36 178h1v1h-1zM39 178h4v1h-4zM45 178h26v1h-26zM72 178h11v1h-11zM84 178h1v1h-1zM86 178h1v1h-1zM90 178h1v1h-1zM15 179h1v1h-1zM22 179h1v1h-1zM28 179h3v1h-3zM35 179h5v1h-5zM41 179h35v1h-35zM77 179h2v1h-2zM80 179h2v1h-2zM84 179h1v1h-1zM88 179h3v1h-3zM92 179h2v1h-2zM96 179h2v1h-2zM104 179h1v1h-1zM1 180h1v1h-1zM22 180h3v1h-3zM26 180h1v1h-1zM30 180h1v1h-1zM32 180h1v1h-1zM34 180h1v1h-1zM36 180h20v1h-20zM57 180h7v1h-7zM65 180h14v1h-14zM80 180h4v1h-4zM86 180h1v1h-1zM89 180h1v1h-1zM99 180h2v1h-2zM112 180h1v1h-1zM20 181h1v1h-1zM31 181h1v1h-1zM33 181h1v1h-1zM35 181h12v1h-12zM48 181h37v1h-37zM86 181h6v1h-6zM102 181h1v1h-1zM107 181h2v1h-2zM16 182h1v1h-1zM21 182h2v1h-2zM26 182h1v1h-1zM28 182h3v1h-3zM33 182h1v1h-1zM35 182h22v1h-22zM58 182h27v1h-27zM91 182h1v1h-1zM94 182h2v1h-2zM97 182h3v1h-3zM16 183h1v1h-1zM19 183h1v1h-1zM25 183h1v1h-1zM28 183h2v1h-2zM31 183h59v1h-59zM91 183h1v1h-1zM97 183h1v1h-1zM102 183h1v1h-1zM114 183h1v1h-1zM18 184h1v1h-1zM20 184h1v1h-1zM22 184h3v1h-3zM27 184h36v1h-36zM64 184h25v1h-25zM91 184h2v1h-2zM94 184h2v1h-2zM104 184h1v1h-1zM106 184h3v1h-3zM110 184h1v1h-1zM18 185h2v1h-2zM22 185h1v1h-1zM25 185h1v1h-1zM27 185h18v1h-18zM46 185h44v1h-44zM91 185h1v1h-1zM93 185h3v1h-3zM99 185h1v1h-1zM106 185h1v1h-1zM8 186h1v1h-1zM12 186h1v1h-1zM15 186h1v1h-1zM19 186h1v1h-1zM21 186h8v1h-8zM30 186h15v1h-15zM46 186h45v1h-45zM93 186h1v1h-1zM101 186h1v1h-1zM105 186h1v1h-1zM6 187h1v1h-1zM18 187h1v1h-1zM20 187h1v1h-1zM24 187h61v1h-61zM86 187h7v1h-7zM94 187h3v1h-3zM99 187h2v1h-2zM104 187h2v1h-2zM109 187h1v1h-1zM17 188h1v1h-1zM20 188h2v1h-2zM25 188h69v1h-69zM96 188h1v1h-1zM107 188h1v1h-1zM115 188h1v1h-1zM4 189h1v1h-1zM6 189h1v1h-1zM8 189h1v1h-1zM13 189h1v1h-1zM18 189h2v1h-2zM23 189h51v1h-51zM75 189h8v1h-8zM84 189h10v1h-10zM104 189h1v1h-1zM130 189h1v1h-1zM5 190h1v1h-1zM8 190h1v1h-1zM11 190h1v1h-1zM17 190h1v1h-1zM19 190h1v1h-1zM21 190h3v1h-3zM25 190h72v1h-72zM98 190h2v1h-2zM109 190h1v1h-1zM16 191h2v1h-2zM19 191h1v1h-1zM22 191h8v1h-8zM31 191h21v1h-21zM53 191h31v1h-31zM85 191h11v1h-11zM97 191h1v1h-1zM100 191h1v1h-1zM102 191h1v1h-1zM111 191h1v1h-1zM5 192h1v1h-1zM12 192h1v1h-1zM17 192h1v1h-1zM20 192h1v1h-1zM22 192h17v1h-17zM40 192h34v1h-34zM75 192h21v1h-21zM97 192h2v1h-2zM101 192h1v1h-1zM104 192h1v1h-1zM109 192h1v1h-1zM8 193h1v1h-1zM22 193h37v1h-37zM60 193h11v1h-11zM72 193h18v1h-18zM91 193h2v1h-2zM94 193h5v1h-5zM100 193h1v1h-1zM102 193h2v1h-2zM105 193h2v1h-2zM15 194h2v1h-2zM18 194h1v1h-1zM20 194h5v1h-5zM26 194h21v1h-21zM48 194h12v1h-12zM61 194h2v1h-2zM64 194h11v1h-11zM76 194h20v1h-20zM98 194h1v1h-1zM100 194h1v1h-1zM14 195h1v1h-1zM17 195h2v1h-2zM20 195h1v1h-1zM22 195h1v1h-1zM24 195h2v1h-2zM27 195h52v1h-52zM80 195h14v1h-14zM96 195h1v1h-1zM99 195h1v1h-1zM102 195h1v1h-1zM114 195h1v1h-1zM2 196h1v1h-1zM18 196h1v1h-1zM21 196h1v1h-1zM23 196h1v1h-1zM25 196h29v1h-29zM55 196h42v1h-42zM100 196h2v1h-2zM103 196h1v1h-1zM108 196h1v1h-1zM9 197h1v1h-1zM16 197h1v1h-1zM19 197h2v1h-2zM22 197h1v1h-1zM24 197h70v1h-70zM95 197h1v1h-1zM99 197h1v1h-1zM101 197h2v1h-2zM112 197h1v1h-1zM116 197h1v1h-1zM3 198h1v1h-1zM7 198h1v1h-1zM13 198h1v1h-1zM18 198h1v1h-1zM21 198h18v1h-18zM40 198h7v1h-7zM48 198h27v1h-27zM76 198h20v1h-20zM97 198h1v1h-1zM100 198h3v1h-3zM108 198h1v1h-1zM18 199h1v1h-1zM20 199h1v1h-1zM23 199h7v1h-7zM31 199h20v1h-20zM52 199h41v1h-41zM96 199h2v1h-2zM100 199h1v1h-1zM102 199h2v1h-2zM17 200h5v1h-5zM25 200h1v1h-1zM27 200h38v1h-38zM66 200h26v1h-26zM93 200h5v1h-5zM100 200h2v1h-2zM104 200h1v1h-1zM10 201h1v1h-1zM16 201h1v1h-1zM25 201h25v1h-25zM51 201h2v1h-2zM54 201h38v1h-38zM93 201h4v1h-4zM100 201h2v1h-2zM104 201h1v1h-1zM108 201h1v1h-1zM115 201h1v1h-1zM18 202h1v1h-1zM22 202h1v1h-1zM24 202h65v1h-65zM91 202h1v1h-1zM94 202h2v1h-2zM7 203h1v1h-1zM27 203h1v1h-1zM30 203h2v1h-2zM33 203h51v1h-51zM85 203h7v1h-7zM93 203h1v1h-1zM96 203h5v1h-5zM14 204h1v1h-1zM17 204h2v1h-2zM21 204h1v1h-1zM28 204h61v1h-61zM91 204h1v1h-1zM93 204h2v1h-2zM96 204h1v1h-1zM100 204h3v1h-3zM4 205h1v1h-1zM14 205h1v1h-1zM17 205h1v1h-1zM21 205h1v1h-1zM25 205h1v1h-1zM27 205h1v1h-1zM29 205h1v1h-1zM32 205h48v1h-48zM81 205h5v1h-5zM89 205h1v1h-1zM94 205h1v1h-1zM96 205h1v1h-1zM99 205h1v1h-1zM101 205h1v1h-1zM9 206h1v1h-1zM20 206h1v1h-1zM25 206h1v1h-1zM27 206h2v1h-2zM32 206h2v1h-2zM36 206h47v1h-47zM84 206h1v1h-1zM87 206h2v1h-2zM91 206h2v1h-2zM95 206h2v1h-2zM13 207h1v1h-1zM22 207h1v1h-1zM26 207h1v1h-1zM30 207h6v1h-6zM37 207h3v1h-3zM41 207h1v1h-1zM43 207h41v1h-41zM85 207h2v1h-2zM90 207h3v1h-3zM94 207h1v1h-1zM96 207h2v1h-2zM99 207h1v1h-1zM109 207h1v1h-1zM23 208h1v1h-1zM25 208h1v1h-1zM30 208h1v1h-1zM33 208h1v1h-1zM35 208h2v1h-2zM39 208h38v1h-38zM78 208h1v1h-1zM81 208h2v1h-2zM84 208h3v1h-3zM88 208h2v1h-2zM97 208h1v1h-1zM5 209h1v1h-1zM24 209h1v1h-1zM29 209h1v1h-1zM35 209h2v1h-2zM38 209h1v1h-1zM40 209h3v1h-3zM44 209h21v1h-21zM66 209h10v1h-10zM78 209h1v1h-1zM81 209h1v1h-1zM83 209h1v1h-1zM85 209h1v1h-1zM91 209h1v1h-1zM105 209h1v1h-1zM27 210h1v1h-1zM29 210h1v1h-1zM40 210h3v1h-3zM46 210h7v1h-7zM54 210h9v1h-9zM64 210h2v1h-2zM67 210h1v1h-1zM70 210h1v1h-1zM72 210h2v1h-2zM76 210h1v1h-1zM79 210h1v1h-1zM88 210h2v1h-2zM91 210h1v1h-1zM101 210h1v1h-1zM13 211h1v1h-1zM32 211h2v1h-2zM36 211h4v1h-4zM41 211h2v1h-2zM45 211h1v1h-1zM49 211h2v1h-2zM52 211h3v1h-3zM56 211h3v1h-3zM60 211h1v1h-1zM62 211h1v1h-1zM64 211h4v1h-4zM70 211h1v1h-1zM73 211h2v1h-2zM79 211h1v1h-1zM82 211h1v1h-1zM87 211h1v1h-1zM21 212h1v1h-1zM27 212h2v1h-2zM30 212h1v1h-1zM35 212h1v1h-1zM37 212h1v1h-1zM39 212h2v1h-2zM42 212h1v1h-1zM45 212h1v1h-1zM47 212h2v1h-2zM50 212h1v1h-1zM52 212h4v1h-4zM57 212h3v1h-3zM64 212h2v1h-2zM68 212h1v1h-1zM71 212h3v1h-3zM88 212h2v1h-2zM91 212h1v1h-1zM101 212h1v1h-1zM14 213h1v1h-1zM32 213h1v1h-1zM40 213h2v1h-2zM46 213h1v1h-1zM49 213h1v1h-1zM51 213h1v1h-1zM55 213h3v1h-3zM59 213h6v1h-6zM67 213h4v1h-4zM72 213h1v1h-1zM76 213h1v1h-1zM80 213h2v1h-2zM88 213h1v1h-1zM90 213h1v1h-1zM16 214h2v1h-2zM33 214h1v1h-1zM36 214h2v1h-2zM40 214h1v1h-1zM44 214h1v1h-1zM47 214h1v1h-1zM49 214h2v1h-2zM52 214h1v1h-1zM55 214h4v1h-4zM62 214h1v1h-1zM66 214h1v1h-1zM72 214h2v1h-2zM75 214h2v1h-2zM79 214h1v1h-1zM82 214h2v1h-2zM6 215h1v1h-1zM25 215h1v1h-1zM28 215h1v1h-1zM36 215h1v1h-1zM38 215h2v1h-2zM43 215h2v1h-2zM50 215h1v1h-1zM55 215h5v1h-5zM63 215h1v1h-1zM66 215h1v1h-1zM68 215h1v1h-1zM71 215h1v1h-1zM77 215h3v1h-3zM85 215h1v1h-1zM93 215h1v1h-1zM33 216h1v1h-1zM49 216h2v1h-2zM53 216h1v1h-1zM58 216h1v1h-1zM61 216h1v1h-1zM63 216h1v1h-1zM66 216h1v1h-1zM69 216h1v1h-1zM71 216h1v1h-1zM77 216h1v1h-1zM88 216h1v1h-1zM112 216h1v1h-1zM13 217h1v1h-1zM42 217h1v1h-1zM44 217h1v1h-1zM47 217h2v1h-2zM58 217h1v1h-1zM64 217h1v1h-1zM68 217h1v1h-1zM74 217h1v1h-1zM24 218h1v1h-1zM27 218h1v1h-1zM41 218h1v1h-1zM46 218h1v1h-1zM54 218h1v1h-1zM62 218h1v1h-1zM64 218h2v1h-2zM70 218h1v1h-1zM48 219h1v1h-1zM62 219h1v1h-1zM68 219h1v1h-1zM72 219h1v1h-1zM77 219h1v1h-1zM35 220h1v1h-1zM41 220h1v1h-1zM52 220h1v1h-1zM56 220h1v1h-1zM66 220h1v1h-1zM52 221h1v1h-1zM66 221h2v1h-2zM81 221h1v1h-1zM96 221h1v1h-1zM43 222h1v1h-1zM60 222h1v1h-1zM64 222h1v1h-1zM52 223h1v1h-1zM65 223h1v1h-1zM77 223h1v1h-1zM5 224h1v1h-1zM72 224h1v1h-1zM65 225h1v1h-1zM67 226h1v1h-1zM76 227h1v1h-1zM65 228h1v1h-1zM93 235h1v1h-1z" fill="#ff00ff"/>
</g></g>
<text font-size="32.3" fill="#ffffff" class="bi" transform="translate(1160.6 1142.5) rotate(-89.5) scale(1.24 1)" textLength="321.4" lengthAdjust="spacing" stroke="#ffffff" stroke-width="1.8" stroke-linejoin="round">CD117:PE-Cy7-A--&gt;</text>
<text font-size="35.5" fill="#00ff00" class="b" transform="translate(1224.5 1253.5) skewY(11.7) skewX(-7) scale(1.04 1)" textLength="325" lengthAdjust="spacing" stroke="#00ff00" stroke-width="1.5" stroke-linejoin="round">CD133:APC-A--&gt;</text>
<text font-size="40" fill="#00ffff" class="bi" transform="translate(872.5 1400) skewY(-29.2) scale(0.8 1)" textLength="245" lengthAdjust="spacing" stroke="#00ffff" stroke-width="1.7" stroke-linejoin="round">&lt;--CD33:PE-A</text>
</g>
<text x="46.2" y="1928" font-size="42" fill="#000" class="b" textLength="22.6" lengthAdjust="spacingAndGlyphs" stroke="#000" stroke-width="1" stroke-linejoin="round">B</text>
<g id="chart1">
<rect x="177.4" y="2126.5" width="97.6" height="137.3" fill="#2683c2"/>
<rect x="421.6" y="2072.8" width="96.4" height="191" fill="#de504e"/>
<path d="M227.1 2126.5V2123.8M220.8 2123.8H233.4M470.3 2072.8V2069M463.3 2069H477.3" fill="none" stroke="#1c1c1c" stroke-width="1.7"/>
<path d="M105.5 2030.1V2277.1M95.2 2263.8H591.9M347.7 2263.8V2277.1M591.9 2263.8V2277.1M95.2 2030.1H105.5M95.2 2108.4H105.5M95.2 2185.7H105.5" fill="none" stroke="#8a8a8a" stroke-width="1.5"/>
<text x="31.1" y="2039" font-size="24.8" fill="#0d0d0d" textLength="44.1" lengthAdjust="spacingAndGlyphs" stroke="#0d0d0d" stroke-width="1.4" stroke-linejoin="round">150</text>
<text x="31.1" y="2117.3" font-size="24.8" fill="#0d0d0d" textLength="44.1" lengthAdjust="spacingAndGlyphs" stroke="#0d0d0d" stroke-width="1.4" stroke-linejoin="round">100</text>
<text x="45.8" y="2194.6" font-size="24.8" fill="#0d0d0d" textLength="29.4" lengthAdjust="spacingAndGlyphs" stroke="#0d0d0d" stroke-width="1.4" stroke-linejoin="round">50</text>
<text x="60.5" y="2272.7" font-size="24.8" fill="#0d0d0d" textLength="14.7" lengthAdjust="spacingAndGlyphs" stroke="#0d0d0d" stroke-width="1.4" stroke-linejoin="round">0</text>
<line x1="263" y1="2076.7" x2="402.4" y2="2076.7" stroke="#9cc3e6" stroke-width="1.5"/>
<text font-size="23" fill="#161616" class="b" transform="translate(304.8 2077.2) scale(1.0 1)" textLength="36.3" lengthAdjust="spacing">***</text>
<text font-size="29" fill="#0d0d0d" stroke="#0d0d0d" stroke-width="1.15" stroke-linejoin="round"><tspan x="159.6" y="1965" textLength="107.9" lengthAdjust="spacingAndGlyphs">CD133+</tspan> <tspan x="273.4" y="1965" textLength="140" lengthAdjust="spacingAndGlyphs">CD34+low</tspan> <tspan x="419.3" y="1965" textLength="167" lengthAdjust="spacingAndGlyphs">CD38+low/-</tspan></text>
<text font-size="35" fill="#000" class="b" stroke="#000" stroke-width="1.0" stroke-linejoin="round"><tspan x="166.3" y="2329.6" textLength="116.3" lengthAdjust="spacingAndGlyphs">shRNA</tspan></text>
<text font-size="35" fill="#000" class="b" stroke="#000" stroke-width="1.0" stroke-linejoin="round"><tspan x="388.8" y="2329.6" textLength="106.5" lengthAdjust="spacingAndGlyphs">shFAK</tspan> <tspan x="505" y="2329.6" textLength="49" lengthAdjust="spacingAndGlyphs">KD</tspan></text>
</g>
<g id="chart2">
<rect x="765.2" y="2152.4" width="81" height="120.1" fill="#2683c2"/>
<rect x="969.9" y="2117.8" width="80.9" height="154.7" fill="#de504e"/>
<path d="M805.7 2152.4V2150M798.8 2150H812.6M1010 2117.8V2086.4M1002.5 2086.4H1017.5" fill="none" stroke="#1c1c1c" stroke-width="1.7"/>
<path d="M704.2 2054.5V2285.5M693.4 2272.5H1112.2M907.9 2272.5V2285.5M1112.2 2272.5V2285.5M693.4 2054.5H704.2M693.4 2109.3H704.2M693.4 2164.1H704.2M693.4 2217.6H704.2" fill="none" stroke="#8a8a8a" stroke-width="1.5"/>
<text x="631" y="2062.3" font-size="24.8" fill="#0d0d0d" textLength="43.2" lengthAdjust="spacingAndGlyphs" stroke="#0d0d0d" stroke-width="1.4" stroke-linejoin="round">400</text>
<text x="631" y="2117.1" font-size="24.8" fill="#0d0d0d" textLength="43.2" lengthAdjust="spacingAndGlyphs" stroke="#0d0d0d" stroke-width="1.4" stroke-linejoin="round">300</text>
<text x="631" y="2171.9" font-size="24.8" fill="#0d0d0d" textLength="43.2" lengthAdjust="spacingAndGlyphs" stroke="#0d0d0d" stroke-width="1.4" stroke-linejoin="round">200</text>
<text x="631" y="2225.4" font-size="24.8" fill="#0d0d0d" textLength="43.2" lengthAdjust="spacingAndGlyphs" stroke="#0d0d0d" stroke-width="1.4" stroke-linejoin="round">100</text>
<text x="659.8" y="2280.3" font-size="24.8" fill="#0d0d0d" textLength="14.4" lengthAdjust="spacingAndGlyphs" stroke="#0d0d0d" stroke-width="1.4" stroke-linejoin="round">0</text>
<line x1="828.9" y1="2074" x2="968.6" y2="2074" stroke="#9cc3e6" stroke-width="1.5"/>
<text font-size="23" fill="#161616" class="b" transform="translate(870 2076.1) scale(1.0 1)" textLength="23.7" lengthAdjust="spacing">**</text>
<text font-size="29" fill="#0d0d0d" stroke="#0d0d0d" stroke-width="1.15" stroke-linejoin="round"><tspan x="654.4" y="1959.8" textLength="167.1" lengthAdjust="spacingAndGlyphs">CD34+low/-</tspan> <tspan x="826.4" y="1959.8" textLength="90.7" lengthAdjust="spacingAndGlyphs">CD38+</tspan> <tspan x="922.7" y="1959.8" textLength="109.7" lengthAdjust="spacingAndGlyphs">CD117+</tspan> <tspan x="799.4" y="2000" textLength="86.1" lengthAdjust="spacingAndGlyphs">CD33-</tspan></text>
<text font-size="35" fill="#000" class="b" stroke="#000" stroke-width="1.0" stroke-linejoin="round"><tspan x="747.7" y="2338.3" textLength="117" lengthAdjust="spacingAndGlyphs">shRNA</tspan></text>
<text font-size="35" fill="#000" class="b" stroke="#000" stroke-width="1.0" stroke-linejoin="round"><tspan x="932.1" y="2338.3" textLength="106.2" lengthAdjust="spacingAndGlyphs">shFAK</tspan> <tspan x="1048.8" y="2338.3" textLength="48.1" lengthAdjust="spacingAndGlyphs">KD</tspan></text>
</g>
<g id="chart3">
<rect x="1284.8" y="2178.8" width="85.5" height="100.2" fill="#2683c2"/>
<rect x="1499.6" y="2081.9" width="85.4" height="197.1" fill="#de504e"/>
<path d="M1327.5 2178.8V2177.6M1321 2177.6H1334M1542.3 2081.9V2080.9M1535.8 2080.9H1548.8" fill="none" stroke="#1c1c1c" stroke-width="1.7"/>
<path d="M1221.8 2054.5V2292M1210.7 2279H1648.7M1434.9 2279V2292M1648.7 2279V2292M1210.7 2054.5H1221.8M1210.7 2110.9H1221.8M1210.7 2167H1221.8M1210.7 2222.5H1221.8" fill="none" stroke="#8a8a8a" stroke-width="1.5"/>
<text x="1133.2" y="2062.3" font-size="24.8" fill="#0d0d0d" textLength="60.8" lengthAdjust="spacingAndGlyphs" stroke="#0d0d0d" stroke-width="1.4" stroke-linejoin="round">1300</text>
<text x="1133.2" y="2118.7" font-size="24.8" fill="#0d0d0d" textLength="60.8" lengthAdjust="spacingAndGlyphs" stroke="#0d0d0d" stroke-width="1.4" stroke-linejoin="round">1200</text>
<text x="1133.2" y="2174.8" font-size="24.8" fill="#0d0d0d" textLength="60.8" lengthAdjust="spacingAndGlyphs" stroke="#0d0d0d" stroke-width="1.4" stroke-linejoin="round">1100</text>
<text x="1133.2" y="2230.3" font-size="24.8" fill="#0d0d0d" textLength="60.8" lengthAdjust="spacingAndGlyphs" stroke="#0d0d0d" stroke-width="1.4" stroke-linejoin="round">1000</text>
<text x="1148.4" y="2286.8" font-size="24.8" fill="#0d0d0d" textLength="45.6" lengthAdjust="spacingAndGlyphs" stroke="#0d0d0d" stroke-width="1.4" stroke-linejoin="round">900</text>
<line x1="1337.7" y1="2077" x2="1477.4" y2="2077" stroke="#9cc3e6" stroke-width="1.5"/>
<text font-size="23" fill="#161616" class="b" transform="translate(1379.8 2077.7) scale(1.0 1)" textLength="35.9" lengthAdjust="spacing">***</text>
<text font-size="29" fill="#0d0d0d" stroke="#0d0d0d" stroke-width="1.15" stroke-linejoin="round"><tspan x="1199.8" y="1961.8" textLength="85.2" lengthAdjust="spacingAndGlyphs">CD34-</tspan> <tspan x="1289.9" y="1961.8" textLength="166.4" lengthAdjust="spacingAndGlyphs">CD38+low/-</tspan> <tspan x="1461.9" y="1961.8" textLength="102.8" lengthAdjust="spacingAndGlyphs">CD117-</tspan> <tspan x="1336.2" y="2001" textLength="92.4" lengthAdjust="spacingAndGlyphs">CD33+</tspan></text>
<text font-size="35" fill="#000" class="b" stroke="#000" stroke-width="1.0" stroke-linejoin="round"><tspan x="1270.5" y="2344.8" textLength="116.1" lengthAdjust="spacingAndGlyphs">shRNA</tspan></text>
<text font-size="35" fill="#000" class="b" stroke="#000" stroke-width="1.0" stroke-linejoin="round"><tspan x="1463.1" y="2344.8" textLength="106.2" lengthAdjust="spacingAndGlyphs">shFAK</tspan> <tspan x="1579.8" y="2344.8" textLength="48.7" lengthAdjust="spacingAndGlyphs">KD</tspan></text>
</g>
</svg>
</body>
</html>
